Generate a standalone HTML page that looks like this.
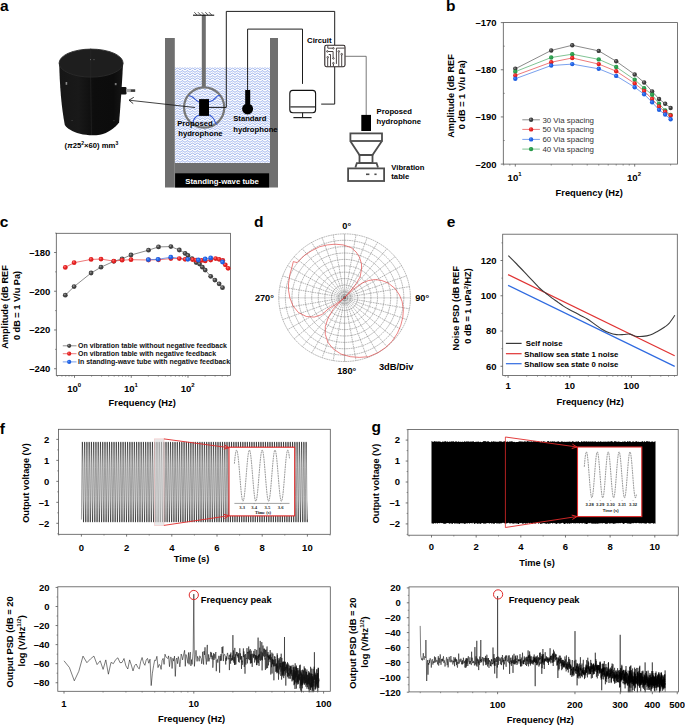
<!DOCTYPE html>
<html><head><meta charset="utf-8"><style>
html,body{margin:0;padding:0;background:#fff;width:685px;height:725px;overflow:hidden;}
svg{display:block;}
</style></head><body>
<svg width="685" height="725" viewBox="0 0 685 725" font-family="'Liberation Sans', sans-serif"><text x="0.00" y="10.90" font-size="15.5" font-weight="bold" text-anchor="start" fill="#000">a</text>
<text x="445.90" y="11.30" font-size="15.5" font-weight="bold" text-anchor="start" fill="#000">b</text>
<text x="-0.20" y="227.20" font-size="15.5" font-weight="bold" text-anchor="start" fill="#000">c</text>
<text x="253.90" y="227.20" font-size="15.5" font-weight="bold" text-anchor="start" fill="#000">d</text>
<text x="446.80" y="227.00" font-size="15.5" font-weight="bold" text-anchor="start" fill="#000">e</text>
<text x="-0.30" y="433.80" font-size="15.5" font-weight="bold" text-anchor="start" fill="#000">f</text>
<text x="371.50" y="431.80" font-size="15.5" font-weight="bold" text-anchor="start" fill="#000">g</text>
<defs>
<pattern id="water" x="175" y="67.5" width="5" height="2.5" patternUnits="userSpaceOnUse">
<path d="M-2.5,0.7 C-1.5,0.7 -1.2,2.0 0,2.0 C1.2,2.0 1.5,0.7 2.5,0.7 C3.5,0.7 3.8,2.0 5,2.0 C6.2,2.0 6.5,0.7 7.5,0.7" stroke="#3560d8" stroke-width="0.6" fill="none"/>
</pattern>
<linearGradient id="cylg" x1="0" x2="1" y1="0" y2="0">
<stop offset="0" stop-color="#161616"/><stop offset="0.3" stop-color="#191919"/><stop offset="0.55" stop-color="#0d0d0d"/><stop offset="0.85" stop-color="#0c0c0c"/><stop offset="1" stop-color="#161616"/>
</linearGradient>
</defs>
<path d="M59.2,63 C59.6,85 61.5,108 64.8,125 C67,128.5 72,131.5 80,133.8 C86,135.3 93,135.8 100,134.8 C108,133 115,128 119.1,122.5 C120.5,105 122,85 123.1,63 Z" stroke="none" stroke-width="1" fill="url(#cylg)"/>
<ellipse cx="91.1" cy="63.1" rx="32" ry="14" fill="#1e1e1e" stroke="#2a2a2a" stroke-width="0.9"/>
<line x1="90.70" y1="48.50" x2="90.70" y2="77.00" stroke="#2a2a2a" stroke-width="0.5"/>
<line x1="90.60" y1="77.00" x2="91.50" y2="135.00" stroke="#262626" stroke-width="0.6"/>
<rect x="65.60" y="82.00" width="1.60" height="2.80" fill="#8a8a8a" stroke="none" stroke-width="1" rx="0"/>
<rect x="114.80" y="83.00" width="1.80" height="2.20" fill="#777" stroke="none" stroke-width="1" rx="0"/>
<rect x="90.00" y="59.30" width="0.80" height="0.80" fill="#999" stroke="none" stroke-width="1" rx="0"/>
<rect x="93.60" y="59.30" width="0.80" height="0.80" fill="#999" stroke="none" stroke-width="1" rx="0"/>
<rect x="71.60" y="120.00" width="0.90" height="0.90" fill="#555" stroke="none" stroke-width="1" rx="0"/>
<rect x="113.50" y="120.30" width="0.90" height="0.90" fill="#555" stroke="none" stroke-width="1" rx="0"/>
<rect x="120.30" y="86.90" width="6.20" height="7.60" fill="#111" stroke="none" stroke-width="1" rx="1.2"/>
<rect x="126.30" y="88.90" width="4.70" height="3.20" fill="#a8a8a8" stroke="none" stroke-width="1" rx="0"/>
<rect x="130.80" y="89.30" width="4.40" height="2.60" fill="#3a3a3a" stroke="none" stroke-width="1" rx="0"/>
<text x="91.40" y="148.30" font-size="7.7" font-weight="bold" text-anchor="middle" fill="#000">(<tspan font-style="italic">π</tspan>25<tspan font-size="5" dy="-3">2</tspan><tspan dy="3">×60) mm</tspan><tspan font-size="5" dy="-3">3</tspan></text>
<rect x="174.80" y="67.20" width="95.20" height="95.80" fill="#fff" stroke="none" stroke-width="1" rx="0"/>
<rect x="174.80" y="67.20" width="95.20" height="95.80" fill="url(#water)" stroke="none" stroke-width="1" rx="0"/>
<rect x="165.00" y="38.00" width="9.80" height="149.50" fill="#6f6f6f" stroke="none" stroke-width="1" rx="0"/>
<rect x="270.00" y="38.00" width="8.00" height="149.50" fill="#6f6f6f" stroke="none" stroke-width="1" rx="0"/>
<rect x="174.80" y="163.00" width="95.20" height="24.50" fill="#6f6f6f" stroke="none" stroke-width="1" rx="0"/>
<rect x="175.10" y="173.30" width="94.00" height="14.20" fill="#000" stroke="none" stroke-width="1" rx="0"/>
<text x="222.10" y="183.60" font-size="7.8" font-weight="bold" text-anchor="middle" fill="#fff">Standing-wave tube</text>
<rect x="201.80" y="15.00" width="4.00" height="72.00" fill="#6f6f6f" stroke="none" stroke-width="1" rx="0"/>
<line x1="193.00" y1="15.20" x2="214.20" y2="15.20" stroke="#111" stroke-width="1.1"/>
<line x1="194.30" y1="12.20" x2="196.90" y2="14.90" stroke="#111" stroke-width="0.7"/>
<line x1="197.98" y1="12.20" x2="200.58" y2="14.90" stroke="#111" stroke-width="0.7"/>
<line x1="201.66" y1="12.20" x2="204.26" y2="14.90" stroke="#111" stroke-width="0.7"/>
<line x1="205.34" y1="12.20" x2="207.94" y2="14.90" stroke="#111" stroke-width="0.7"/>
<line x1="209.02" y1="12.20" x2="211.62" y2="14.90" stroke="#111" stroke-width="0.7"/>
<circle cx="204.15" cy="107.50" r="20.10" fill="none" stroke="#777" stroke-width="2.2"/>
<path d="M199,102.1 C196,100.5 194,98 192,96.8 S189.5,95.7 188.7,95.7" stroke="#3358d4" stroke-width="1.1" fill="none"/>
<path d="M209,101.8 C212,101 214.5,99.5 216.3,97.1 S219,95.7 220.3,95.7" stroke="#3358d4" stroke-width="1.1" fill="none"/>
<path d="M199,114.9 C196.5,116 194,118 193.4,120.9 S193,123 193,123.6" stroke="#3358d4" stroke-width="1.1" fill="none"/>
<path d="M209.3,114.9 C211.5,116 214,118.5 214.9,121.6 S216.5,124 217.6,124.3" stroke="#3358d4" stroke-width="1.1" fill="none"/>
<rect x="199.10" y="99.10" width="9.90" height="16.80" fill="#000" stroke="none" stroke-width="1" rx="0"/>
<line x1="195.00" y1="107.50" x2="129.00" y2="100.20" stroke="#111" stroke-width="0.8"/>
<polyline points="133.80,97.30 129.00,100.20 133.20,103.60" stroke="#111" stroke-width="0.8" fill="none"/>
<polyline points="209.00,107.40 226.30,107.40 226.30,11.40 334.70,11.40 334.70,45.30" stroke="#111" stroke-width="0.95" fill="none"/>
<polyline points="334.70,66.70 334.70,104.10 321.20,104.10" stroke="#111" stroke-width="0.95" fill="none"/>
<polyline points="247.60,90.00 247.60,29.10 302.50,29.10 302.50,83.90" stroke="#111" stroke-width="0.95" fill="none"/>
<rect x="245.20" y="90.00" width="5.00" height="14.00" fill="#000" stroke="none" stroke-width="1" rx="0"/>
<circle cx="247.60" cy="108.90" r="5.50" fill="#000" stroke="none" stroke-width="1"/>
<text x="177.20" y="125.60" font-size="7.7" font-weight="bold" text-anchor="start" fill="#000">Proposed</text>
<text x="178.20" y="135.80" font-size="7.7" font-weight="bold" text-anchor="start" fill="#000">hydrophone</text>
<text x="233.20" y="120.50" font-size="7.7" font-weight="bold" text-anchor="start" fill="#000">Standard</text>
<text x="233.20" y="131.80" font-size="7.7" font-weight="bold" text-anchor="start" fill="#000">hydrophone</text>
<rect x="289.80" y="90.40" width="25.80" height="22.30" fill="none" stroke="#111" stroke-width="1.1" rx="3"/>
<line x1="290.30" y1="106.90" x2="315.20" y2="106.90" stroke="#333" stroke-width="1.3"/>
<line x1="302.60" y1="112.80" x2="302.60" y2="117.60" stroke="#111" stroke-width="1"/>
<line x1="293.40" y1="117.60" x2="311.60" y2="117.60" stroke="#222" stroke-width="1.2"/>
<text x="307.10" y="42.80" font-size="7.7" font-weight="bold" text-anchor="start" fill="#000">Circuit</text>
<rect x="324.80" y="45.30" width="20.20" height="21.40" fill="#fff" stroke="#2a2222" stroke-width="1.1" rx="1.6"/>
<polyline points="327.80,45.80 327.80,48.20 332.60,48.20" stroke="#2a2222" stroke-width="0.85" fill="none"/>
<circle cx="333.40" cy="48.30" r="0.80" fill="none" stroke="#2a2222" stroke-width="0.75"/>
<polyline points="328.20,51.50 333.10,51.50 333.10,57.50" stroke="#2a2222" stroke-width="0.85" fill="none"/>
<circle cx="327.40" cy="51.40" r="0.80" fill="none" stroke="#2a2222" stroke-width="0.75"/>
<circle cx="333.40" cy="58.40" r="0.80" fill="none" stroke="#2a2222" stroke-width="0.75"/>
<polyline points="328.80,54.50 330.50,54.50 330.50,66.30" stroke="#2a2222" stroke-width="0.85" fill="none"/>
<circle cx="327.70" cy="57.30" r="0.80" fill="none" stroke="#2a2222" stroke-width="0.75"/>
<line x1="327.70" y1="58.10" x2="327.70" y2="66.30" stroke="#2a2222" stroke-width="0.85"/>
<circle cx="333.40" cy="63.20" r="0.80" fill="none" stroke="#2a2222" stroke-width="0.75"/>
<line x1="333.40" y1="64.00" x2="333.40" y2="66.30" stroke="#2a2222" stroke-width="0.85"/>
<polyline points="336.40,63.90 336.40,48.10 344.50,48.10" stroke="#2a2222" stroke-width="0.85" fill="none"/>
<circle cx="338.80" cy="51.40" r="0.80" fill="none" stroke="#2a2222" stroke-width="0.75"/>
<line x1="338.80" y1="52.20" x2="338.80" y2="66.30" stroke="#2a2222" stroke-width="0.85"/>
<circle cx="341.70" cy="54.20" r="0.80" fill="none" stroke="#2a2222" stroke-width="0.75"/>
<line x1="341.70" y1="55.00" x2="341.70" y2="66.30" stroke="#2a2222" stroke-width="0.85"/>
<polyline points="345.00,56.30 366.20,56.30 366.20,115.00" stroke="#555" stroke-width="0.8" fill="none"/>
<rect x="361.30" y="114.90" width="9.70" height="16.10" fill="#000" stroke="none" stroke-width="1" rx="0"/>
<rect x="350.40" y="133.40" width="31.60" height="7.60" fill="none" stroke="#4d4d4d" stroke-width="1.8" rx="0"/>
<path d="M350.6,141.4 L359.5,155 L372.5,155 L381.6,141.4" stroke="#4d4d4d" stroke-width="1.8" fill="none"/>
<rect x="359.50" y="155.00" width="13.00" height="8.00" fill="none" stroke="#4d4d4d" stroke-width="1.8" rx="0"/>
<path d="M355.4,167.5 L356.8,163.2 L376.6,163.2 L378,167.5" stroke="#4d4d4d" stroke-width="1.8" fill="none"/>
<rect x="348.10" y="168.40" width="36.00" height="12.60" fill="none" stroke="#4d4d4d" stroke-width="1.8" rx="0"/>
<line x1="366.00" y1="174.30" x2="369.40" y2="174.30" stroke="#4d4d4d" stroke-width="1.6"/>
<line x1="374.40" y1="174.30" x2="376.60" y2="174.30" stroke="#4d4d4d" stroke-width="1.6"/>
<text x="376.60" y="113.60" font-size="7.7" font-weight="bold" text-anchor="start" fill="#000">Proposed</text>
<text x="376.60" y="123.80" font-size="7.7" font-weight="bold" text-anchor="start" fill="#000">hydrophone</text>
<text x="391.30" y="170.30" font-size="7.7" font-weight="bold" text-anchor="start" fill="#000">Vibration</text>
<text x="391.30" y="179.40" font-size="7.7" font-weight="bold" text-anchor="start" fill="#000">table</text>
<rect x="503.30" y="22.60" width="174.20" height="141.50" fill="none" stroke="#555" stroke-width="0.8" rx="0"/>
<line x1="500.80" y1="22.60" x2="503.30" y2="22.60" stroke="#555" stroke-width="0.8"/>
<text x="496.60" y="26.10" font-size="9.5" font-weight="bold" text-anchor="end" fill="#000">–170</text>
<line x1="500.80" y1="69.77" x2="503.30" y2="69.77" stroke="#555" stroke-width="0.8"/>
<text x="496.60" y="73.27" font-size="9.5" font-weight="bold" text-anchor="end" fill="#000">–180</text>
<line x1="500.80" y1="116.93" x2="503.30" y2="116.93" stroke="#555" stroke-width="0.8"/>
<text x="496.60" y="120.43" font-size="9.5" font-weight="bold" text-anchor="end" fill="#000">–190</text>
<line x1="500.80" y1="164.10" x2="503.30" y2="164.10" stroke="#555" stroke-width="0.8"/>
<text x="496.60" y="167.60" font-size="9.5" font-weight="bold" text-anchor="end" fill="#000">–200</text>
<line x1="503.30" y1="46.18" x2="504.80" y2="46.18" stroke="#555" stroke-width="0.6"/>
<line x1="503.30" y1="93.35" x2="504.80" y2="93.35" stroke="#555" stroke-width="0.6"/>
<line x1="503.30" y1="140.52" x2="504.80" y2="140.52" stroke="#555" stroke-width="0.6"/>
<line x1="515.30" y1="164.10" x2="515.30" y2="166.60" stroke="#555" stroke-width="0.8"/>
<line x1="634.70" y1="164.10" x2="634.70" y2="166.60" stroke="#555" stroke-width="0.8"/>
<line x1="503.73" y1="164.10" x2="503.73" y2="165.60" stroke="#555" stroke-width="0.6"/>
<line x1="509.84" y1="164.10" x2="509.84" y2="165.60" stroke="#555" stroke-width="0.6"/>
<line x1="551.24" y1="164.10" x2="551.24" y2="165.60" stroke="#555" stroke-width="0.6"/>
<line x1="572.27" y1="164.10" x2="572.27" y2="165.60" stroke="#555" stroke-width="0.6"/>
<line x1="587.19" y1="164.10" x2="587.19" y2="165.60" stroke="#555" stroke-width="0.6"/>
<line x1="598.76" y1="164.10" x2="598.76" y2="165.60" stroke="#555" stroke-width="0.6"/>
<line x1="608.21" y1="164.10" x2="608.21" y2="165.60" stroke="#555" stroke-width="0.6"/>
<line x1="616.20" y1="164.10" x2="616.20" y2="165.60" stroke="#555" stroke-width="0.6"/>
<line x1="623.13" y1="164.10" x2="623.13" y2="165.60" stroke="#555" stroke-width="0.6"/>
<line x1="629.24" y1="164.10" x2="629.24" y2="165.60" stroke="#555" stroke-width="0.6"/>
<line x1="670.64" y1="164.10" x2="670.64" y2="165.60" stroke="#555" stroke-width="0.6"/>
<text x="514.60" y="181.00" font-size="9.6" font-weight="bold" text-anchor="middle" fill="#000">10<tspan font-size="6" dy="-4.6">1</tspan></text>
<text x="634.00" y="181.00" font-size="9.6" font-weight="bold" text-anchor="middle" fill="#000">10<tspan font-size="6" dy="-4.6">2</tspan></text>
<text x="589.20" y="195.50" font-size="9.3" font-weight="bold" text-anchor="middle" fill="#000">Frequency (Hz)</text>
<text x="454.30" y="96.00" font-size="9.2" font-weight="bold" text-anchor="middle" fill="#000" transform="rotate(-90 454.3 96)">Amplitude (dB REF</text>
<text x="465.50" y="94.70" font-size="9.2" font-weight="bold" text-anchor="middle" fill="#000" transform="rotate(-90 465.5 94.7)">0 dB = 1 V/u Pa)</text>
<polyline points="515.30,68.82 551.24,50.43 572.27,45.24 598.76,50.90 616.20,61.28 634.70,74.48 644.15,82.50 652.15,91.46 659.07,99.01 665.18,103.73 670.64,107.97" stroke="#3a3a3a" stroke-width="0.6" fill="none"/>
<polyline points="515.30,71.65 551.24,57.50 572.27,54.20 598.76,59.39 616.20,66.94 634.70,79.67 644.15,88.16 652.15,94.77 659.07,103.73 665.18,110.33 670.64,115.05" stroke="#2a9a4a" stroke-width="0.6" fill="none"/>
<polyline points="515.30,75.43 551.24,62.22 572.27,57.98 598.76,64.11 616.20,71.18 634.70,83.45 644.15,90.99 652.15,99.01 659.07,106.56 665.18,111.75 670.64,115.52" stroke="#e02020" stroke-width="0.6" fill="none"/>
<polyline points="515.30,78.73 551.24,65.52 572.27,64.11 598.76,68.82 616.20,75.90 634.70,87.22 644.15,94.29 652.15,102.31 659.07,109.86 665.18,114.57 670.64,119.29" stroke="#1f5fe0" stroke-width="0.6" fill="none"/>
<circle cx="515.30" cy="68.82" r="2.20" fill="#3a3a3a" stroke="none" stroke-width="1"/>
<circle cx="514.80" cy="68.22" r="0.90" fill="#808080" stroke="none" stroke-width="1"/>
<circle cx="551.24" cy="50.43" r="2.20" fill="#3a3a3a" stroke="none" stroke-width="1"/>
<circle cx="550.74" cy="49.83" r="0.90" fill="#808080" stroke="none" stroke-width="1"/>
<circle cx="572.27" cy="45.24" r="2.20" fill="#3a3a3a" stroke="none" stroke-width="1"/>
<circle cx="571.77" cy="44.64" r="0.90" fill="#808080" stroke="none" stroke-width="1"/>
<circle cx="598.76" cy="50.90" r="2.20" fill="#3a3a3a" stroke="none" stroke-width="1"/>
<circle cx="598.26" cy="50.30" r="0.90" fill="#808080" stroke="none" stroke-width="1"/>
<circle cx="616.20" cy="61.28" r="2.20" fill="#3a3a3a" stroke="none" stroke-width="1"/>
<circle cx="615.70" cy="60.68" r="0.90" fill="#808080" stroke="none" stroke-width="1"/>
<circle cx="634.70" cy="74.48" r="2.20" fill="#3a3a3a" stroke="none" stroke-width="1"/>
<circle cx="634.20" cy="73.88" r="0.90" fill="#808080" stroke="none" stroke-width="1"/>
<circle cx="644.15" cy="82.50" r="2.20" fill="#3a3a3a" stroke="none" stroke-width="1"/>
<circle cx="643.65" cy="81.90" r="0.90" fill="#808080" stroke="none" stroke-width="1"/>
<circle cx="652.15" cy="91.46" r="2.20" fill="#3a3a3a" stroke="none" stroke-width="1"/>
<circle cx="651.65" cy="90.86" r="0.90" fill="#808080" stroke="none" stroke-width="1"/>
<circle cx="659.07" cy="99.01" r="2.20" fill="#3a3a3a" stroke="none" stroke-width="1"/>
<circle cx="658.57" cy="98.41" r="0.90" fill="#808080" stroke="none" stroke-width="1"/>
<circle cx="665.18" cy="103.73" r="2.20" fill="#3a3a3a" stroke="none" stroke-width="1"/>
<circle cx="664.68" cy="103.13" r="0.90" fill="#808080" stroke="none" stroke-width="1"/>
<circle cx="670.64" cy="107.97" r="2.20" fill="#3a3a3a" stroke="none" stroke-width="1"/>
<circle cx="670.14" cy="107.37" r="0.90" fill="#808080" stroke="none" stroke-width="1"/>
<circle cx="515.30" cy="71.65" r="2.20" fill="#2a9a4a" stroke="none" stroke-width="1"/>
<circle cx="514.80" cy="71.05" r="0.90" fill="#3cb060" stroke="none" stroke-width="1"/>
<circle cx="551.24" cy="57.50" r="2.20" fill="#2a9a4a" stroke="none" stroke-width="1"/>
<circle cx="550.74" cy="56.90" r="0.90" fill="#3cb060" stroke="none" stroke-width="1"/>
<circle cx="572.27" cy="54.20" r="2.20" fill="#2a9a4a" stroke="none" stroke-width="1"/>
<circle cx="571.77" cy="53.60" r="0.90" fill="#3cb060" stroke="none" stroke-width="1"/>
<circle cx="598.76" cy="59.39" r="2.20" fill="#2a9a4a" stroke="none" stroke-width="1"/>
<circle cx="598.26" cy="58.79" r="0.90" fill="#3cb060" stroke="none" stroke-width="1"/>
<circle cx="616.20" cy="66.94" r="2.20" fill="#2a9a4a" stroke="none" stroke-width="1"/>
<circle cx="615.70" cy="66.34" r="0.90" fill="#3cb060" stroke="none" stroke-width="1"/>
<circle cx="634.70" cy="79.67" r="2.20" fill="#2a9a4a" stroke="none" stroke-width="1"/>
<circle cx="634.20" cy="79.07" r="0.90" fill="#3cb060" stroke="none" stroke-width="1"/>
<circle cx="644.15" cy="88.16" r="2.20" fill="#2a9a4a" stroke="none" stroke-width="1"/>
<circle cx="643.65" cy="87.56" r="0.90" fill="#3cb060" stroke="none" stroke-width="1"/>
<circle cx="652.15" cy="94.77" r="2.20" fill="#2a9a4a" stroke="none" stroke-width="1"/>
<circle cx="651.65" cy="94.17" r="0.90" fill="#3cb060" stroke="none" stroke-width="1"/>
<circle cx="659.07" cy="103.73" r="2.20" fill="#2a9a4a" stroke="none" stroke-width="1"/>
<circle cx="658.57" cy="103.13" r="0.90" fill="#3cb060" stroke="none" stroke-width="1"/>
<circle cx="665.18" cy="110.33" r="2.20" fill="#2a9a4a" stroke="none" stroke-width="1"/>
<circle cx="664.68" cy="109.73" r="0.90" fill="#3cb060" stroke="none" stroke-width="1"/>
<circle cx="670.64" cy="115.05" r="2.20" fill="#2a9a4a" stroke="none" stroke-width="1"/>
<circle cx="670.14" cy="114.45" r="0.90" fill="#3cb060" stroke="none" stroke-width="1"/>
<circle cx="515.30" cy="75.43" r="2.20" fill="#e02020" stroke="none" stroke-width="1"/>
<circle cx="514.80" cy="74.83" r="0.90" fill="#ff5050" stroke="none" stroke-width="1"/>
<circle cx="551.24" cy="62.22" r="2.20" fill="#e02020" stroke="none" stroke-width="1"/>
<circle cx="550.74" cy="61.62" r="0.90" fill="#ff5050" stroke="none" stroke-width="1"/>
<circle cx="572.27" cy="57.98" r="2.20" fill="#e02020" stroke="none" stroke-width="1"/>
<circle cx="571.77" cy="57.38" r="0.90" fill="#ff5050" stroke="none" stroke-width="1"/>
<circle cx="598.76" cy="64.11" r="2.20" fill="#e02020" stroke="none" stroke-width="1"/>
<circle cx="598.26" cy="63.51" r="0.90" fill="#ff5050" stroke="none" stroke-width="1"/>
<circle cx="616.20" cy="71.18" r="2.20" fill="#e02020" stroke="none" stroke-width="1"/>
<circle cx="615.70" cy="70.58" r="0.90" fill="#ff5050" stroke="none" stroke-width="1"/>
<circle cx="634.70" cy="83.45" r="2.20" fill="#e02020" stroke="none" stroke-width="1"/>
<circle cx="634.20" cy="82.85" r="0.90" fill="#ff5050" stroke="none" stroke-width="1"/>
<circle cx="644.15" cy="90.99" r="2.20" fill="#e02020" stroke="none" stroke-width="1"/>
<circle cx="643.65" cy="90.39" r="0.90" fill="#ff5050" stroke="none" stroke-width="1"/>
<circle cx="652.15" cy="99.01" r="2.20" fill="#e02020" stroke="none" stroke-width="1"/>
<circle cx="651.65" cy="98.41" r="0.90" fill="#ff5050" stroke="none" stroke-width="1"/>
<circle cx="659.07" cy="106.56" r="2.20" fill="#e02020" stroke="none" stroke-width="1"/>
<circle cx="658.57" cy="105.96" r="0.90" fill="#ff5050" stroke="none" stroke-width="1"/>
<circle cx="665.18" cy="111.75" r="2.20" fill="#e02020" stroke="none" stroke-width="1"/>
<circle cx="664.68" cy="111.15" r="0.90" fill="#ff5050" stroke="none" stroke-width="1"/>
<circle cx="670.64" cy="115.52" r="2.20" fill="#e02020" stroke="none" stroke-width="1"/>
<circle cx="670.14" cy="114.92" r="0.90" fill="#ff5050" stroke="none" stroke-width="1"/>
<circle cx="515.30" cy="78.73" r="2.20" fill="#1f5fe0" stroke="none" stroke-width="1"/>
<circle cx="514.80" cy="78.13" r="0.90" fill="#4a88ff" stroke="none" stroke-width="1"/>
<circle cx="551.24" cy="65.52" r="2.20" fill="#1f5fe0" stroke="none" stroke-width="1"/>
<circle cx="550.74" cy="64.92" r="0.90" fill="#4a88ff" stroke="none" stroke-width="1"/>
<circle cx="572.27" cy="64.11" r="2.20" fill="#1f5fe0" stroke="none" stroke-width="1"/>
<circle cx="571.77" cy="63.51" r="0.90" fill="#4a88ff" stroke="none" stroke-width="1"/>
<circle cx="598.76" cy="68.82" r="2.20" fill="#1f5fe0" stroke="none" stroke-width="1"/>
<circle cx="598.26" cy="68.22" r="0.90" fill="#4a88ff" stroke="none" stroke-width="1"/>
<circle cx="616.20" cy="75.90" r="2.20" fill="#1f5fe0" stroke="none" stroke-width="1"/>
<circle cx="615.70" cy="75.30" r="0.90" fill="#4a88ff" stroke="none" stroke-width="1"/>
<circle cx="634.70" cy="87.22" r="2.20" fill="#1f5fe0" stroke="none" stroke-width="1"/>
<circle cx="634.20" cy="86.62" r="0.90" fill="#4a88ff" stroke="none" stroke-width="1"/>
<circle cx="644.15" cy="94.29" r="2.20" fill="#1f5fe0" stroke="none" stroke-width="1"/>
<circle cx="643.65" cy="93.69" r="0.90" fill="#4a88ff" stroke="none" stroke-width="1"/>
<circle cx="652.15" cy="102.31" r="2.20" fill="#1f5fe0" stroke="none" stroke-width="1"/>
<circle cx="651.65" cy="101.71" r="0.90" fill="#4a88ff" stroke="none" stroke-width="1"/>
<circle cx="659.07" cy="109.86" r="2.20" fill="#1f5fe0" stroke="none" stroke-width="1"/>
<circle cx="658.57" cy="109.26" r="0.90" fill="#4a88ff" stroke="none" stroke-width="1"/>
<circle cx="665.18" cy="114.57" r="2.20" fill="#1f5fe0" stroke="none" stroke-width="1"/>
<circle cx="664.68" cy="113.97" r="0.90" fill="#4a88ff" stroke="none" stroke-width="1"/>
<circle cx="670.64" cy="119.29" r="2.20" fill="#1f5fe0" stroke="none" stroke-width="1"/>
<circle cx="670.14" cy="118.69" r="0.90" fill="#4a88ff" stroke="none" stroke-width="1"/>
<line x1="522.30" y1="119.80" x2="539.90" y2="119.80" stroke="#3a3a3a" stroke-width="0.6"/>
<circle cx="531.10" cy="119.80" r="2.20" fill="#3a3a3a" stroke="none" stroke-width="1"/>
<circle cx="530.60" cy="119.20" r="0.90" fill="#808080" stroke="none" stroke-width="1"/>
<text x="542.40" y="122.60" font-size="7.9" font-weight="normal" text-anchor="start" fill="#333">30 Via spacing</text>
<line x1="522.30" y1="129.40" x2="539.90" y2="129.40" stroke="#e02020" stroke-width="0.6"/>
<circle cx="531.10" cy="129.40" r="2.20" fill="#e02020" stroke="none" stroke-width="1"/>
<circle cx="530.60" cy="128.80" r="0.90" fill="#ff5050" stroke="none" stroke-width="1"/>
<text x="542.40" y="132.20" font-size="7.9" font-weight="normal" text-anchor="start" fill="#333">50 Via spacing</text>
<line x1="522.30" y1="139.40" x2="539.90" y2="139.40" stroke="#1f5fe0" stroke-width="0.6"/>
<circle cx="531.10" cy="139.40" r="2.20" fill="#1f5fe0" stroke="none" stroke-width="1"/>
<circle cx="530.60" cy="138.80" r="0.90" fill="#4a88ff" stroke="none" stroke-width="1"/>
<text x="542.40" y="142.20" font-size="7.9" font-weight="normal" text-anchor="start" fill="#333">60 Via spacing</text>
<line x1="522.30" y1="149.10" x2="539.90" y2="149.10" stroke="#2a9a4a" stroke-width="0.6"/>
<circle cx="531.10" cy="149.10" r="2.20" fill="#2a9a4a" stroke="none" stroke-width="1"/>
<circle cx="530.60" cy="148.50" r="0.90" fill="#3cb060" stroke="none" stroke-width="1"/>
<text x="542.40" y="151.90" font-size="7.9" font-weight="normal" text-anchor="start" fill="#333">40 Via spacing</text>
<rect x="56.30" y="233.30" width="174.10" height="142.20" fill="none" stroke="#555" stroke-width="0.8" rx="0"/>
<line x1="54.10" y1="252.50" x2="56.30" y2="252.50" stroke="#555" stroke-width="0.8"/>
<text x="50.30" y="256.00" font-size="9.5" font-weight="bold" text-anchor="end" fill="#000">–180</text>
<line x1="54.10" y1="291.24" x2="56.30" y2="291.24" stroke="#555" stroke-width="0.8"/>
<text x="50.30" y="294.74" font-size="9.5" font-weight="bold" text-anchor="end" fill="#000">–200</text>
<line x1="54.10" y1="329.98" x2="56.30" y2="329.98" stroke="#555" stroke-width="0.8"/>
<text x="50.30" y="333.48" font-size="9.5" font-weight="bold" text-anchor="end" fill="#000">–220</text>
<line x1="54.10" y1="368.72" x2="56.30" y2="368.72" stroke="#555" stroke-width="0.8"/>
<text x="50.30" y="372.22" font-size="9.5" font-weight="bold" text-anchor="end" fill="#000">–240</text>
<line x1="55.00" y1="233.13" x2="56.30" y2="233.13" stroke="#555" stroke-width="0.6"/>
<line x1="55.00" y1="271.87" x2="56.30" y2="271.87" stroke="#555" stroke-width="0.6"/>
<line x1="55.00" y1="310.61" x2="56.30" y2="310.61" stroke="#555" stroke-width="0.6"/>
<line x1="55.00" y1="349.35" x2="56.30" y2="349.35" stroke="#555" stroke-width="0.6"/>
<line x1="74.50" y1="375.50" x2="74.50" y2="377.80" stroke="#555" stroke-width="0.8"/>
<line x1="131.25" y1="375.50" x2="131.25" y2="377.80" stroke="#555" stroke-width="0.8"/>
<line x1="188.00" y1="375.50" x2="188.00" y2="377.80" stroke="#555" stroke-width="0.8"/>
<line x1="57.42" y1="375.50" x2="57.42" y2="376.80" stroke="#555" stroke-width="0.5"/>
<line x1="61.91" y1="375.50" x2="61.91" y2="376.80" stroke="#555" stroke-width="0.5"/>
<line x1="65.71" y1="375.50" x2="65.71" y2="376.80" stroke="#555" stroke-width="0.5"/>
<line x1="69.00" y1="375.50" x2="69.00" y2="376.80" stroke="#555" stroke-width="0.5"/>
<line x1="71.90" y1="375.50" x2="71.90" y2="376.80" stroke="#555" stroke-width="0.5"/>
<line x1="91.58" y1="375.50" x2="91.58" y2="376.80" stroke="#555" stroke-width="0.5"/>
<line x1="101.58" y1="375.50" x2="101.58" y2="376.80" stroke="#555" stroke-width="0.5"/>
<line x1="108.67" y1="375.50" x2="108.67" y2="376.80" stroke="#555" stroke-width="0.5"/>
<line x1="114.17" y1="375.50" x2="114.17" y2="376.80" stroke="#555" stroke-width="0.5"/>
<line x1="118.66" y1="375.50" x2="118.66" y2="376.80" stroke="#555" stroke-width="0.5"/>
<line x1="122.46" y1="375.50" x2="122.46" y2="376.80" stroke="#555" stroke-width="0.5"/>
<line x1="125.75" y1="375.50" x2="125.75" y2="376.80" stroke="#555" stroke-width="0.5"/>
<line x1="128.65" y1="375.50" x2="128.65" y2="376.80" stroke="#555" stroke-width="0.5"/>
<line x1="148.33" y1="375.50" x2="148.33" y2="376.80" stroke="#555" stroke-width="0.5"/>
<line x1="158.33" y1="375.50" x2="158.33" y2="376.80" stroke="#555" stroke-width="0.5"/>
<line x1="165.42" y1="375.50" x2="165.42" y2="376.80" stroke="#555" stroke-width="0.5"/>
<line x1="170.92" y1="375.50" x2="170.92" y2="376.80" stroke="#555" stroke-width="0.5"/>
<line x1="175.41" y1="375.50" x2="175.41" y2="376.80" stroke="#555" stroke-width="0.5"/>
<line x1="179.21" y1="375.50" x2="179.21" y2="376.80" stroke="#555" stroke-width="0.5"/>
<line x1="182.50" y1="375.50" x2="182.50" y2="376.80" stroke="#555" stroke-width="0.5"/>
<line x1="185.40" y1="375.50" x2="185.40" y2="376.80" stroke="#555" stroke-width="0.5"/>
<line x1="205.08" y1="375.50" x2="205.08" y2="376.80" stroke="#555" stroke-width="0.5"/>
<line x1="215.08" y1="375.50" x2="215.08" y2="376.80" stroke="#555" stroke-width="0.5"/>
<line x1="222.17" y1="375.50" x2="222.17" y2="376.80" stroke="#555" stroke-width="0.5"/>
<line x1="227.67" y1="375.50" x2="227.67" y2="376.80" stroke="#555" stroke-width="0.5"/>
<text x="74.20" y="391.60" font-size="9.6" font-weight="bold" text-anchor="middle" fill="#000">10<tspan font-size="6" dy="-4.6">0</tspan></text>
<text x="130.95" y="391.60" font-size="9.6" font-weight="bold" text-anchor="middle" fill="#000">10<tspan font-size="6" dy="-4.6">1</tspan></text>
<text x="187.70" y="391.60" font-size="9.6" font-weight="bold" text-anchor="middle" fill="#000">10<tspan font-size="6" dy="-4.6">2</tspan></text>
<text x="142.20" y="406.00" font-size="9.3" font-weight="bold" text-anchor="middle" fill="#000">Frequency (Hz)</text>
<text x="7.70" y="307.00" font-size="9.2" font-weight="bold" text-anchor="middle" fill="#000" transform="rotate(-90 7.7 307)">Amplitude (dB REF</text>
<text x="19.50" y="305.50" font-size="9.2" font-weight="bold" text-anchor="middle" fill="#000" transform="rotate(-90 19.5 305.5)">0 dB = 1 V/u Pa)</text>
<polyline points="65.30,295.20 74.10,286.60 91.10,273.00 101.00,267.20 113.80,261.30 122.10,258.80 131.00,255.00 148.50,250.20 158.50,246.90 170.90,246.60 179.30,250.00 185.10,253.30 187.90,255.50 192.00,258.60 196.20,262.50 199.60,264.10 202.40,267.20 205.20,270.10 210.70,276.30 214.90,280.10 219.10,283.80 222.50,287.70" stroke="#404040" stroke-width="0.6" fill="none"/>
<polyline points="65.30,267.40 74.10,262.70 91.10,259.40 101.00,259.10 113.80,261.10 122.10,260.20 131.00,259.70 148.50,260.00 158.50,259.80 170.90,258.60 179.30,258.60 185.10,259.30 192.70,259.70 196.20,260.20 201.70,260.40 205.20,260.90 210.70,260.00 215.60,258.60 219.10,259.30 222.80,260.50 225.30,264.80 228.10,268.30" stroke="#e02020" stroke-width="0.6" fill="none"/>
<polyline points="148.30,259.70 158.00,259.30 170.80,257.20 187.90,259.30 198.30,260.00 205.20,259.00 210.70,257.90 222.50,262.00" stroke="#1f5fe0" stroke-width="0.6" fill="none"/>
<circle cx="65.30" cy="295.20" r="2.40" fill="#404040" stroke="none" stroke-width="1"/>
<circle cx="64.80" cy="294.60" r="1.00" fill="#8a8a8a" stroke="none" stroke-width="1"/>
<circle cx="74.10" cy="286.60" r="2.40" fill="#404040" stroke="none" stroke-width="1"/>
<circle cx="73.60" cy="286.00" r="1.00" fill="#8a8a8a" stroke="none" stroke-width="1"/>
<circle cx="91.10" cy="273.00" r="2.40" fill="#404040" stroke="none" stroke-width="1"/>
<circle cx="90.60" cy="272.40" r="1.00" fill="#8a8a8a" stroke="none" stroke-width="1"/>
<circle cx="101.00" cy="267.20" r="2.40" fill="#404040" stroke="none" stroke-width="1"/>
<circle cx="100.50" cy="266.60" r="1.00" fill="#8a8a8a" stroke="none" stroke-width="1"/>
<circle cx="113.80" cy="261.30" r="2.40" fill="#404040" stroke="none" stroke-width="1"/>
<circle cx="113.30" cy="260.70" r="1.00" fill="#8a8a8a" stroke="none" stroke-width="1"/>
<circle cx="122.10" cy="258.80" r="2.40" fill="#404040" stroke="none" stroke-width="1"/>
<circle cx="121.60" cy="258.20" r="1.00" fill="#8a8a8a" stroke="none" stroke-width="1"/>
<circle cx="131.00" cy="255.00" r="2.40" fill="#404040" stroke="none" stroke-width="1"/>
<circle cx="130.50" cy="254.40" r="1.00" fill="#8a8a8a" stroke="none" stroke-width="1"/>
<circle cx="148.50" cy="250.20" r="2.40" fill="#404040" stroke="none" stroke-width="1"/>
<circle cx="148.00" cy="249.60" r="1.00" fill="#8a8a8a" stroke="none" stroke-width="1"/>
<circle cx="158.50" cy="246.90" r="2.40" fill="#404040" stroke="none" stroke-width="1"/>
<circle cx="158.00" cy="246.30" r="1.00" fill="#8a8a8a" stroke="none" stroke-width="1"/>
<circle cx="170.90" cy="246.60" r="2.40" fill="#404040" stroke="none" stroke-width="1"/>
<circle cx="170.40" cy="246.00" r="1.00" fill="#8a8a8a" stroke="none" stroke-width="1"/>
<circle cx="179.30" cy="250.00" r="2.40" fill="#404040" stroke="none" stroke-width="1"/>
<circle cx="178.80" cy="249.40" r="1.00" fill="#8a8a8a" stroke="none" stroke-width="1"/>
<circle cx="185.10" cy="253.30" r="2.40" fill="#404040" stroke="none" stroke-width="1"/>
<circle cx="184.60" cy="252.70" r="1.00" fill="#8a8a8a" stroke="none" stroke-width="1"/>
<circle cx="187.90" cy="255.50" r="2.40" fill="#404040" stroke="none" stroke-width="1"/>
<circle cx="187.40" cy="254.90" r="1.00" fill="#8a8a8a" stroke="none" stroke-width="1"/>
<circle cx="192.00" cy="258.60" r="2.40" fill="#404040" stroke="none" stroke-width="1"/>
<circle cx="191.50" cy="258.00" r="1.00" fill="#8a8a8a" stroke="none" stroke-width="1"/>
<circle cx="196.20" cy="262.50" r="2.40" fill="#404040" stroke="none" stroke-width="1"/>
<circle cx="195.70" cy="261.90" r="1.00" fill="#8a8a8a" stroke="none" stroke-width="1"/>
<circle cx="199.60" cy="264.10" r="2.40" fill="#404040" stroke="none" stroke-width="1"/>
<circle cx="199.10" cy="263.50" r="1.00" fill="#8a8a8a" stroke="none" stroke-width="1"/>
<circle cx="202.40" cy="267.20" r="2.40" fill="#404040" stroke="none" stroke-width="1"/>
<circle cx="201.90" cy="266.60" r="1.00" fill="#8a8a8a" stroke="none" stroke-width="1"/>
<circle cx="205.20" cy="270.10" r="2.40" fill="#404040" stroke="none" stroke-width="1"/>
<circle cx="204.70" cy="269.50" r="1.00" fill="#8a8a8a" stroke="none" stroke-width="1"/>
<circle cx="210.70" cy="276.30" r="2.40" fill="#404040" stroke="none" stroke-width="1"/>
<circle cx="210.20" cy="275.70" r="1.00" fill="#8a8a8a" stroke="none" stroke-width="1"/>
<circle cx="214.90" cy="280.10" r="2.40" fill="#404040" stroke="none" stroke-width="1"/>
<circle cx="214.40" cy="279.50" r="1.00" fill="#8a8a8a" stroke="none" stroke-width="1"/>
<circle cx="219.10" cy="283.80" r="2.40" fill="#404040" stroke="none" stroke-width="1"/>
<circle cx="218.60" cy="283.20" r="1.00" fill="#8a8a8a" stroke="none" stroke-width="1"/>
<circle cx="222.50" cy="287.70" r="2.40" fill="#404040" stroke="none" stroke-width="1"/>
<circle cx="222.00" cy="287.10" r="1.00" fill="#8a8a8a" stroke="none" stroke-width="1"/>
<circle cx="65.30" cy="267.40" r="2.40" fill="#e02020" stroke="none" stroke-width="1"/>
<circle cx="64.80" cy="266.80" r="1.00" fill="#ff6060" stroke="none" stroke-width="1"/>
<circle cx="74.10" cy="262.70" r="2.40" fill="#e02020" stroke="none" stroke-width="1"/>
<circle cx="73.60" cy="262.10" r="1.00" fill="#ff6060" stroke="none" stroke-width="1"/>
<circle cx="91.10" cy="259.40" r="2.40" fill="#e02020" stroke="none" stroke-width="1"/>
<circle cx="90.60" cy="258.80" r="1.00" fill="#ff6060" stroke="none" stroke-width="1"/>
<circle cx="101.00" cy="259.10" r="2.40" fill="#e02020" stroke="none" stroke-width="1"/>
<circle cx="100.50" cy="258.50" r="1.00" fill="#ff6060" stroke="none" stroke-width="1"/>
<circle cx="113.80" cy="261.10" r="2.40" fill="#e02020" stroke="none" stroke-width="1"/>
<circle cx="113.30" cy="260.50" r="1.00" fill="#ff6060" stroke="none" stroke-width="1"/>
<circle cx="122.10" cy="260.20" r="2.40" fill="#e02020" stroke="none" stroke-width="1"/>
<circle cx="121.60" cy="259.60" r="1.00" fill="#ff6060" stroke="none" stroke-width="1"/>
<circle cx="131.00" cy="259.70" r="2.40" fill="#e02020" stroke="none" stroke-width="1"/>
<circle cx="130.50" cy="259.10" r="1.00" fill="#ff6060" stroke="none" stroke-width="1"/>
<circle cx="148.50" cy="260.00" r="2.40" fill="#e02020" stroke="none" stroke-width="1"/>
<circle cx="148.00" cy="259.40" r="1.00" fill="#ff6060" stroke="none" stroke-width="1"/>
<circle cx="158.50" cy="259.80" r="2.40" fill="#e02020" stroke="none" stroke-width="1"/>
<circle cx="158.00" cy="259.20" r="1.00" fill="#ff6060" stroke="none" stroke-width="1"/>
<circle cx="170.90" cy="258.60" r="2.40" fill="#e02020" stroke="none" stroke-width="1"/>
<circle cx="170.40" cy="258.00" r="1.00" fill="#ff6060" stroke="none" stroke-width="1"/>
<circle cx="179.30" cy="258.60" r="2.40" fill="#e02020" stroke="none" stroke-width="1"/>
<circle cx="178.80" cy="258.00" r="1.00" fill="#ff6060" stroke="none" stroke-width="1"/>
<circle cx="185.10" cy="259.30" r="2.40" fill="#e02020" stroke="none" stroke-width="1"/>
<circle cx="184.60" cy="258.70" r="1.00" fill="#ff6060" stroke="none" stroke-width="1"/>
<circle cx="192.70" cy="259.70" r="2.40" fill="#e02020" stroke="none" stroke-width="1"/>
<circle cx="192.20" cy="259.10" r="1.00" fill="#ff6060" stroke="none" stroke-width="1"/>
<circle cx="196.20" cy="260.20" r="2.40" fill="#e02020" stroke="none" stroke-width="1"/>
<circle cx="195.70" cy="259.60" r="1.00" fill="#ff6060" stroke="none" stroke-width="1"/>
<circle cx="201.70" cy="260.40" r="2.40" fill="#e02020" stroke="none" stroke-width="1"/>
<circle cx="201.20" cy="259.80" r="1.00" fill="#ff6060" stroke="none" stroke-width="1"/>
<circle cx="205.20" cy="260.90" r="2.40" fill="#e02020" stroke="none" stroke-width="1"/>
<circle cx="204.70" cy="260.30" r="1.00" fill="#ff6060" stroke="none" stroke-width="1"/>
<circle cx="210.70" cy="260.00" r="2.40" fill="#e02020" stroke="none" stroke-width="1"/>
<circle cx="210.20" cy="259.40" r="1.00" fill="#ff6060" stroke="none" stroke-width="1"/>
<circle cx="215.60" cy="258.60" r="2.40" fill="#e02020" stroke="none" stroke-width="1"/>
<circle cx="215.10" cy="258.00" r="1.00" fill="#ff6060" stroke="none" stroke-width="1"/>
<circle cx="219.10" cy="259.30" r="2.40" fill="#e02020" stroke="none" stroke-width="1"/>
<circle cx="218.60" cy="258.70" r="1.00" fill="#ff6060" stroke="none" stroke-width="1"/>
<circle cx="222.80" cy="260.50" r="2.40" fill="#e02020" stroke="none" stroke-width="1"/>
<circle cx="222.30" cy="259.90" r="1.00" fill="#ff6060" stroke="none" stroke-width="1"/>
<circle cx="225.30" cy="264.80" r="2.40" fill="#e02020" stroke="none" stroke-width="1"/>
<circle cx="224.80" cy="264.20" r="1.00" fill="#ff6060" stroke="none" stroke-width="1"/>
<circle cx="228.10" cy="268.30" r="2.40" fill="#e02020" stroke="none" stroke-width="1"/>
<circle cx="227.60" cy="267.70" r="1.00" fill="#ff6060" stroke="none" stroke-width="1"/>
<circle cx="148.30" cy="259.70" r="2.40" fill="#1f5fe0" stroke="none" stroke-width="1"/>
<circle cx="147.80" cy="259.10" r="1.00" fill="#5090ff" stroke="none" stroke-width="1"/>
<circle cx="158.00" cy="259.30" r="2.40" fill="#1f5fe0" stroke="none" stroke-width="1"/>
<circle cx="157.50" cy="258.70" r="1.00" fill="#5090ff" stroke="none" stroke-width="1"/>
<circle cx="170.80" cy="257.20" r="2.40" fill="#1f5fe0" stroke="none" stroke-width="1"/>
<circle cx="170.30" cy="256.60" r="1.00" fill="#5090ff" stroke="none" stroke-width="1"/>
<circle cx="187.90" cy="259.30" r="2.40" fill="#1f5fe0" stroke="none" stroke-width="1"/>
<circle cx="187.40" cy="258.70" r="1.00" fill="#5090ff" stroke="none" stroke-width="1"/>
<circle cx="198.30" cy="260.00" r="2.40" fill="#1f5fe0" stroke="none" stroke-width="1"/>
<circle cx="197.80" cy="259.40" r="1.00" fill="#5090ff" stroke="none" stroke-width="1"/>
<circle cx="205.20" cy="259.00" r="2.40" fill="#1f5fe0" stroke="none" stroke-width="1"/>
<circle cx="204.70" cy="258.40" r="1.00" fill="#5090ff" stroke="none" stroke-width="1"/>
<circle cx="210.70" cy="257.90" r="2.40" fill="#1f5fe0" stroke="none" stroke-width="1"/>
<circle cx="210.20" cy="257.30" r="1.00" fill="#5090ff" stroke="none" stroke-width="1"/>
<circle cx="222.50" cy="262.00" r="2.40" fill="#1f5fe0" stroke="none" stroke-width="1"/>
<circle cx="222.00" cy="261.40" r="1.00" fill="#5090ff" stroke="none" stroke-width="1"/>
<line x1="62.80" y1="345.80" x2="76.50" y2="345.80" stroke="#404040" stroke-width="0.6"/>
<circle cx="69.20" cy="345.80" r="2.10" fill="#404040" stroke="none" stroke-width="1"/>
<circle cx="68.70" cy="345.20" r="0.85" fill="#8a8a8a" stroke="none" stroke-width="1"/>
<text x="78.00" y="348.30" font-size="7.0" font-weight="bold" text-anchor="start" fill="#111">On vibration table without negative feedback</text>
<line x1="62.80" y1="353.70" x2="76.50" y2="353.70" stroke="#e02020" stroke-width="0.6"/>
<circle cx="69.20" cy="353.70" r="2.10" fill="#e02020" stroke="none" stroke-width="1"/>
<circle cx="68.70" cy="353.10" r="0.85" fill="#ff6060" stroke="none" stroke-width="1"/>
<text x="78.00" y="356.20" font-size="7.0" font-weight="bold" text-anchor="start" fill="#111">On vibration table with negative feedback</text>
<line x1="62.80" y1="361.90" x2="76.50" y2="361.90" stroke="#1f5fe0" stroke-width="0.6"/>
<circle cx="69.20" cy="361.90" r="2.10" fill="#1f5fe0" stroke="none" stroke-width="1"/>
<circle cx="68.70" cy="361.30" r="0.85" fill="#5090ff" stroke="none" stroke-width="1"/>
<text x="78.00" y="364.40" font-size="7.0" font-weight="bold" text-anchor="start" fill="#111">In standing-wave tube with negative feedback</text>
<g transform="translate(344.6 297.7) scale(1 0.97)"><line x1="-65.8" y1="0" x2="65.8" y2="0" stroke="#e2e2e2" stroke-width="1.6"/><circle cx="0" cy="0" r="6.58" fill="none" stroke="#606060" stroke-width="0.45" stroke-dasharray="1.8 0.6"/><circle cx="0" cy="0" r="13.16" fill="none" stroke="#606060" stroke-width="0.45" stroke-dasharray="1.8 0.6"/><circle cx="0" cy="0" r="19.74" fill="none" stroke="#606060" stroke-width="0.45" stroke-dasharray="1.8 0.6"/><circle cx="0" cy="0" r="26.32" fill="none" stroke="#606060" stroke-width="0.45" stroke-dasharray="1.8 0.6"/><circle cx="0" cy="0" r="32.90" fill="none" stroke="#606060" stroke-width="0.45" stroke-dasharray="1.8 0.6"/><circle cx="0" cy="0" r="39.48" fill="none" stroke="#606060" stroke-width="0.45" stroke-dasharray="1.8 0.6"/><circle cx="0" cy="0" r="46.06" fill="none" stroke="#606060" stroke-width="0.45" stroke-dasharray="1.8 0.6"/><circle cx="0" cy="0" r="52.64" fill="none" stroke="#606060" stroke-width="0.45" stroke-dasharray="1.8 0.6"/><circle cx="0" cy="0" r="59.22" fill="none" stroke="#606060" stroke-width="0.45" stroke-dasharray="1.8 0.6"/><circle cx="0" cy="0" r="65.80" fill="none" stroke="#606060" stroke-width="0.45" stroke-dasharray="1.8 0.6"/><line x1="0.00" y1="0.00" x2="0.00" y2="-65.80" stroke="#606060" stroke-width="0.45"/><line x1="0.00" y1="0.00" x2="11.43" y2="-64.80" stroke="#606060" stroke-width="0.45" stroke-dasharray="1.7 0.7"/><line x1="0.00" y1="0.00" x2="22.50" y2="-61.83" stroke="#606060" stroke-width="0.45" stroke-dasharray="1.7 0.7"/><line x1="0.00" y1="0.00" x2="32.90" y2="-56.98" stroke="#606060" stroke-width="0.45" stroke-dasharray="1.7 0.7"/><line x1="0.00" y1="0.00" x2="42.30" y2="-50.41" stroke="#606060" stroke-width="0.45" stroke-dasharray="1.7 0.7"/><line x1="0.00" y1="0.00" x2="50.41" y2="-42.30" stroke="#606060" stroke-width="0.45" stroke-dasharray="1.7 0.7"/><line x1="0.00" y1="0.00" x2="56.98" y2="-32.90" stroke="#606060" stroke-width="0.45" stroke-dasharray="1.7 0.7"/><line x1="0.00" y1="0.00" x2="61.83" y2="-22.50" stroke="#606060" stroke-width="0.45" stroke-dasharray="1.7 0.7"/><line x1="0.00" y1="0.00" x2="64.80" y2="-11.43" stroke="#606060" stroke-width="0.45" stroke-dasharray="1.7 0.7"/><line x1="0.00" y1="-0.00" x2="64.80" y2="11.43" stroke="#606060" stroke-width="0.45" stroke-dasharray="1.7 0.7"/><line x1="0.00" y1="-0.00" x2="61.83" y2="22.50" stroke="#606060" stroke-width="0.45" stroke-dasharray="1.7 0.7"/><line x1="0.00" y1="-0.00" x2="56.98" y2="32.90" stroke="#606060" stroke-width="0.45" stroke-dasharray="1.7 0.7"/><line x1="0.00" y1="-0.00" x2="50.41" y2="42.30" stroke="#606060" stroke-width="0.45" stroke-dasharray="1.7 0.7"/><line x1="0.00" y1="-0.00" x2="42.30" y2="50.41" stroke="#606060" stroke-width="0.45" stroke-dasharray="1.7 0.7"/><line x1="0.00" y1="-0.00" x2="32.90" y2="56.98" stroke="#606060" stroke-width="0.45" stroke-dasharray="1.7 0.7"/><line x1="0.00" y1="-0.00" x2="22.50" y2="61.83" stroke="#606060" stroke-width="0.45" stroke-dasharray="1.7 0.7"/><line x1="0.00" y1="-0.00" x2="11.43" y2="64.80" stroke="#606060" stroke-width="0.45" stroke-dasharray="1.7 0.7"/><line x1="0.00" y1="-0.00" x2="0.00" y2="65.80" stroke="#606060" stroke-width="0.45"/><line x1="-0.00" y1="-0.00" x2="-11.43" y2="64.80" stroke="#606060" stroke-width="0.45" stroke-dasharray="1.7 0.7"/><line x1="-0.00" y1="-0.00" x2="-22.50" y2="61.83" stroke="#606060" stroke-width="0.45" stroke-dasharray="1.7 0.7"/><line x1="-0.00" y1="-0.00" x2="-32.90" y2="56.98" stroke="#606060" stroke-width="0.45" stroke-dasharray="1.7 0.7"/><line x1="-0.00" y1="-0.00" x2="-42.30" y2="50.41" stroke="#606060" stroke-width="0.45" stroke-dasharray="1.7 0.7"/><line x1="-0.00" y1="-0.00" x2="-50.41" y2="42.30" stroke="#606060" stroke-width="0.45" stroke-dasharray="1.7 0.7"/><line x1="-0.00" y1="-0.00" x2="-56.98" y2="32.90" stroke="#606060" stroke-width="0.45" stroke-dasharray="1.7 0.7"/><line x1="-0.00" y1="-0.00" x2="-61.83" y2="22.50" stroke="#606060" stroke-width="0.45" stroke-dasharray="1.7 0.7"/><line x1="-0.00" y1="-0.00" x2="-64.80" y2="11.43" stroke="#606060" stroke-width="0.45" stroke-dasharray="1.7 0.7"/><line x1="-0.00" y1="0.00" x2="-64.80" y2="-11.43" stroke="#606060" stroke-width="0.45" stroke-dasharray="1.7 0.7"/><line x1="-0.00" y1="0.00" x2="-61.83" y2="-22.50" stroke="#606060" stroke-width="0.45" stroke-dasharray="1.7 0.7"/><line x1="-0.00" y1="0.00" x2="-56.98" y2="-32.90" stroke="#606060" stroke-width="0.45" stroke-dasharray="1.7 0.7"/><line x1="-0.00" y1="0.00" x2="-50.41" y2="-42.30" stroke="#606060" stroke-width="0.45" stroke-dasharray="1.7 0.7"/><line x1="-0.00" y1="0.00" x2="-42.30" y2="-50.41" stroke="#606060" stroke-width="0.45" stroke-dasharray="1.7 0.7"/><line x1="-0.00" y1="0.00" x2="-32.90" y2="-56.98" stroke="#606060" stroke-width="0.45" stroke-dasharray="1.7 0.7"/><line x1="-0.00" y1="0.00" x2="-22.50" y2="-61.83" stroke="#606060" stroke-width="0.45" stroke-dasharray="1.7 0.7"/><line x1="-0.00" y1="0.00" x2="-11.43" y2="-64.80" stroke="#606060" stroke-width="0.45" stroke-dasharray="1.7 0.7"/></g>
<polyline points="344.40,297.80 351.00,290.20 356.20,283.60 360.10,277.00 361.50,269.20 361.50,263.90 359.50,257.30 356.20,252.10 351.00,247.50 343.10,244.90 335.20,244.20 327.30,244.90 319.40,246.80 311.50,250.80 303.60,256.00 297.10,262.60 293.30,261.60 291.80,267.80 289.90,274.40 288.50,283.60 288.50,290.20 289.90,298.10 293.10,306.00 298.40,312.50 306.30,316.50 314.20,317.10 322.00,314.50 328.60,308.60 335.20,304.60 344.40,297.80" stroke="#e04040" stroke-width="0.65" fill="none"/>
<polyline points="344.40,297.80 352.80,289.70 362.00,283.10 368.60,280.50 375.20,279.50 381.80,280.50 388.30,283.10 394.90,288.40 399.50,295.00 402.10,301.50 403.40,309.40 402.80,317.30 400.80,325.20 397.50,333.10 392.30,341.00 385.70,347.50 377.80,352.80 368.60,356.70 359.40,357.40 350.20,356.70 341.00,354.10 333.10,348.80 327.90,342.30 325.30,334.40 325.30,326.50 327.90,318.60 333.10,309.40 338.40,303.50 344.40,297.80" stroke="#e04040" stroke-width="0.65" fill="none"/>
<text x="346.70" y="229.30" font-size="9.2" font-weight="bold" text-anchor="middle" fill="#000">0°</text>
<text x="415.20" y="300.80" font-size="9.2" font-weight="bold" text-anchor="start" fill="#000">90°</text>
<text x="273.90" y="300.80" font-size="9.2" font-weight="bold" text-anchor="end" fill="#000">270°</text>
<text x="346.70" y="374.10" font-size="9.2" font-weight="bold" text-anchor="middle" fill="#000">180°</text>
<text x="378.90" y="369.80" font-size="9.3" font-weight="bold" text-anchor="start" fill="#000">3dB/Div</text>
<rect x="502.70" y="234.20" width="174.60" height="141.40" fill="none" stroke="#555" stroke-width="0.8" rx="0"/>
<line x1="500.50" y1="260.50" x2="502.70" y2="260.50" stroke="#555" stroke-width="0.8"/>
<text x="496.50" y="263.80" font-size="9.5" font-weight="bold" text-anchor="end" fill="#000">120</text>
<line x1="500.50" y1="295.76" x2="502.70" y2="295.76" stroke="#555" stroke-width="0.8"/>
<text x="496.50" y="299.06" font-size="9.5" font-weight="bold" text-anchor="end" fill="#000">100</text>
<line x1="500.50" y1="331.02" x2="502.70" y2="331.02" stroke="#555" stroke-width="0.8"/>
<text x="496.50" y="334.32" font-size="9.5" font-weight="bold" text-anchor="end" fill="#000">80</text>
<line x1="500.50" y1="366.28" x2="502.70" y2="366.28" stroke="#555" stroke-width="0.8"/>
<text x="496.50" y="369.58" font-size="9.5" font-weight="bold" text-anchor="end" fill="#000">60</text>
<line x1="501.40" y1="242.87" x2="502.70" y2="242.87" stroke="#555" stroke-width="0.6"/>
<line x1="501.40" y1="278.13" x2="502.70" y2="278.13" stroke="#555" stroke-width="0.6"/>
<line x1="501.40" y1="313.39" x2="502.70" y2="313.39" stroke="#555" stroke-width="0.6"/>
<line x1="501.40" y1="348.65" x2="502.70" y2="348.65" stroke="#555" stroke-width="0.6"/>
<line x1="508.10" y1="375.60" x2="508.10" y2="377.90" stroke="#555" stroke-width="0.8"/>
<line x1="569.75" y1="375.60" x2="569.75" y2="377.90" stroke="#555" stroke-width="0.8"/>
<line x1="631.40" y1="375.60" x2="631.40" y2="377.90" stroke="#555" stroke-width="0.8"/>
<line x1="505.28" y1="375.60" x2="505.28" y2="376.90" stroke="#555" stroke-width="0.5"/>
<line x1="526.66" y1="375.60" x2="526.66" y2="376.90" stroke="#555" stroke-width="0.5"/>
<line x1="537.51" y1="375.60" x2="537.51" y2="376.90" stroke="#555" stroke-width="0.5"/>
<line x1="545.22" y1="375.60" x2="545.22" y2="376.90" stroke="#555" stroke-width="0.5"/>
<line x1="551.19" y1="375.60" x2="551.19" y2="376.90" stroke="#555" stroke-width="0.5"/>
<line x1="556.07" y1="375.60" x2="556.07" y2="376.90" stroke="#555" stroke-width="0.5"/>
<line x1="560.20" y1="375.60" x2="560.20" y2="376.90" stroke="#555" stroke-width="0.5"/>
<line x1="563.78" y1="375.60" x2="563.78" y2="376.90" stroke="#555" stroke-width="0.5"/>
<line x1="566.93" y1="375.60" x2="566.93" y2="376.90" stroke="#555" stroke-width="0.5"/>
<line x1="588.31" y1="375.60" x2="588.31" y2="376.90" stroke="#555" stroke-width="0.5"/>
<line x1="599.16" y1="375.60" x2="599.16" y2="376.90" stroke="#555" stroke-width="0.5"/>
<line x1="606.87" y1="375.60" x2="606.87" y2="376.90" stroke="#555" stroke-width="0.5"/>
<line x1="612.84" y1="375.60" x2="612.84" y2="376.90" stroke="#555" stroke-width="0.5"/>
<line x1="617.72" y1="375.60" x2="617.72" y2="376.90" stroke="#555" stroke-width="0.5"/>
<line x1="621.85" y1="375.60" x2="621.85" y2="376.90" stroke="#555" stroke-width="0.5"/>
<line x1="625.43" y1="375.60" x2="625.43" y2="376.90" stroke="#555" stroke-width="0.5"/>
<line x1="628.58" y1="375.60" x2="628.58" y2="376.90" stroke="#555" stroke-width="0.5"/>
<line x1="649.96" y1="375.60" x2="649.96" y2="376.90" stroke="#555" stroke-width="0.5"/>
<line x1="660.81" y1="375.60" x2="660.81" y2="376.90" stroke="#555" stroke-width="0.5"/>
<line x1="668.52" y1="375.60" x2="668.52" y2="376.90" stroke="#555" stroke-width="0.5"/>
<line x1="674.49" y1="375.60" x2="674.49" y2="376.90" stroke="#555" stroke-width="0.5"/>
<text x="508.10" y="389.20" font-size="9.5" font-weight="bold" text-anchor="middle" fill="#000">1</text>
<text x="569.75" y="389.20" font-size="9.5" font-weight="bold" text-anchor="middle" fill="#000">10</text>
<text x="631.40" y="389.20" font-size="9.5" font-weight="bold" text-anchor="middle" fill="#000">100</text>
<text x="590.20" y="405.30" font-size="9.3" font-weight="bold" text-anchor="middle" fill="#000">Frequency (Hz)</text>
<text x="459.20" y="308.20" font-size="9.1" font-weight="bold" text-anchor="middle" fill="#000" transform="rotate(-90 459.2 308.2)">Noise PSD (dB REF</text>
<text x="471.20" y="306.00" font-size="9.1" font-weight="bold" text-anchor="middle" fill="#000" transform="rotate(-90 471.2 306)">0 dB = 1 uPa<tspan font-size="6" dy="-3.5">2</tspan><tspan dy="3.5">/HZ)</tspan></text>
<line x1="508.10" y1="274.60" x2="674.70" y2="355.80" stroke="#e03333" stroke-width="1.2"/>
<line x1="508.10" y1="285.40" x2="674.70" y2="366.40" stroke="#2f6ae0" stroke-width="1.2"/>
<path d="M508.30,255.60 C509.70,257.00 513.35,260.55 516.70,264.00 C520.05,267.45 524.52,272.22 528.40,276.30 C532.28,280.38 537.08,285.68 540.00,288.50 C542.92,291.32 543.95,291.63 545.90,293.20 C547.85,294.77 549.75,296.43 551.70,297.90 C553.65,299.37 555.65,300.63 557.60,302.00 C559.55,303.37 561.47,304.83 563.40,306.10 C565.33,307.37 567.25,308.53 569.20,309.60 C571.15,310.67 573.30,311.55 575.10,312.50 C576.90,313.45 577.97,314.22 580.00,315.30 C582.03,316.38 584.87,317.53 587.30,319.00 C589.73,320.47 592.17,322.40 594.60,324.10 C597.03,325.80 599.47,327.75 601.90,329.20 C604.33,330.65 606.77,331.90 609.20,332.80 C611.63,333.70 614.07,334.32 616.50,334.60 C618.93,334.88 621.62,334.58 623.80,334.50 C625.98,334.42 627.65,333.82 629.60,334.10 C631.55,334.38 633.30,335.82 635.50,336.20 C637.70,336.58 640.37,336.60 642.80,336.40 C645.23,336.20 647.67,335.83 650.10,335.00 C652.53,334.17 654.97,332.73 657.40,331.40 C659.83,330.07 662.75,328.33 664.70,327.00 C666.65,325.67 667.40,325.35 669.10,323.40 C670.80,321.45 673.93,316.65 674.90,315.30" stroke="#3a3a3a" stroke-width="1.1" fill="none"/>
<line x1="505.90" y1="343.40" x2="521.60" y2="343.40" stroke="#3a3a3a" stroke-width="1.2"/>
<text x="525.70" y="346.20" font-size="7.8" font-weight="bold" text-anchor="start" fill="#000">Self noise</text>
<line x1="505.90" y1="353.70" x2="521.60" y2="353.70" stroke="#e03333" stroke-width="1.2"/>
<text x="524.30" y="356.50" font-size="7.8" font-weight="bold" text-anchor="start" fill="#000">Shallow sea state 1 noise</text>
<line x1="505.90" y1="363.70" x2="521.60" y2="363.70" stroke="#2f6ae0" stroke-width="1.2"/>
<text x="524.30" y="366.50" font-size="7.8" font-weight="bold" text-anchor="start" fill="#000">Shallow sea state 0 noise</text>
<path d="M81.40,519.59L81.59,507.27L81.78,488.18L81.97,467.45L82.15,450.64L82.34,442.24L82.53,444.51L82.72,456.83L82.91,475.92L83.09,496.65L83.28,513.46L83.47,521.86L83.66,519.59L83.85,507.27L84.04,488.18L84.23,467.45L84.41,450.64L84.60,442.24L84.79,444.51L84.98,456.83L85.17,475.92L85.36,496.65L85.54,513.46L85.73,521.86L85.92,519.59L86.11,507.27L86.30,488.18L86.49,467.45L86.67,450.64L86.86,442.24L87.05,444.51L87.24,456.83L87.43,475.92L87.62,496.65L87.80,513.46L87.99,521.86L88.18,519.59L88.37,507.27L88.56,488.18L88.75,467.45L88.93,450.64L89.12,442.24L89.31,444.51L89.50,456.83L89.69,475.92L89.88,496.65L90.06,513.46L90.25,521.86L90.44,519.59L90.63,507.27L90.82,488.18L91.01,467.45L91.19,450.64L91.38,442.24L91.57,444.51L91.76,456.83L91.95,475.92L92.14,496.65L92.32,513.46L92.51,521.86L92.70,519.59L92.89,507.27L93.08,488.18L93.27,467.45L93.45,450.64L93.64,442.24L93.83,444.51L94.02,456.83L94.21,475.92L94.40,496.65L94.58,513.46L94.77,521.86L94.96,519.59L95.15,507.27L95.34,488.18L95.53,467.45L95.71,450.64L95.90,442.24L96.09,444.51L96.28,456.83L96.47,475.92L96.66,496.65L96.84,513.46L97.03,521.86L97.22,519.59L97.41,507.27L97.60,488.18L97.79,467.45L97.97,450.64L98.16,442.24L98.35,444.51L98.54,456.83L98.73,475.92L98.92,496.65L99.10,513.46L99.29,521.86L99.48,519.59L99.67,507.27L99.86,488.18L100.05,467.45L100.23,450.64L100.42,442.24L100.61,444.51L100.80,456.83L100.99,475.92L101.18,496.65L101.36,513.46L101.55,521.86L101.74,519.59L101.93,507.27L102.12,488.18L102.31,467.45L102.49,450.64L102.68,442.24L102.87,444.51L103.06,456.83L103.25,475.92L103.44,496.65L103.62,513.46L103.81,521.86L104.00,519.59L104.19,507.27L104.38,488.18L104.56,467.45L104.75,450.64L104.94,442.24L105.13,444.51L105.32,456.83L105.51,475.92L105.70,496.65L105.88,513.46L106.07,521.86L106.26,519.59L106.45,507.27L106.64,488.18L106.83,467.45L107.01,450.64L107.20,442.24L107.39,444.51L107.58,456.83L107.77,475.92L107.96,496.65L108.14,513.46L108.33,521.86L108.52,519.59L108.71,507.27L108.90,488.18L109.09,467.45L109.27,450.64L109.46,442.24L109.65,444.51L109.84,456.83L110.03,475.92L110.22,496.65L110.40,513.46L110.59,521.86L110.78,519.59L110.97,507.27L111.16,488.18L111.34,467.45L111.53,450.64L111.72,442.24L111.91,444.51L112.10,456.83L112.29,475.92L112.48,496.65L112.66,513.46L112.85,521.86L113.04,519.59L113.23,507.27L113.42,488.18L113.61,467.45L113.79,450.64L113.98,442.24L114.17,444.51L114.36,456.83L114.55,475.92L114.74,496.65L114.92,513.46L115.11,521.86L115.30,519.59L115.49,507.27L115.68,488.18L115.87,467.45L116.05,450.64L116.24,442.24L116.43,444.51L116.62,456.83L116.81,475.92L117.00,496.65L117.18,513.46L117.37,521.86L117.56,519.59L117.75,507.27L117.94,488.18L118.12,467.45L118.31,450.64L118.50,442.24L118.69,444.51L118.88,456.83L119.07,475.92L119.26,496.65L119.44,513.46L119.63,521.86L119.82,519.59L120.01,507.27L120.20,488.18L120.39,467.45L120.57,450.64L120.76,442.24L120.95,444.51L121.14,456.83L121.33,475.92L121.52,496.65L121.70,513.46L121.89,521.86L122.08,519.59L122.27,507.27L122.46,488.18L122.65,467.45L122.83,450.64L123.02,442.24L123.21,444.51L123.40,456.83L123.59,475.92L123.78,496.65L123.96,513.46L124.15,521.86L124.34,519.59L124.53,507.27L124.72,488.18L124.91,467.45L125.09,450.64L125.28,442.24L125.47,444.51L125.66,456.83L125.85,475.92L126.04,496.65L126.22,513.46L126.41,521.86L126.60,519.59L126.79,507.27L126.98,488.18L127.17,467.45L127.35,450.64L127.54,442.24L127.73,444.51L127.92,456.83L128.11,475.92L128.30,496.65L128.48,513.46L128.67,521.86L128.86,519.59L129.05,507.27L129.24,488.18L129.43,467.45L129.61,450.64L129.80,442.24L129.99,444.51L130.18,456.83L130.37,475.92L130.56,496.65L130.74,513.46L130.93,521.86L131.12,519.59L131.31,507.27L131.50,488.18L131.69,467.45L131.87,450.64L132.06,442.24L132.25,444.51L132.44,456.83L132.63,475.92L132.81,496.65L133.00,513.46L133.19,521.86L133.38,519.59L133.57,507.27L133.76,488.18L133.95,467.45L134.13,450.64L134.32,442.24L134.51,444.51L134.70,456.83L134.89,475.92L135.08,496.65L135.26,513.46L135.45,521.86L135.64,519.59L135.83,507.27L136.02,488.18L136.21,467.45L136.39,450.64L136.58,442.24L136.77,444.51L136.96,456.83L137.15,475.92L137.34,496.65L137.52,513.46L137.71,521.86L137.90,519.59L138.09,507.27L138.28,488.18L138.47,467.45L138.65,450.64L138.84,442.24L139.03,444.51L139.22,456.83L139.41,475.92L139.60,496.65L139.78,513.46L139.97,521.86L140.16,519.59L140.35,507.27L140.54,488.18L140.73,467.45L140.91,450.64L141.10,442.24L141.29,444.51L141.48,456.83L141.67,475.92L141.86,496.65L142.04,513.46L142.23,521.86L142.42,519.59L142.61,507.27L142.80,488.18L142.99,467.45L143.17,450.64L143.36,442.24L143.55,444.51L143.74,456.83L143.93,475.92L144.12,496.65L144.30,513.46L144.49,521.86L144.68,519.59L144.87,507.27L145.06,488.18L145.25,467.45L145.43,450.64L145.62,442.24L145.81,444.51L146.00,456.83L146.19,475.92L146.38,496.65L146.56,513.46L146.75,521.86L146.94,519.59L147.13,507.27L147.32,488.18L147.50,467.45L147.69,450.64L147.88,442.24L148.07,444.51L148.26,456.83L148.45,475.92L148.63,496.65L148.82,513.46L149.01,521.86L149.20,519.59L149.39,507.27L149.58,488.18L149.77,467.45L149.95,450.64L150.14,442.24L150.33,444.51L150.52,456.83L150.71,475.92L150.90,496.65L151.08,513.46L151.27,521.86L151.46,519.59L151.65,507.27L151.84,488.18L152.03,467.45L152.21,450.64L152.40,442.24L152.59,444.51L152.78,456.83L152.97,475.92L153.16,496.65L153.34,513.46L153.53,521.86L153.72,519.59L153.91,507.27L154.10,488.18L154.29,467.45L154.47,450.64L154.66,442.24L154.85,444.51L155.04,456.83L155.23,475.92L155.42,496.65L155.60,513.46L155.79,521.86L155.98,519.59L156.17,507.27L156.36,488.18L156.55,467.45L156.73,450.64L156.92,442.24L157.11,444.51L157.30,456.83L157.49,475.92L157.68,496.65L157.86,513.46L158.05,521.86L158.24,519.59L158.43,507.27L158.62,488.18L158.81,467.45L158.99,450.64L159.18,442.24L159.37,444.51L159.56,456.83L159.75,475.92L159.94,496.65L160.12,513.46L160.31,521.86L160.50,519.59L160.69,507.27L160.88,488.18L161.06,467.45L161.25,450.64L161.44,442.24L161.63,444.51L161.82,456.83L162.01,475.92L162.20,496.65L162.38,513.46L162.57,521.86L162.76,519.59L162.95,507.27L163.14,488.18L163.33,467.45L163.51,450.64L163.70,442.24L163.89,444.51L164.08,456.83L164.27,475.92L164.46,496.65L164.64,513.46L164.83,521.86L165.02,519.59L165.21,507.27L165.40,488.18L165.59,467.45L165.77,450.64L165.96,442.24L166.15,444.51L166.34,456.83L166.53,475.92L166.72,496.65L166.90,513.46L167.09,521.86L167.28,519.59L167.47,507.27L167.66,488.18L167.85,467.45L168.03,450.64L168.22,442.24L168.41,444.51L168.60,456.83L168.79,475.92L168.98,496.65L169.16,513.46L169.35,521.86L169.54,519.59L169.73,507.27L169.92,488.18L170.11,467.45L170.29,450.64L170.48,442.24L170.67,444.51L170.86,456.83L171.05,475.92L171.24,496.65L171.42,513.46L171.61,521.86L171.80,519.59L171.99,507.27L172.18,488.18L172.37,467.45L172.55,450.64L172.74,442.24L172.93,444.51L173.12,456.83L173.31,475.92L173.50,496.65L173.68,513.46L173.87,521.86L174.06,519.59L174.25,507.27L174.44,488.18L174.62,467.45L174.81,450.64L175.00,442.24L175.19,444.51L175.38,456.83L175.57,475.92L175.75,496.65L175.94,513.46L176.13,521.86L176.32,519.59L176.51,507.27L176.70,488.18L176.88,467.45L177.07,450.64L177.26,442.24L177.45,444.51L177.64,456.83L177.83,475.92L178.02,496.65L178.20,513.46L178.39,521.86L178.58,519.59L178.77,507.27L178.96,488.18L179.15,467.45L179.33,450.64L179.52,442.24L179.71,444.51L179.90,456.83L180.09,475.92L180.28,496.65L180.46,513.46L180.65,521.86L180.84,519.59L181.03,507.27L181.22,488.18L181.41,467.45L181.59,450.64L181.78,442.24L181.97,444.51L182.16,456.83L182.35,475.92L182.54,496.65L182.72,513.46L182.91,521.86L183.10,519.59L183.29,507.27L183.48,488.18L183.67,467.45L183.85,450.64L184.04,442.24L184.23,444.51L184.42,456.83L184.61,475.92L184.80,496.65L184.98,513.46L185.17,521.86L185.36,519.59L185.55,507.27L185.74,488.18L185.93,467.45L186.11,450.64L186.30,442.24L186.49,444.51L186.68,456.83L186.87,475.92L187.06,496.65L187.24,513.46L187.43,521.86L187.62,519.59L187.81,507.27L188.00,488.18L188.19,467.45L188.37,450.64L188.56,442.24L188.75,444.51L188.94,456.83L189.13,475.92L189.32,496.65L189.50,513.46L189.69,521.86L189.88,519.59L190.07,507.27L190.26,488.18L190.45,467.45L190.63,450.64L190.82,442.24L191.01,444.51L191.20,456.83L191.39,475.92L191.58,496.65L191.76,513.46L191.95,521.86L192.14,519.59L192.33,507.27L192.52,488.18L192.71,467.45L192.89,450.64L193.08,442.24L193.27,444.51L193.46,456.83L193.65,475.92L193.84,496.65L194.02,513.46L194.21,521.86L194.40,519.59L194.59,507.27L194.78,488.18L194.97,467.45L195.15,450.64L195.34,442.24L195.53,444.51L195.72,456.83L195.91,475.92L196.10,496.65L196.28,513.46L196.47,521.86L196.66,519.59L196.85,507.27L197.04,488.18L197.23,467.45L197.41,450.64L197.60,442.24L197.79,444.51L197.98,456.83L198.17,475.92L198.36,496.65L198.54,513.46L198.73,521.86L198.92,519.59L199.11,507.27L199.30,488.18L199.49,467.45L199.67,450.64L199.86,442.24L200.05,444.51L200.24,456.83L200.43,475.92L200.62,496.65L200.80,513.46L200.99,521.86L201.18,519.59L201.37,507.27L201.56,488.18L201.75,467.45L201.93,450.64L202.12,442.24L202.31,444.51L202.50,456.83L202.69,475.92L202.88,496.65L203.06,513.46L203.25,521.86L203.44,519.59L203.63,507.27L203.82,488.18L204.00,467.45L204.19,450.64L204.38,442.24L204.57,444.51L204.76,456.83L204.95,475.92L205.13,496.65L205.32,513.46L205.51,521.86L205.70,519.59L205.89,507.27L206.08,488.18L206.27,467.45L206.45,450.64L206.64,442.24L206.83,444.51L207.02,456.83L207.21,475.92L207.40,496.65L207.58,513.46L207.77,521.86L207.96,519.59L208.15,507.27L208.34,488.18L208.53,467.45L208.71,450.64L208.90,442.24L209.09,444.51L209.28,456.83L209.47,475.92L209.66,496.65L209.84,513.46L210.03,521.86L210.22,519.59L210.41,507.27L210.60,488.18L210.78,467.45L210.97,450.64L211.16,442.24L211.35,444.51L211.54,456.83L211.73,475.92L211.92,496.65L212.10,513.46L212.29,521.86L212.48,519.59L212.67,507.27L212.86,488.18L213.05,467.45L213.23,450.64L213.42,442.24L213.61,444.51L213.80,456.83L213.99,475.92L214.18,496.65L214.36,513.46L214.55,521.86L214.74,519.59L214.93,507.27L215.12,488.18L215.31,467.45L215.49,450.64L215.68,442.24L215.87,444.51L216.06,456.83L216.25,475.92L216.44,496.65L216.62,513.46L216.81,521.86L217.00,519.59L217.19,507.27L217.38,488.18L217.57,467.45L217.75,450.64L217.94,442.24L218.13,444.51L218.32,456.83L218.51,475.92L218.70,496.65L218.88,513.46L219.07,521.86L219.26,519.59L219.45,507.27L219.64,488.18L219.83,467.45L220.01,450.64L220.20,442.24L220.39,444.51L220.58,456.83L220.77,475.92L220.96,496.65L221.14,513.46L221.33,521.86L221.52,519.59L221.71,507.27L221.90,488.18L222.09,467.45L222.27,450.64L222.46,442.24L222.65,444.51L222.84,456.83L223.03,475.92L223.22,496.65L223.40,513.46L223.59,521.86L223.78,519.59L223.97,507.27L224.16,488.18L224.35,467.45L224.53,450.64L224.72,442.24L224.91,444.51L225.10,456.83L225.29,475.92L225.48,496.65L225.66,513.46L225.85,521.86L226.04,519.59L226.23,507.27L226.42,488.18L226.61,467.45L226.79,450.64L226.98,442.24L227.17,444.51L227.36,456.83L227.55,475.92L227.74,496.65L227.92,513.46L228.11,521.86L228.30,519.59L228.49,507.27L228.68,488.18L228.87,467.45L229.05,450.64L229.24,442.24L229.43,444.51L229.62,456.83L229.81,475.92L230.00,496.65L230.18,513.46L230.37,521.86L230.56,519.59L230.75,507.27L230.94,488.18L231.13,467.45L231.31,450.64L231.50,442.24L231.69,444.51L231.88,456.83L232.07,475.92L232.26,496.65L232.44,513.46L232.63,521.86L232.82,519.59L233.01,507.27L233.20,488.18L233.39,467.45L233.57,450.64L233.76,442.24L233.95,444.51L234.14,456.83L234.33,475.92L234.52,496.65L234.70,513.46L234.89,521.86L235.08,519.59L235.27,507.27L235.46,488.18L235.65,467.45L235.83,450.64L236.02,442.24L236.21,444.51L236.40,456.83L236.59,475.92L236.78,496.65L236.96,513.46L237.15,521.86L237.34,519.59L237.53,507.27L237.72,488.18L237.91,467.45L238.09,450.64L238.28,442.24L238.47,444.51L238.66,456.83L238.85,475.92L239.03,496.65L239.22,513.46L239.41,521.86L239.60,519.59L239.79,507.27L239.98,488.18L240.17,467.45L240.35,450.64L240.54,442.24L240.73,444.51L240.92,456.83L241.11,475.92L241.30,496.65L241.48,513.46L241.67,521.86L241.86,519.59L242.05,507.27L242.24,488.18L242.43,467.45L242.61,450.64L242.80,442.24L242.99,444.51L243.18,456.83L243.37,475.92L243.56,496.65L243.74,513.46L243.93,521.86L244.12,519.59L244.31,507.27L244.50,488.18L244.69,467.45L244.87,450.64L245.06,442.24L245.25,444.51L245.44,456.83L245.63,475.92L245.82,496.65L246.00,513.46L246.19,521.86L246.38,519.59L246.57,507.27L246.76,488.18L246.95,467.45L247.13,450.64L247.32,442.24L247.51,444.51L247.70,456.83L247.89,475.92L248.08,496.65L248.26,513.46L248.45,521.86L248.64,519.59L248.83,507.27L249.02,488.18L249.21,467.45L249.39,450.64L249.58,442.24L249.77,444.51L249.96,456.83L250.15,475.92L250.34,496.65L250.52,513.46L250.71,521.86L250.90,519.59L251.09,507.27L251.28,488.18L251.47,467.45L251.65,450.64L251.84,442.24L252.03,444.51L252.22,456.83L252.41,475.92L252.60,496.65L252.78,513.46L252.97,521.86L253.16,519.59L253.35,507.27L253.54,488.18L253.73,467.45L253.91,450.64L254.10,442.24L254.29,444.51L254.48,456.83L254.67,475.92L254.86,496.65L255.04,513.46L255.23,521.86L255.42,519.59L255.61,507.27L255.80,488.18L255.99,467.45L256.17,450.64L256.36,442.24L256.55,444.51L256.74,456.83L256.93,475.92L257.12,496.65L257.30,513.46L257.49,521.86L257.68,519.59L257.87,507.27L258.06,488.18L258.25,467.45L258.43,450.64L258.62,442.24L258.81,444.51L259.00,456.83L259.19,475.92L259.38,496.65L259.56,513.46L259.75,521.86L259.94,519.59L260.13,507.27L260.32,488.18L260.50,467.45L260.69,450.64L260.88,442.24L261.07,444.51L261.26,456.83L261.45,475.92L261.63,496.65L261.82,513.46L262.01,521.86L262.20,519.59L262.39,507.27L262.58,488.18L262.76,467.45L262.95,450.64L263.14,442.24L263.33,444.51L263.52,456.83L263.71,475.92L263.89,496.65L264.08,513.46L264.27,521.86L264.46,519.59L264.65,507.27L264.84,488.18L265.02,467.45L265.21,450.64L265.40,442.24L265.59,444.51L265.78,456.83L265.97,475.92L266.16,496.65L266.34,513.46L266.53,521.86L266.72,519.59L266.91,507.27L267.10,488.18L267.28,467.45L267.47,450.64L267.66,442.24L267.85,444.51L268.04,456.83L268.23,475.92L268.42,496.65L268.60,513.46L268.79,521.86L268.98,519.59L269.17,507.27L269.36,488.18L269.54,467.45L269.73,450.64L269.92,442.24L270.11,444.51L270.30,456.83L270.49,475.92L270.68,496.65L270.86,513.46L271.05,521.86L271.24,519.59L271.43,507.27L271.62,488.18L271.81,467.45L271.99,450.64L272.18,442.24L272.37,444.51L272.56,456.83L272.75,475.92L272.94,496.65L273.12,513.46L273.31,521.86L273.50,519.59L273.69,507.27L273.88,488.18L274.07,467.45L274.25,450.64L274.44,442.24L274.63,444.51L274.82,456.83L275.01,475.92L275.19,496.65L275.38,513.46L275.57,521.86L275.76,519.59L275.95,507.27L276.14,488.18L276.33,467.45L276.51,450.64L276.70,442.24L276.89,444.51L277.08,456.83L277.27,475.92L277.46,496.65L277.64,513.46L277.83,521.86L278.02,519.59L278.21,507.27L278.40,488.18L278.59,467.45L278.77,450.64L278.96,442.24L279.15,444.51L279.34,456.83L279.53,475.92L279.72,496.65L279.90,513.46L280.09,521.86L280.28,519.59L280.47,507.27L280.66,488.18L280.85,467.45L281.03,450.64L281.22,442.24L281.41,444.51L281.60,456.83L281.79,475.92L281.98,496.65L282.16,513.46L282.35,521.86L282.54,519.59L282.73,507.27L282.92,488.18L283.11,467.45L283.29,450.64L283.48,442.24L283.67,444.51L283.86,456.83L284.05,475.92L284.24,496.65L284.42,513.46L284.61,521.86L284.80,519.59L284.99,507.27L285.18,488.18L285.37,467.45L285.55,450.64L285.74,442.24L285.93,444.51L286.12,456.83L286.31,475.92L286.50,496.65L286.68,513.46L286.87,521.86L287.06,519.59L287.25,507.27L287.44,488.18L287.62,467.45L287.81,450.64L288.00,442.24L288.19,444.51L288.38,456.83L288.57,475.92L288.75,496.65L288.94,513.46L289.13,521.86L289.32,519.59L289.51,507.27L289.70,488.18L289.88,467.45L290.07,450.64L290.26,442.24L290.45,444.51L290.64,456.83L290.83,475.92L291.01,496.65L291.20,513.46L291.39,521.86L291.58,519.59L291.77,507.27L291.96,488.18L292.14,467.45L292.33,450.64L292.52,442.24L292.71,444.51L292.90,456.83L293.09,475.92L293.27,496.65L293.46,513.46L293.65,521.86L293.84,519.59L294.03,507.27L294.22,488.18L294.41,467.45L294.59,450.64L294.78,442.24L294.97,444.51L295.16,456.83L295.35,475.92L295.54,496.65L295.72,513.46L295.91,521.86L296.10,519.59L296.29,507.27L296.48,488.18L296.67,467.45L296.85,450.64L297.04,442.24L297.23,444.51L297.42,456.83L297.61,475.92L297.80,496.65L297.98,513.46L298.17,521.86L298.36,519.59L298.55,507.27L298.74,488.18L298.93,467.45L299.11,450.64L299.30,442.24L299.49,444.51L299.68,456.83L299.87,475.92L300.06,496.65L300.24,513.46L300.43,521.86L300.62,519.59L300.81,507.27L301.00,488.18L301.19,467.45L301.37,450.64L301.56,442.24L301.75,444.51L301.94,456.83L302.13,475.92L302.32,496.65L302.50,513.46L302.69,521.86L302.88,519.59L303.07,507.27L303.26,488.18L303.44,467.45L303.63,450.64L303.82,442.24L304.01,444.51L304.20,456.83L304.39,475.92L304.58,496.65L304.76,513.46L304.95,521.86L305.14,519.59L305.33,507.27L305.52,488.18L305.71,467.45L305.89,450.64L306.08,442.24L306.27,444.51L306.46,456.83L306.65,475.92L306.84,496.65L307.02,513.46L307.21,521.86L307.40,519.59" stroke="#000" stroke-width="0.38" fill="none"/>
<defs><linearGradient id="gtop" gradientUnits="userSpaceOnUse" x1="0" y1="441.8" x2="0" y2="463.8"><stop offset="0" stop-color="#000" stop-opacity="0.9"/><stop offset="1" stop-color="#000" stop-opacity="0"/></linearGradient><linearGradient id="gbot" gradientUnits="userSpaceOnUse" x1="0" y1="522.3" x2="0" y2="500.3"><stop offset="0" stop-color="#000" stop-opacity="0.9"/><stop offset="1" stop-color="#000" stop-opacity="0"/></linearGradient></defs>
<path d="M82.40,441.8V463.8M84.66,441.8V463.8M86.92,441.8V463.8M89.18,441.8V463.8M91.44,441.8V463.8M93.70,441.8V463.8M95.96,441.8V463.8M98.22,441.8V463.8M100.48,441.8V463.8M102.74,441.8V463.8M105.00,441.8V463.8M107.26,441.8V463.8M109.52,441.8V463.8M111.78,441.8V463.8M114.04,441.8V463.8M116.30,441.8V463.8M118.56,441.8V463.8M120.82,441.8V463.8M123.08,441.8V463.8M125.34,441.8V463.8M127.60,441.8V463.8M129.86,441.8V463.8M132.12,441.8V463.8M134.38,441.8V463.8M136.64,441.8V463.8M138.90,441.8V463.8M141.16,441.8V463.8M143.42,441.8V463.8M145.68,441.8V463.8M147.94,441.8V463.8M150.20,441.8V463.8M152.46,441.8V463.8M154.72,441.8V463.8M156.98,441.8V463.8M159.24,441.8V463.8M161.50,441.8V463.8M163.76,441.8V463.8M166.02,441.8V463.8M168.28,441.8V463.8M170.54,441.8V463.8M172.80,441.8V463.8M175.06,441.8V463.8M177.32,441.8V463.8M179.58,441.8V463.8M181.84,441.8V463.8M184.10,441.8V463.8M186.36,441.8V463.8M188.62,441.8V463.8M190.88,441.8V463.8M193.14,441.8V463.8M195.40,441.8V463.8M197.66,441.8V463.8M199.92,441.8V463.8M202.18,441.8V463.8M204.44,441.8V463.8M206.70,441.8V463.8M208.96,441.8V463.8M211.22,441.8V463.8M213.48,441.8V463.8M215.74,441.8V463.8M218.00,441.8V463.8M220.26,441.8V463.8M222.52,441.8V463.8M224.78,441.8V463.8M227.04,441.8V463.8M229.30,441.8V463.8M231.56,441.8V463.8M233.82,441.8V463.8M236.08,441.8V463.8M238.34,441.8V463.8M240.60,441.8V463.8M242.86,441.8V463.8M245.12,441.8V463.8M247.38,441.8V463.8M249.64,441.8V463.8M251.90,441.8V463.8M254.16,441.8V463.8M256.42,441.8V463.8M258.68,441.8V463.8M260.94,441.8V463.8M263.20,441.8V463.8M265.46,441.8V463.8M267.72,441.8V463.8M269.98,441.8V463.8M272.24,441.8V463.8M274.50,441.8V463.8M276.76,441.8V463.8M279.02,441.8V463.8M281.28,441.8V463.8M283.54,441.8V463.8M285.80,441.8V463.8M288.06,441.8V463.8M290.32,441.8V463.8M292.58,441.8V463.8M294.84,441.8V463.8M297.10,441.8V463.8M299.36,441.8V463.8M301.62,441.8V463.8M303.88,441.8V463.8M306.14,441.8V463.8" stroke="url(#gtop)" stroke-width="0.6" fill="none"/>
<path d="M83.53,522.3V500.3M85.79,522.3V500.3M88.05,522.3V500.3M90.31,522.3V500.3M92.57,522.3V500.3M94.83,522.3V500.3M97.09,522.3V500.3M99.35,522.3V500.3M101.61,522.3V500.3M103.87,522.3V500.3M106.13,522.3V500.3M108.39,522.3V500.3M110.65,522.3V500.3M112.91,522.3V500.3M115.17,522.3V500.3M117.43,522.3V500.3M119.69,522.3V500.3M121.95,522.3V500.3M124.21,522.3V500.3M126.47,522.3V500.3M128.73,522.3V500.3M130.99,522.3V500.3M133.25,522.3V500.3M135.51,522.3V500.3M137.77,522.3V500.3M140.03,522.3V500.3M142.29,522.3V500.3M144.55,522.3V500.3M146.81,522.3V500.3M149.07,522.3V500.3M151.33,522.3V500.3M153.59,522.3V500.3M155.85,522.3V500.3M158.11,522.3V500.3M160.37,522.3V500.3M162.63,522.3V500.3M164.89,522.3V500.3M167.15,522.3V500.3M169.41,522.3V500.3M171.67,522.3V500.3M173.93,522.3V500.3M176.19,522.3V500.3M178.45,522.3V500.3M180.71,522.3V500.3M182.97,522.3V500.3M185.23,522.3V500.3M187.49,522.3V500.3M189.75,522.3V500.3M192.01,522.3V500.3M194.27,522.3V500.3M196.53,522.3V500.3M198.79,522.3V500.3M201.05,522.3V500.3M203.31,522.3V500.3M205.57,522.3V500.3M207.83,522.3V500.3M210.09,522.3V500.3M212.35,522.3V500.3M214.61,522.3V500.3M216.87,522.3V500.3M219.13,522.3V500.3M221.39,522.3V500.3M223.65,522.3V500.3M225.91,522.3V500.3M228.17,522.3V500.3M230.43,522.3V500.3M232.69,522.3V500.3M234.95,522.3V500.3M237.21,522.3V500.3M239.47,522.3V500.3M241.73,522.3V500.3M243.99,522.3V500.3M246.25,522.3V500.3M248.51,522.3V500.3M250.77,522.3V500.3M253.03,522.3V500.3M255.29,522.3V500.3M257.55,522.3V500.3M259.81,522.3V500.3M262.07,522.3V500.3M264.33,522.3V500.3M266.59,522.3V500.3M268.85,522.3V500.3M271.11,522.3V500.3M273.37,522.3V500.3M275.63,522.3V500.3M277.89,522.3V500.3M280.15,522.3V500.3M282.41,522.3V500.3M284.67,522.3V500.3M286.93,522.3V500.3M289.19,522.3V500.3M291.45,522.3V500.3M293.71,522.3V500.3M295.97,522.3V500.3M298.23,522.3V500.3M300.49,522.3V500.3M302.75,522.3V500.3M305.01,522.3V500.3M307.27,522.3V500.3" stroke="url(#gbot)" stroke-width="0.6" fill="none"/>
<rect x="58.50" y="429.30" width="271.80" height="105.00" fill="none" stroke="#555" stroke-width="0.8" rx="0"/>
<line x1="56.30" y1="439.39" x2="58.50" y2="439.39" stroke="#555" stroke-width="0.8"/>
<text x="49.40" y="442.69" font-size="9.5" font-weight="bold" text-anchor="end" fill="#000">2</text>
<line x1="56.30" y1="460.37" x2="58.50" y2="460.37" stroke="#555" stroke-width="0.8"/>
<text x="49.40" y="463.67" font-size="9.5" font-weight="bold" text-anchor="end" fill="#000">1</text>
<line x1="56.30" y1="481.35" x2="58.50" y2="481.35" stroke="#555" stroke-width="0.8"/>
<text x="49.40" y="484.65" font-size="9.5" font-weight="bold" text-anchor="end" fill="#000">0</text>
<line x1="56.30" y1="502.33" x2="58.50" y2="502.33" stroke="#555" stroke-width="0.8"/>
<text x="49.40" y="505.63" font-size="9.5" font-weight="bold" text-anchor="end" fill="#000">–1</text>
<line x1="56.30" y1="523.31" x2="58.50" y2="523.31" stroke="#555" stroke-width="0.8"/>
<text x="49.40" y="526.61" font-size="9.5" font-weight="bold" text-anchor="end" fill="#000">–2</text>
<line x1="57.20" y1="449.88" x2="58.50" y2="449.88" stroke="#555" stroke-width="0.6"/>
<line x1="57.20" y1="470.86" x2="58.50" y2="470.86" stroke="#555" stroke-width="0.6"/>
<line x1="57.20" y1="491.84" x2="58.50" y2="491.84" stroke="#555" stroke-width="0.6"/>
<line x1="57.20" y1="512.82" x2="58.50" y2="512.82" stroke="#555" stroke-width="0.6"/>
<line x1="57.20" y1="533.80" x2="58.50" y2="533.80" stroke="#555" stroke-width="0.6"/>
<line x1="58.80" y1="534.30" x2="58.80" y2="535.60" stroke="#555" stroke-width="0.6"/>
<line x1="81.40" y1="534.30" x2="81.40" y2="536.60" stroke="#555" stroke-width="0.8"/>
<line x1="104.00" y1="534.30" x2="104.00" y2="535.60" stroke="#555" stroke-width="0.6"/>
<line x1="126.60" y1="534.30" x2="126.60" y2="536.60" stroke="#555" stroke-width="0.8"/>
<line x1="149.20" y1="534.30" x2="149.20" y2="535.60" stroke="#555" stroke-width="0.6"/>
<line x1="171.80" y1="534.30" x2="171.80" y2="536.60" stroke="#555" stroke-width="0.8"/>
<line x1="194.40" y1="534.30" x2="194.40" y2="535.60" stroke="#555" stroke-width="0.6"/>
<line x1="217.00" y1="534.30" x2="217.00" y2="536.60" stroke="#555" stroke-width="0.8"/>
<line x1="239.60" y1="534.30" x2="239.60" y2="535.60" stroke="#555" stroke-width="0.6"/>
<line x1="262.20" y1="534.30" x2="262.20" y2="536.60" stroke="#555" stroke-width="0.8"/>
<line x1="284.80" y1="534.30" x2="284.80" y2="535.60" stroke="#555" stroke-width="0.6"/>
<line x1="307.40" y1="534.30" x2="307.40" y2="536.60" stroke="#555" stroke-width="0.8"/>
<line x1="330.00" y1="534.30" x2="330.00" y2="535.60" stroke="#555" stroke-width="0.6"/>
<text x="81.40" y="550.90" font-size="9.5" font-weight="bold" text-anchor="middle" fill="#000">0</text>
<text x="126.60" y="550.90" font-size="9.5" font-weight="bold" text-anchor="middle" fill="#000">2</text>
<text x="171.80" y="550.90" font-size="9.5" font-weight="bold" text-anchor="middle" fill="#000">4</text>
<text x="217.00" y="550.90" font-size="9.5" font-weight="bold" text-anchor="middle" fill="#000">6</text>
<text x="262.20" y="550.90" font-size="9.5" font-weight="bold" text-anchor="middle" fill="#000">8</text>
<text x="307.40" y="550.90" font-size="9.5" font-weight="bold" text-anchor="middle" fill="#000">10</text>
<text x="191.60" y="561.90" font-size="9.3" font-weight="bold" text-anchor="middle" fill="#000">Time (s)</text>
<text x="28.50" y="483.00" font-size="9.2" font-weight="bold" text-anchor="middle" fill="#000" transform="rotate(-90 28.5 483)">Output voltage (V)</text>
<rect x="154.60" y="438.90" width="9.40" height="86.50" fill="#dadada" stroke="#f2c4c4" stroke-width="0.6" rx="0" fill-opacity="0.6"/>
<line x1="163.90" y1="438.90" x2="229.00" y2="447.70" stroke="#e02a2a" stroke-width="0.9"/>
<line x1="163.90" y1="525.40" x2="229.00" y2="515.70" stroke="#e02a2a" stroke-width="0.9"/>
<path d="M224.34,444.85 L229.00,447.70 L223.75,449.21" stroke="#e02a2a" stroke-width="1" fill="none"/>
<path d="M223.73,514.26 L229.00,515.70 L224.38,518.61" stroke="#e02a2a" stroke-width="1" fill="none"/>
<rect x="229.00" y="447.20" width="65.70" height="68.70" fill="#fff" stroke="#e02a2a" stroke-width="1.1" rx="0"/>
<polyline points="234.40,463.61 234.54,462.11 234.68,460.68 234.81,459.31 234.95,458.02 235.09,456.81 235.23,455.69 235.36,454.66 235.50,453.72 235.64,452.89 235.78,452.15 235.92,451.53 236.05,451.02 236.19,450.61 236.33,450.33 236.47,450.16 236.60,450.10 236.74,450.16 236.88,450.34 237.02,450.63 237.16,451.04 237.29,451.56 237.43,452.19 237.57,452.93 237.71,453.77 237.84,454.72 237.98,455.75 238.12,456.88 238.26,458.10 238.39,459.39 238.53,460.76 238.67,462.20 238.81,463.69 238.95,465.25 239.08,466.85 239.22,468.49 239.36,470.16 239.50,471.86 239.63,473.58 239.77,475.30 239.91,477.03 240.05,478.75 240.19,480.46 240.32,482.14 240.46,483.80 240.60,485.41 240.74,486.99 240.87,488.51 241.01,489.97 241.15,491.37 241.29,492.69 241.43,493.94 241.56,495.10 241.70,496.18 241.84,497.16 241.98,498.04 242.11,498.82 242.25,499.50 242.39,500.06 242.53,500.52 242.66,500.86 242.80,501.08 242.94,501.19 243.08,501.18 243.22,501.06 243.35,500.82 243.49,500.46 243.63,499.99 243.77,499.41 243.90,498.72 244.04,497.93 244.18,497.03 244.32,496.04 244.46,494.95 244.59,493.77 244.73,492.52 244.87,491.18 245.01,489.77 245.14,488.30 245.28,486.77 245.42,485.20 245.56,483.57 245.70,481.91 245.83,480.22 245.97,478.52 246.11,476.79 246.25,475.07 246.38,473.34 246.52,471.63 246.66,469.93 246.80,468.26 246.94,466.63 247.07,465.03 247.21,463.49 247.35,462.00 247.49,460.57 247.62,459.21 247.76,457.93 247.90,456.72 248.04,455.61 248.18,454.58 248.31,453.65 248.45,452.83 248.59,452.10 248.73,451.49 248.86,450.98 249.00,450.59 249.14,450.31 249.28,450.15 249.41,450.10 249.55,450.17 249.69,450.36 249.83,450.66 249.97,451.08 250.10,451.61 250.24,452.25 250.38,452.99 250.52,453.84 250.65,454.79 250.79,455.84 250.93,456.97 251.07,458.19 251.21,459.49 251.34,460.87 251.48,462.31 251.62,463.81 251.76,465.37 251.89,466.97 252.03,468.62 252.17,470.29 252.31,471.99 252.45,473.71 252.58,475.44 252.72,477.16 252.86,478.88 253.00,480.59 253.13,482.27 253.27,483.92 253.41,485.54 253.55,487.11 253.69,488.62 253.82,490.08 253.96,491.47 254.10,492.79 254.24,494.03 254.37,495.19 254.51,496.26 254.65,497.23 254.79,498.11 254.92,498.88 255.06,499.54 255.20,500.10 255.34,500.55 255.48,500.88 255.61,501.09 255.75,501.19 255.89,501.18 256.03,501.04 256.16,500.79 256.30,500.43 256.44,499.95 256.58,499.36 256.72,498.66 256.85,497.86 256.99,496.96 257.13,495.96 257.27,494.86 257.40,493.68 257.54,492.41 257.68,491.07 257.82,489.66 257.96,488.19 258.09,486.65 258.23,485.07 258.37,483.44 258.51,481.78 258.64,480.09 258.78,478.38 258.92,476.66 259.06,474.93 259.19,473.21 259.33,471.50 259.47,469.80 259.61,468.13 259.75,466.50 259.88,464.91 260.02,463.37 260.16,461.88 260.30,460.46 260.43,459.11 260.57,457.83 260.71,456.63 260.85,455.52 260.99,454.51 261.12,453.58 261.26,452.77 261.40,452.05 261.54,451.44 261.67,450.95 261.81,450.56 261.95,450.29 262.09,450.14 262.23,450.10 262.36,450.18 262.50,450.38 262.64,450.69 262.78,451.12 262.91,451.65 263.05,452.30 263.19,453.06 263.33,453.91 263.47,454.87 263.60,455.92 263.74,457.07 263.88,458.29 264.02,459.60 264.15,460.98 264.29,462.43 264.43,463.93 264.57,465.49 264.70,467.10 264.84,468.75 264.98,470.43 265.12,472.13 265.26,473.85 265.39,475.57 265.53,477.30 265.67,479.02 265.81,480.72 265.94,482.40 266.08,484.05 266.22,485.66 266.36,487.23 266.50,488.74 266.63,490.19 266.77,491.58 266.91,492.89 267.05,494.13 267.18,495.28 267.32,496.34 267.46,497.30 267.60,498.17 267.74,498.93 267.87,499.59 268.01,500.14 268.15,500.58 268.29,500.90 268.42,501.10 268.56,501.20 268.70,501.17 268.84,501.03 268.98,500.77 269.11,500.39 269.25,499.91 269.39,499.31 269.53,498.60 269.66,497.79 269.80,496.88 269.94,495.87 270.08,494.77 270.22,493.58 270.35,492.31 270.49,490.97 270.63,489.55 270.77,488.07 270.90,486.53 271.04,484.94 271.18,483.32 271.32,481.65 271.45,479.96 271.59,478.25 271.73,476.52 271.87,474.80 272.01,473.07 272.14,471.36 272.28,469.67 272.42,468.01 272.56,466.38 272.69,464.79 272.83,463.25 272.97,461.77 273.11,460.35 273.25,459.00 273.38,457.73 273.52,456.54 273.66,455.44 273.80,454.43 273.93,453.52 274.07,452.71 274.21,452.00 274.35,451.40 274.49,450.91 274.62,450.54 274.76,450.28 274.90,450.13 275.04,450.10 275.17,450.19 275.31,450.40 275.45,450.72 275.59,451.15 275.73,451.70 275.86,452.36 276.00,453.12 276.14,453.99 276.28,454.95 276.41,456.01 276.55,457.16 276.69,458.39 276.83,459.70 276.96,461.09 277.10,462.54 277.24,464.05 277.38,465.62 277.52,467.23 277.65,468.88 277.79,470.56 277.93,472.26 278.07,473.98 278.20,475.71 278.34,477.43 278.48,479.15 278.62,480.85 278.76,482.53 278.89,484.18 279.03,485.79 279.17,487.35 279.31,488.86 279.44,490.30 279.58,491.68 279.72,492.99 279.86,494.22 280.00,495.36 280.13,496.42 280.27,497.37 280.41,498.23 280.55,498.99 280.68,499.64 280.82,500.18 280.96,500.61 281.10,500.92 281.24,501.12 281.37,501.20 281.51,501.16 281.65,501.01 281.79,500.74 281.92,500.36 282.06,499.86 282.20,499.26 282.34,498.54 282.47,497.73 282.61,496.81 282.75,495.79 282.89,494.68 283.03,493.49 283.16,492.21 283.30,490.86 283.44,489.44 283.58,487.95 283.71,486.41 283.85,484.82 283.99,483.19 284.13,481.52 284.27,479.83 284.40,478.11 284.54,476.39 284.68,474.66 284.82,472.94 284.95,471.23 285.09,469.54 285.23,467.88 285.37,466.25 285.51,464.67 285.64,463.13 285.78,461.66 285.92,460.24 286.06,458.90 286.19,457.64 286.33,456.45 286.47,455.36 286.61,454.36 286.75,453.45 286.88,452.65 287.02,451.95 287.16,451.36 287.30,450.88 287.43,450.51 287.57,450.26 287.71,450.13 287.85,450.11 287.98,450.20 288.12,450.42 288.26,450.75 288.40,451.19 288.54,451.75 288.67,452.41 288.81,453.18 288.95,454.06 289.09,455.03 289.22,456.10 289.36,457.25 289.50,458.49" stroke="#3a3a3a" stroke-width="0.55" fill="none" stroke-dasharray="1.8 0.7"/>
<line x1="234.40" y1="503.40" x2="289.50" y2="503.40" stroke="#444" stroke-width="0.5"/>
<line x1="242.10" y1="503.40" x2="242.10" y2="504.20" stroke="#444" stroke-width="0.4"/>
<text x="242.10" y="508.60" font-size="4.6" font-family="Liberation Serif" font-weight="bold" text-anchor="middle" fill="#222">3.3</text>
<line x1="254.20" y1="503.40" x2="254.20" y2="504.20" stroke="#444" stroke-width="0.4"/>
<text x="254.20" y="508.60" font-size="4.6" font-family="Liberation Serif" font-weight="bold" text-anchor="middle" fill="#222">3.4</text>
<line x1="267.40" y1="503.40" x2="267.40" y2="504.20" stroke="#444" stroke-width="0.4"/>
<text x="267.40" y="508.60" font-size="4.6" font-family="Liberation Serif" font-weight="bold" text-anchor="middle" fill="#222">3.5</text>
<line x1="280.70" y1="503.40" x2="280.70" y2="504.20" stroke="#444" stroke-width="0.4"/>
<text x="280.70" y="508.60" font-size="4.6" font-family="Liberation Serif" font-weight="bold" text-anchor="middle" fill="#222">3.6</text>
<text x="263.00" y="513.80" font-size="4.6" font-family="Liberation Serif" font-weight="bold" text-anchor="middle" fill="#222">Time (s)</text>
<path d="M431.5,441.10L432.2,441.28L432.9,441.96L433.6,441.70L434.3,441.11L435.0,441.52L435.7,441.57L436.4,441.19L437.1,441.88L437.8,441.14L438.5,441.47L439.2,441.62L439.9,441.52L440.6,441.70L441.3,441.89L442.0,442.15L442.7,441.34L443.4,441.78L444.1,441.84L444.8,441.35L445.5,441.00L446.2,442.17L446.9,441.36L447.6,441.38L448.3,442.07L449.0,441.70L449.7,441.57L450.4,441.93L451.1,441.04L451.8,441.85L452.5,441.45L453.2,441.11L453.9,441.79L454.6,442.12L455.3,441.25L456.0,441.76L456.7,441.36L457.4,441.89L458.1,441.87L458.8,441.26L459.5,442.00L460.2,441.79L460.9,441.82L461.6,441.98L462.3,441.51L463.0,441.91L463.7,442.05L464.4,441.12L465.1,442.02L465.8,441.47L466.5,441.58L467.2,441.18L467.9,441.84L468.6,441.35L469.3,442.05L470.0,441.33L470.7,441.67L471.4,441.48L472.1,441.74L472.8,441.24L473.5,441.22L474.2,441.90L474.9,441.90L475.6,441.68L476.3,442.11L477.0,441.25L477.7,442.02L478.4,441.20L479.1,442.16L479.8,441.75L480.5,441.73L481.2,442.16L481.9,441.94L482.6,441.95L483.3,441.06L484.0,441.44L484.7,441.10L485.4,441.23L486.1,441.26L486.8,442.03L487.5,441.15L488.2,441.36L488.9,441.59L489.6,442.02L490.3,442.16L491.0,441.85L491.7,441.26L492.4,441.65L493.1,441.85L493.8,441.06L494.5,441.82L495.2,441.44L495.9,441.71L496.6,441.80L497.3,441.80L498.0,441.63L498.7,441.67L499.4,441.24L500.1,441.59L500.8,441.15L501.5,441.58L502.2,441.64L502.9,441.93L503.6,441.47L504.3,441.02L505.0,441.63L505.7,441.25L506.4,441.89L507.1,441.47L507.8,441.46L508.5,442.09L509.2,441.47L509.9,441.42L510.6,441.42L511.3,441.58L512.0,441.11L512.7,441.66L513.4,442.11L514.1,441.68L514.8,441.89L515.5,442.14L516.2,442.01L516.9,441.89L517.6,441.98L518.3,441.98L519.0,441.30L519.7,441.58L520.4,441.41L521.1,441.31L521.8,441.69L522.5,441.38L523.2,441.74L523.9,441.70L524.6,441.13L525.3,441.53L526.0,441.47L526.7,441.85L527.4,441.11L528.1,441.20L528.8,441.62L529.5,441.49L530.2,441.80L530.9,441.40L531.6,441.24L532.3,442.12L533.0,441.29L533.7,441.18L534.4,441.34L535.1,441.41L535.8,441.27L536.5,441.64L537.2,442.12L537.9,441.15L538.6,441.50L539.3,441.80L540.0,442.06L540.7,442.20L541.4,441.17L542.1,441.64L542.8,442.06L543.5,441.06L544.2,441.71L544.9,441.21L545.6,441.92L546.3,442.13L547.0,441.65L547.7,441.01L548.4,441.08L549.1,441.50L549.8,442.02L550.5,441.28L551.2,441.80L551.9,441.49L552.6,441.32L553.3,441.84L554.0,441.37L554.7,441.45L555.4,441.92L556.1,441.59L556.8,441.94L557.5,441.62L558.2,441.19L558.9,441.53L559.6,442.05L560.3,441.68L561.0,442.16L561.7,441.00L562.4,441.41L563.1,441.92L563.8,441.82L564.5,441.67L565.2,441.80L565.9,442.05L566.6,441.82L567.3,441.66L568.0,441.67L568.7,441.80L569.4,441.39L570.1,441.80L570.8,441.74L571.5,441.94L572.2,441.58L572.9,441.03L573.6,441.64L574.3,442.03L575.0,441.77L575.7,441.77L576.4,441.47L577.1,441.43L577.8,441.86L578.5,441.09L579.2,442.04L579.9,442.05L580.6,442.15L581.3,441.16L582.0,441.14L582.7,442.07L583.4,441.48L584.1,441.32L584.8,441.46L585.5,441.79L586.2,441.19L586.9,441.58L587.6,441.79L588.3,441.86L589.0,441.01L589.7,441.97L590.4,441.52L591.1,441.52L591.8,441.67L592.5,441.34L593.2,442.06L593.9,441.25L594.6,441.65L595.3,441.20L596.0,441.74L596.7,442.08L597.4,442.06L598.1,441.16L598.8,441.75L599.5,442.07L600.2,441.24L600.9,441.50L601.6,441.86L602.3,441.89L603.0,441.54L603.7,441.77L604.4,441.80L605.1,441.42L605.8,441.78L606.5,441.69L607.2,441.84L607.9,441.61L608.6,441.40L609.3,441.52L610.0,442.11L610.7,441.23L611.4,441.18L612.1,441.01L612.8,442.02L613.5,442.19L614.2,441.28L614.9,441.32L615.6,441.24L616.3,441.72L617.0,441.58L617.7,441.98L618.4,441.25L619.1,442.05L619.8,441.56L620.5,441.97L621.2,441.96L621.9,442.09L622.6,441.60L623.3,441.73L624.0,441.67L624.7,441.23L625.4,441.60L626.1,442.11L626.8,442.09L627.5,441.03L628.2,441.80L628.9,441.39L629.6,441.16L630.3,441.17L631.0,441.95L631.7,442.15L632.4,441.62L633.1,441.46L633.8,441.61L634.5,442.00L635.2,441.90L635.9,441.08L636.6,441.26L637.3,442.04L638.0,441.59L638.7,441.79L639.4,441.93L640.1,441.76L640.8,441.88L641.5,441.65L642.2,441.28L642.9,441.22L643.6,442.19L644.3,441.01L645.0,441.83L645.7,442.06L646.4,441.28L647.1,441.06L647.8,441.48L648.5,441.40L649.2,441.55L649.9,441.51L650.6,442.13L651.3,441.14L652.0,442.13L652.7,441.05L653.4,442.13L654.1,441.40L654.8,441.87L655.5,441.00L655.5,523.85L654.8,523.17L654.1,523.62L653.4,523.70L652.7,522.99L652.0,523.14L651.3,522.89L650.6,523.48L649.9,523.38L649.2,523.51L648.5,523.14L647.8,523.06L647.1,522.82L646.4,523.75L645.7,523.66L645.0,523.16L644.3,523.60L643.6,523.29L642.9,522.90L642.2,523.16L641.5,523.40L640.8,522.95L640.1,523.45L639.4,523.31L638.7,523.31L638.0,522.80L637.3,523.02L636.6,523.37L635.9,523.00L635.2,523.36L634.5,522.85L633.8,523.50L633.1,522.99L632.4,523.36L631.7,523.20L631.0,523.82L630.3,523.77L629.6,523.82L628.9,523.35L628.2,523.79L627.5,523.58L626.8,523.30L626.1,522.95L625.4,523.04L624.7,523.31L624.0,523.67L623.3,523.99L622.6,523.20L621.9,522.83L621.2,522.88L620.5,523.30L619.8,523.00L619.1,523.14L618.4,523.14L617.7,522.90L617.0,523.40L616.3,523.08L615.6,523.58L614.9,523.44L614.2,523.65L613.5,523.95L612.8,522.98L612.1,523.69L611.4,522.95L610.7,523.62L610.0,523.37L609.3,523.86L608.6,522.87L607.9,523.53L607.2,523.65L606.5,523.80L605.8,523.85L605.1,523.77L604.4,522.93L603.7,523.06L603.0,523.17L602.3,523.58L601.6,523.33L600.9,523.04L600.2,523.58L599.5,523.32L598.8,523.41L598.1,523.50L597.4,523.79L596.7,523.82L596.0,523.37L595.3,523.97L594.6,523.57L593.9,523.74L593.2,523.44L592.5,523.70L591.8,523.17L591.1,523.81L590.4,522.81L589.7,522.88L589.0,523.57L588.3,522.84L587.6,523.68L586.9,523.88L586.2,523.91L585.5,523.42L584.8,523.96L584.1,522.85L583.4,522.89L582.7,523.75L582.0,522.80L581.3,523.38L580.6,522.96L579.9,523.02L579.2,524.00L578.5,522.88L577.8,523.11L577.1,523.56L576.4,523.02L575.7,523.24L575.0,523.77L574.3,523.10L573.6,523.44L572.9,523.02L572.2,522.98L571.5,523.42L570.8,522.98L570.1,523.84L569.4,523.74L568.7,523.22L568.0,523.41L567.3,523.85L566.6,523.28L565.9,522.88L565.2,523.98L564.5,523.92L563.8,523.68L563.1,523.08L562.4,522.87L561.7,523.19L561.0,522.94L560.3,523.75L559.6,523.65L558.9,523.28L558.2,523.27L557.5,523.27L556.8,523.93L556.1,523.70L555.4,523.60L554.7,522.94L554.0,523.52L553.3,522.87L552.6,523.66L551.9,522.93L551.2,522.99L550.5,523.43L549.8,523.24L549.1,523.98L548.4,523.76L547.7,523.25L547.0,523.71L546.3,523.84L545.6,523.85L544.9,523.12L544.2,523.40L543.5,522.94L542.8,523.58L542.1,523.14L541.4,523.64L540.7,523.89L540.0,523.46L539.3,522.86L538.6,523.92L537.9,523.12L537.2,522.80L536.5,523.03L535.8,523.22L535.1,523.65L534.4,523.13L533.7,522.84L533.0,523.51L532.3,523.65L531.6,523.40L530.9,522.96L530.2,522.86L529.5,523.75L528.8,523.03L528.1,522.85L527.4,523.74L526.7,523.16L526.0,523.53L525.3,523.77L524.6,522.90L523.9,523.48L523.2,523.62L522.5,523.76L521.8,523.25L521.1,522.85L520.4,523.26L519.7,522.86L519.0,523.94L518.3,523.88L517.6,523.49L516.9,523.51L516.2,523.49L515.5,523.27L514.8,523.41L514.1,523.26L513.4,523.64L512.7,523.69L512.0,523.12L511.3,523.30L510.6,523.21L509.9,523.83L509.2,523.02L508.5,522.85L507.8,523.05L507.1,523.34L506.4,523.39L505.7,523.25L505.0,523.74L504.3,522.94L503.6,522.87L502.9,522.88L502.2,522.87L501.5,523.57L500.8,523.09L500.1,523.78L499.4,523.61L498.7,523.51L498.0,523.22L497.3,523.49L496.6,523.39L495.9,522.99L495.2,523.06L494.5,523.87L493.8,523.97L493.1,523.21L492.4,523.28L491.7,523.66L491.0,523.05L490.3,522.98L489.6,523.80L488.9,523.12L488.2,523.25L487.5,523.12L486.8,523.25L486.1,523.15L485.4,523.69L484.7,523.55L484.0,523.68L483.3,523.51L482.6,522.89L481.9,522.90L481.2,523.43L480.5,523.97L479.8,523.43L479.1,523.44L478.4,523.60L477.7,523.75L477.0,523.84L476.3,523.03L475.6,523.24L474.9,523.74L474.2,523.93L473.5,522.87L472.8,522.82L472.1,523.75L471.4,522.90L470.7,522.94L470.0,523.16L469.3,523.66L468.6,523.06L467.9,522.95L467.2,523.86L466.5,523.02L465.8,523.79L465.1,523.41L464.4,523.89L463.7,523.44L463.0,523.05L462.3,523.50L461.6,523.13L460.9,523.36L460.2,523.30L459.5,523.95L458.8,523.95L458.1,522.88L457.4,523.71L456.7,523.56L456.0,523.31L455.3,523.39L454.6,523.71L453.9,522.89L453.2,522.90L452.5,523.95L451.8,523.76L451.1,523.21L450.4,523.16L449.7,523.68L449.0,523.53L448.3,523.09L447.6,522.95L446.9,523.19L446.2,523.15L445.5,523.64L444.8,523.88L444.1,523.51L443.4,523.68L442.7,523.11L442.0,523.16L441.3,523.09L440.6,522.86L439.9,523.58L439.2,523.07L438.5,523.10L437.8,523.30L437.1,523.80L436.4,522.83L435.7,523.54L435.0,523.28L434.3,522.98L433.6,523.77L432.9,523.55L432.2,523.61L431.5,523.34Z" stroke="none" stroke-width="1" fill="#000"/>
<rect x="407.90" y="429.40" width="270.30" height="105.80" fill="none" stroke="#555" stroke-width="0.8" rx="0"/>
<line x1="405.70" y1="440.10" x2="407.90" y2="440.10" stroke="#555" stroke-width="0.8"/>
<text x="400.00" y="443.40" font-size="9.5" font-weight="bold" text-anchor="end" fill="#000">2</text>
<line x1="405.70" y1="461.05" x2="407.90" y2="461.05" stroke="#555" stroke-width="0.8"/>
<text x="400.00" y="464.35" font-size="9.5" font-weight="bold" text-anchor="end" fill="#000">1</text>
<line x1="405.70" y1="482.00" x2="407.90" y2="482.00" stroke="#555" stroke-width="0.8"/>
<text x="400.00" y="485.30" font-size="9.5" font-weight="bold" text-anchor="end" fill="#000">0</text>
<line x1="405.70" y1="502.95" x2="407.90" y2="502.95" stroke="#555" stroke-width="0.8"/>
<text x="400.00" y="506.25" font-size="9.5" font-weight="bold" text-anchor="end" fill="#000">–1</text>
<line x1="405.70" y1="523.90" x2="407.90" y2="523.90" stroke="#555" stroke-width="0.8"/>
<text x="400.00" y="527.20" font-size="9.5" font-weight="bold" text-anchor="end" fill="#000">–2</text>
<line x1="406.60" y1="429.62" x2="407.90" y2="429.62" stroke="#555" stroke-width="0.6"/>
<line x1="406.60" y1="450.57" x2="407.90" y2="450.57" stroke="#555" stroke-width="0.6"/>
<line x1="406.60" y1="471.52" x2="407.90" y2="471.52" stroke="#555" stroke-width="0.6"/>
<line x1="406.60" y1="492.48" x2="407.90" y2="492.48" stroke="#555" stroke-width="0.6"/>
<line x1="406.60" y1="513.42" x2="407.90" y2="513.42" stroke="#555" stroke-width="0.6"/>
<line x1="406.60" y1="534.38" x2="407.90" y2="534.38" stroke="#555" stroke-width="0.6"/>
<line x1="409.17" y1="535.20" x2="409.17" y2="536.50" stroke="#555" stroke-width="0.6"/>
<line x1="431.50" y1="535.20" x2="431.50" y2="537.50" stroke="#555" stroke-width="0.8"/>
<line x1="453.83" y1="535.20" x2="453.83" y2="536.50" stroke="#555" stroke-width="0.6"/>
<line x1="476.16" y1="535.20" x2="476.16" y2="537.50" stroke="#555" stroke-width="0.8"/>
<line x1="498.49" y1="535.20" x2="498.49" y2="536.50" stroke="#555" stroke-width="0.6"/>
<line x1="520.82" y1="535.20" x2="520.82" y2="537.50" stroke="#555" stroke-width="0.8"/>
<line x1="543.15" y1="535.20" x2="543.15" y2="536.50" stroke="#555" stroke-width="0.6"/>
<line x1="565.48" y1="535.20" x2="565.48" y2="537.50" stroke="#555" stroke-width="0.8"/>
<line x1="587.81" y1="535.20" x2="587.81" y2="536.50" stroke="#555" stroke-width="0.6"/>
<line x1="610.14" y1="535.20" x2="610.14" y2="537.50" stroke="#555" stroke-width="0.8"/>
<line x1="632.47" y1="535.20" x2="632.47" y2="536.50" stroke="#555" stroke-width="0.6"/>
<line x1="654.80" y1="535.20" x2="654.80" y2="537.50" stroke="#555" stroke-width="0.8"/>
<line x1="677.13" y1="535.20" x2="677.13" y2="536.50" stroke="#555" stroke-width="0.6"/>
<text x="431.50" y="550.20" font-size="9.5" font-weight="bold" text-anchor="middle" fill="#000">0</text>
<text x="476.16" y="550.20" font-size="9.5" font-weight="bold" text-anchor="middle" fill="#000">2</text>
<text x="520.82" y="550.20" font-size="9.5" font-weight="bold" text-anchor="middle" fill="#000">4</text>
<text x="565.48" y="550.20" font-size="9.5" font-weight="bold" text-anchor="middle" fill="#000">6</text>
<text x="610.14" y="550.20" font-size="9.5" font-weight="bold" text-anchor="middle" fill="#000">8</text>
<text x="654.80" y="550.20" font-size="9.5" font-weight="bold" text-anchor="middle" fill="#000">10</text>
<text x="537.00" y="565.70" font-size="9.3" font-weight="bold" text-anchor="middle" fill="#000">Time (s)</text>
<text x="379.30" y="483.50" font-size="9.2" font-weight="bold" text-anchor="middle" fill="#000" transform="rotate(-90 379.3 483.5)">Output voltage (V)</text>
<line x1="505.40" y1="437.00" x2="505.40" y2="527.50" stroke="#e02a2a" stroke-width="0.8"/>
<line x1="505.40" y1="437.00" x2="577.00" y2="447.00" stroke="#e02a2a" stroke-width="0.9"/>
<line x1="505.40" y1="527.50" x2="577.00" y2="516.50" stroke="#e02a2a" stroke-width="0.9"/>
<path d="M572.35,444.13 L577.00,447.00 L571.74,448.49" stroke="#e02a2a" stroke-width="1" fill="none"/>
<path d="M571.72,515.08 L577.00,516.50 L572.39,519.43" stroke="#e02a2a" stroke-width="1" fill="none"/>
<rect x="577.50" y="447.00" width="64.30" height="69.60" fill="#fff" stroke="#e02a2a" stroke-width="1.1" rx="0"/>
<polyline points="584.30,466.76 584.43,465.17 584.56,463.64 584.69,462.17 584.82,460.77 584.95,459.45 585.08,458.22 585.21,457.08 585.34,456.04 585.47,455.10 585.60,454.28 585.73,453.58 585.86,452.99 585.99,452.53 586.12,452.19 586.25,451.98 586.38,451.90 586.51,451.95 586.64,452.13 586.77,452.43 586.90,452.87 587.04,453.42 587.17,454.10 587.30,454.89 587.43,455.80 587.56,456.81 587.69,457.93 587.82,459.14 587.95,460.44 588.08,461.82 588.21,463.27 588.34,464.79 588.47,466.36 588.60,467.99 588.73,469.65 588.86,471.34 588.99,473.05 589.12,474.77 589.25,476.50 589.38,478.21 589.51,479.90 589.64,481.57 589.77,483.19 589.90,484.77 590.03,486.30 590.16,487.76 590.29,489.15 590.42,490.45 590.55,491.67 590.68,492.79 590.81,493.82 590.94,494.73 591.07,495.54 591.20,496.22 591.33,496.79 591.46,497.23 591.59,497.55 591.72,497.74 591.85,497.80 591.98,497.73 592.12,497.53 592.25,497.21 592.38,496.76 592.51,496.18 592.64,495.48 592.77,494.67 592.90,493.75 593.03,492.72 593.16,491.59 593.29,490.36 593.42,489.05 593.55,487.66 593.68,486.19 593.81,484.67 593.94,483.08 594.07,481.45 594.20,479.79 594.33,478.09 594.46,476.38 594.59,474.65 594.72,472.93 594.85,471.22 594.98,469.53 595.11,467.87 595.24,466.25 595.37,464.68 595.50,463.17 595.63,461.72 595.76,460.34 595.89,459.05 596.02,457.85 596.15,456.74 596.28,455.73 596.41,454.83 596.54,454.05 596.67,453.38 596.80,452.83 596.93,452.41 597.06,452.11 597.19,451.94 597.32,451.90 597.46,451.99 597.59,452.21 597.72,452.56 597.85,453.03 597.98,453.62 598.11,454.34 598.24,455.17 598.37,456.11 598.50,457.15 598.63,458.30 598.76,459.54 598.89,460.86 599.02,462.27 599.15,463.74 599.28,465.28 599.41,466.87 599.54,468.51 599.67,470.18 599.80,471.88 599.93,473.59 600.06,475.32 600.19,477.04 600.32,478.74 600.45,480.43 600.58,482.08 600.71,483.70 600.84,485.26 600.97,486.77 601.10,488.20 601.23,489.57 601.36,490.84 601.49,492.03 601.62,493.13 601.75,494.12 601.88,495.00 602.01,495.77 602.14,496.42 602.27,496.94 602.40,497.35 602.53,497.62 602.67,497.77 602.80,497.79 602.93,497.68 603.06,497.44 603.19,497.08 603.32,496.59 603.45,495.97 603.58,495.24 603.71,494.39 603.84,493.44 603.97,492.37 604.10,491.21 604.23,489.96 604.36,488.62 604.49,487.21 604.62,485.72 604.75,484.17 604.88,482.57 605.01,480.93 605.14,479.25 605.27,477.55 605.40,475.84 605.53,474.11 605.66,472.39 605.79,470.69 605.92,469.01 606.05,467.36 606.18,465.75 606.31,464.20 606.44,462.70 606.57,461.28 606.70,459.93 606.83,458.66 606.96,457.49 607.09,456.41 607.22,455.44 607.35,454.57 607.48,453.82 607.61,453.19 607.75,452.68 607.88,452.30 608.01,452.04 608.14,451.92 608.27,451.92 608.40,452.05 608.53,452.31 608.66,452.69 608.79,453.20 608.92,453.83 609.05,454.58 609.18,455.45 609.31,456.42 609.44,457.50 609.57,458.68 609.70,459.95 609.83,461.30 609.96,462.72 610.09,464.22 610.22,465.77 610.35,467.38 610.48,469.03 610.61,470.71 610.74,472.42 610.87,474.14 611.00,475.86 611.13,477.58 611.26,479.28 611.39,480.95 611.52,482.60 611.65,484.19 611.78,485.74 611.91,487.23 612.04,488.64 612.17,489.98 612.30,491.23 612.43,492.39 612.56,493.45 612.69,494.41 612.82,495.25 612.95,495.98 613.09,496.59 613.22,497.08 613.35,497.45 613.48,497.68 613.61,497.79 613.74,497.77 613.87,497.62 614.00,497.34 614.13,496.94 614.26,496.41 614.39,495.76 614.52,494.99 614.65,494.10 614.78,493.11 614.91,492.02 615.04,490.83 615.17,489.55 615.30,488.18 615.43,486.75 615.56,485.24 615.69,483.68 615.82,482.06 615.95,480.41 616.08,478.72 616.21,477.01 616.34,475.29 616.47,473.57 616.60,471.86 616.73,470.16 616.86,468.49 616.99,466.85 617.12,465.26 617.25,463.72 617.38,462.25 617.51,460.84 617.64,459.52 617.77,458.28 617.90,457.14 618.03,456.09 618.16,455.15 618.30,454.33 618.43,453.61 618.56,453.02 618.69,452.55 618.82,452.21 618.95,451.99 619.08,451.90 619.21,451.94 619.34,452.11 619.47,452.41 619.60,452.84 619.73,453.39 619.86,454.06 619.99,454.84 620.12,455.74 620.25,456.75 620.38,457.86 620.51,459.07 620.64,460.36 620.77,461.74 620.90,463.19 621.03,464.70 621.16,466.28 621.29,467.90 621.42,469.56 621.55,471.25 621.68,472.96 621.81,474.68 621.94,476.40 622.07,478.11 622.20,479.81 622.33,481.47 622.46,483.10 622.59,484.69 622.72,486.22 622.85,487.68 622.98,489.07 623.11,490.38 623.24,491.60 623.38,492.73 623.51,493.76 623.64,494.68 623.77,495.49 623.90,496.19 624.03,496.76 624.16,497.21 624.29,497.54 624.42,497.73 624.55,497.80 624.68,497.74 624.81,497.55 624.94,497.23 625.07,496.78 625.20,496.22 625.33,495.53 625.46,494.72 625.59,493.80 625.72,492.78 625.85,491.65 625.98,490.43 626.11,489.13 626.24,487.74 626.37,486.28 626.50,484.75 626.63,483.17 626.76,481.54 626.89,479.88 627.02,478.19 627.15,476.47 627.28,474.75 627.41,473.03 627.54,471.32 627.67,469.63 627.80,467.97 627.93,466.34 628.06,464.77 628.19,463.25 628.32,461.80 628.45,460.42 628.58,459.12 628.72,457.91 628.85,456.80 628.98,455.79 629.11,454.88 629.24,454.09 629.37,453.41 629.50,452.86 629.63,452.43 629.76,452.12 629.89,451.95 630.02,451.90 630.15,451.98 630.28,452.19 630.41,452.53 630.54,453.00 630.67,453.59 630.80,454.29 630.93,455.12 631.06,456.05 631.19,457.09 631.32,458.23 631.45,459.47 631.58,460.79 631.71,462.19 631.84,463.66 631.97,465.19 632.10,466.78 632.23,468.42 632.36,470.09 632.49,471.78 632.62,473.50 632.75,475.22 632.88,476.94 633.01,478.65 633.14,480.34 633.27,481.99 633.40,483.61 633.53,485.17 633.66,486.68 633.79,488.12 633.93,489.49 634.06,490.78 634.19,491.97 634.32,493.07 634.45,494.06 634.58,494.95 634.71,495.73 634.84,496.38 634.97,496.92 635.10,497.33 635.23,497.61 635.36,497.77 635.49,497.79 635.62,497.69 635.75,497.46 635.88,497.10 636.01,496.62 636.14,496.01 636.27,495.29 636.40,494.44" stroke="#3a3a3a" stroke-width="0.55" fill="none" stroke-dasharray="1.8 0.7"/>
<line x1="589.70" y1="500.20" x2="589.70" y2="501.00" stroke="#444" stroke-width="0.4"/>
<text x="589.70" y="506.00" font-size="4.2" font-family="Liberation Sans" font-weight="bold" text-anchor="middle" fill="#222">3.28</text>
<line x1="600.20" y1="500.20" x2="600.20" y2="501.00" stroke="#444" stroke-width="0.4"/>
<text x="600.20" y="506.00" font-size="4.2" font-family="Liberation Sans" font-weight="bold" text-anchor="middle" fill="#222">3.29</text>
<line x1="610.70" y1="500.20" x2="610.70" y2="501.00" stroke="#444" stroke-width="0.4"/>
<text x="610.70" y="506.00" font-size="4.2" font-family="Liberation Sans" font-weight="bold" text-anchor="middle" fill="#222">3.30</text>
<line x1="622.10" y1="500.20" x2="622.10" y2="501.00" stroke="#444" stroke-width="0.4"/>
<text x="622.10" y="506.00" font-size="4.2" font-family="Liberation Sans" font-weight="bold" text-anchor="middle" fill="#222">3.31</text>
<line x1="633.10" y1="500.20" x2="633.10" y2="501.00" stroke="#444" stroke-width="0.4"/>
<text x="633.10" y="506.00" font-size="4.2" font-family="Liberation Sans" font-weight="bold" text-anchor="middle" fill="#222">3.32</text>
<text x="610.70" y="512.30" font-size="4.2" font-family="Liberation Sans" font-weight="bold" text-anchor="middle" fill="#222">Time (s)</text>
<path d="M64.0,660.8L69.4,667.5L74.3,680.8L78.8,671.3L83.0,656.1L86.9,662.7L90.5,658.9L93.9,656.1L97.1,664.6L100.2,660.8L103.1,669.4L105.8,659.9L108.4,674.2L111.0,662.4L113.4,663.6L115.7,659.6L117.9,657.8L120.0,662.7L122.0,662.5L124.0,658.5L125.9,665.9L127.8,669.0L129.6,659.9L131.3,665.0L133.0,670.9L134.6,665.7L136.2,664.0L137.8,667.5L139.3,668.9L140.7,661.6L142.1,657.5L143.5,662.9L144.9,665.3L146.2,659.9L147.5,658.4L148.8,663.2L150.0,659.2L151.2,685.6L152.4,673.2L153.6,665.7L154.7,660.1L155.8,660.5L156.9,656.3L158.0,667.6L159.1,664.5L160.1,665.2L161.1,669.4L162.1,660.5L163.1,658.4L164.1,664.4L165.0,654.2L165.9,656.8L166.9,657.6L167.8,658.6L168.6,655.9L169.5,666.7L170.4,657.3L171.2,657.3L172.1,668.5L172.9,658.3L173.7,661.1L174.5,656.1L175.3,676.4L176.1,659.8L176.8,658.0L177.6,663.7L178.3,656.6L179.1,659.9L179.8,666.9L180.5,661.7L181.2,654.0L181.9,656.2L182.6,659.9L183.3,656.0L184.0,652.9L184.6,650.3L185.3,666.3L185.9,654.5L186.6,656.4L187.2,659.1L187.9,663.3L188.5,652.5L189.1,664.4L189.7,655.7L190.3,652.1L190.9,665.9L191.5,659.6L192.1,664.4L192.7,656.9L193.2,650.8L193.8,594.1L194.4,666.4L194.9,660.7L195.5,654.5L196.0,650.3L196.6,655.8L197.1,661.4L197.6,656.4L198.1,657.9L198.7,658.7L199.2,661.3L199.7,655.9L200.2,656.2L200.7,658.1L201.2,658.7L201.7,663.8L202.2,660.0L202.7,651.8L203.1,658.5L203.6,664.5L204.1,651.1L204.5,654.9L205.0,647.3L205.5,657.2L205.9,659.7L206.4,664.5L206.8,651.0L207.3,644.9L207.7,661.4L208.2,660.5L208.6,654.4L209.0,661.4L209.5,658.6L209.9,659.0L210.3,656.3L210.7,651.9L211.1,657.1L211.5,652.7L212.0,659.3L212.4,655.6L212.8,667.7L213.2,664.3L213.6,653.2L214.0,660.0L214.4,654.2L214.7,654.4L215.1,658.5L215.5,653.1L215.9,652.0L216.3,671.2L216.7,660.5L217.0,660.6L217.4,659.4L217.8,662.6L218.1,659.7L218.5,657.5L218.9,655.8L219.2,658.7L219.6,672.7L219.9,657.4L220.3,655.9L220.6,660.9L221.0,654.1L221.3,660.2L221.7,660.6L222.0,647.0L222.4,653.2L222.7,647.9L223.0,646.4L223.4,661.1L223.7,655.1L224.0,654.7L224.4,654.2L224.7,654.3L225.0,656.0L225.3,656.1L225.7,664.5L226.0,657.8L226.3,660.8L226.6,656.4L226.9,659.4L227.2,653.9L227.6,652.9L227.9,655.5L228.2,655.4L228.5,656.5L228.8,659.3L229.1,657.8L229.4,670.1L229.7,655.1L230.0,656.9L230.3,654.1L230.6,663.7L230.9,652.5L231.2,660.9L231.4,660.7L231.7,658.0L232.0,659.9L232.3,655.5L232.6,659.9L232.9,635.1L233.2,661.3L233.4,650.4L233.7,656.8L234.0,662.9L234.3,657.0L234.5,664.9L234.8,647.9L235.1,664.8L235.4,654.6L235.6,654.2L235.9,664.4L236.2,655.5L236.4,651.9L236.7,654.6L237.0,655.7L237.2,652.2L237.5,656.2L237.7,655.3L238.0,657.7L238.2,653.8L238.5,661.8L238.8,653.0L239.0,659.6L239.3,662.6L239.5,655.1L239.8,648.3L240.0,652.1L240.3,659.7L240.5,653.4L240.8,659.3L241.0,657.6L241.2,656.5L241.5,668.9L241.7,656.0L242.0,662.3L242.2,660.6L242.4,664.6L242.7,664.8L242.9,661.9L243.2,652.8L243.4,648.4L243.6,657.1L243.9,651.4L244.1,658.4L244.3,666.9L244.5,656.2L244.8,654.7L245.0,673.7L245.2,655.4L245.5,654.1L245.7,661.5L245.9,664.6L246.1,658.2L246.3,658.1L246.6,658.8L246.8,651.9L247.0,648.1L247.2,659.2L247.4,663.4L247.7,652.1L247.9,653.3L248.1,651.6L248.3,659.0L248.5,653.2L248.7,646.5L248.9,652.8L249.2,660.2L249.4,653.9L249.6,650.5L249.8,655.1L250.0,659.9L250.2,649.0L250.4,663.5L250.6,654.4L250.8,657.1L251.0,663.2L251.2,650.7L251.4,655.2L251.6,663.1L251.8,653.9L252.0,659.3L252.2,666.9L252.4,660.6L252.6,655.6L252.8,653.7L253.0,656.1L253.2,656.8L253.4,654.6L253.6,658.1L253.8,650.9L254.0,656.2L254.2,655.5L254.4,654.2L254.6,662.5L254.8,660.7L255.0,649.0L255.2,655.3L255.4,658.5L255.5,655.2L255.7,659.5L255.9,655.5L256.1,660.4L256.3,655.5L256.5,665.1L256.7,649.9L256.8,659.5L257.0,665.1L257.2,657.9L257.4,658.6L257.6,655.9L257.8,662.6L257.9,654.5L258.1,637.6L258.3,663.2L258.5,654.7L258.7,658.1L258.8,655.4L259.0,665.9L259.2,662.4L259.4,653.9L259.5,656.5L259.7,647.7L259.9,659.9L260.1,655.3L260.2,640.9L260.4,660.2L260.6,660.8L260.8,656.3L260.9,656.3L261.1,651.6L261.3,655.3L261.4,659.9L261.6,654.8L261.8,642.1L262.0,649.2L262.1,670.4L262.3,656.5L262.5,660.3L262.6,652.5L262.8,656.6L263.0,645.5L263.1,650.8L263.3,650.9L263.4,654.6L263.6,655.8L263.8,653.7L263.9,648.7L264.1,652.7L264.3,657.3L264.4,648.7L264.6,654.4L264.7,655.7L264.9,659.5L265.1,658.2L265.2,658.6L265.4,669.9L265.5,649.9L265.7,652.2L265.9,656.3L266.0,649.6L266.2,653.0L266.3,653.5L266.5,668.5L266.6,656.9L266.8,653.1L266.9,647.6L267.1,646.5L267.2,648.9L267.4,662.6L267.6,668.1L267.7,653.8L267.9,656.8L268.0,652.0L268.2,657.9L268.3,656.2L268.5,665.4L268.6,655.3L268.8,660.1L268.9,656.1L269.1,655.7L269.2,658.9L269.4,656.7L269.5,658.6L269.6,654.7L269.8,656.2L269.9,661.9L270.1,662.2L270.2,650.1L270.4,659.9L270.5,654.4L270.7,657.6L270.8,674.5L271.0,663.9L271.1,659.5L271.2,658.9L271.4,657.2L271.5,667.2L271.7,663.8L271.8,661.3L271.9,652.6L272.1,673.5L272.2,658.9L272.4,664.2L272.5,659.3L272.6,664.2L272.8,659.9L272.9,653.7L273.1,660.2L273.2,659.9L273.3,660.4L273.5,666.4L273.6,659.8L273.8,663.8L273.9,680.3L274.0,663.2L274.2,664.3L274.3,659.3L274.4,663.6L274.6,666.3L274.7,656.0L274.8,658.6L275.0,657.1L275.1,660.7L275.2,664.5L275.4,666.1L275.5,665.5L275.6,659.1L275.8,663.5L275.9,671.9L276.0,664.4L276.2,671.7L276.3,663.4L276.4,670.7L276.5,671.0L276.7,663.8L276.8,664.9L276.9,673.3L277.1,660.7L277.2,653.3L277.3,672.5L277.4,655.2L277.6,668.4L277.7,667.4L277.8,665.8L278.0,672.5L278.1,658.2L278.2,662.5L278.3,669.0L278.5,679.7L278.6,673.1L278.7,667.1L278.8,660.4L279.0,674.3L279.1,667.7L279.2,664.7L279.3,660.0L279.5,658.5L279.6,668.0L279.7,669.5L279.8,663.3L279.9,667.6L280.1,667.4L280.2,660.1L280.3,657.0L280.4,664.5L280.6,667.0L280.7,663.0L280.8,675.9L280.9,666.2L281.0,671.7L281.2,653.7L281.3,662.5L281.4,665.5L281.5,667.3L281.6,679.6L281.8,662.7L281.9,657.9L282.0,670.3L282.1,663.0L282.2,662.8L282.3,674.8L282.5,661.8L282.6,676.3L282.7,665.6L282.8,667.2L282.9,662.7L283.0,675.0L283.2,666.5L283.3,661.5L283.4,673.6L283.5,661.9L283.6,669.3L283.7,678.1L283.8,667.8L284.0,672.4L284.1,676.1L284.2,673.5L284.3,661.9L284.4,671.3L284.5,637.0L284.6,670.7L284.8,669.4L284.9,661.5L285.0,666.7L285.1,670.0L285.2,674.6L285.3,662.0L285.4,664.3L285.5,669.9L285.6,667.0L285.8,685.6L285.9,678.8L286.0,672.9L286.1,666.8L286.2,667.2L286.3,672.7L286.4,665.0L286.5,664.9L286.6,668.1L286.7,663.7L286.8,670.7L287.0,669.9L287.1,666.9L287.2,669.6L287.3,665.4L287.4,676.2L287.5,662.2L287.6,673.9L287.7,670.7L287.8,677.1L287.9,666.9L288.0,663.4L288.1,664.6L288.2,665.9L288.3,678.5L288.4,674.5L288.6,672.9L288.7,675.5L288.8,664.7L288.9,669.7L289.0,670.9L289.1,668.3L289.2,675.9L289.3,675.8L289.4,675.7L289.5,668.6L289.6,669.5L289.7,668.3L289.8,665.7L289.9,678.6L290.0,674.5L290.1,670.9L290.2,678.8L290.3,674.6L290.4,666.5L290.5,673.3L290.6,666.4L290.7,671.9L290.8,673.3L290.9,666.6L291.0,674.3L291.1,670.6L291.2,665.5L291.3,674.5L291.4,675.8L291.5,672.7L291.6,669.6L291.7,670.3L291.8,672.1L291.9,670.1L292.0,681.4L292.1,677.6L292.2,672.3L292.3,678.1L292.4,680.4L292.5,679.7L292.6,678.3L292.7,674.5L292.8,679.0L292.9,672.5L293.0,664.9L293.1,674.6L293.2,667.2L293.3,672.5L293.4,679.9L293.5,675.5L293.6,679.3L293.7,670.2L293.8,680.4L293.9,667.5L294.0,671.5L294.0,685.2L294.1,670.5L294.2,666.6L294.3,678.9L294.4,669.7L294.5,684.3L294.6,673.7L294.7,683.8L294.8,672.6L294.9,684.5L295.0,689.0L295.1,673.2L295.2,663.3L295.3,678.4L295.4,671.0L295.5,674.8L295.6,677.1L295.6,672.3L295.7,666.9L295.8,682.0L295.9,672.7L296.0,673.8L296.1,683.2L296.2,667.3L296.3,665.5L296.4,688.6L296.5,666.7L296.6,675.6L296.7,676.8L296.7,668.1L296.8,674.8L296.9,674.4L297.0,668.1L297.1,669.4L297.2,671.5L297.3,683.5L297.4,684.5L297.5,670.4L297.6,681.2L297.6,675.6L297.7,682.0L297.8,677.4L297.9,683.2L298.0,668.0L298.1,681.9L298.2,677.2L298.3,677.6L298.4,670.4L298.4,684.2L298.5,676.9L298.6,677.9L298.7,674.1L298.8,674.4L298.9,679.3L299.0,675.7L299.1,678.9L299.1,674.6L299.2,677.6L299.3,680.5L299.4,677.3L299.5,675.3L299.6,665.3L299.7,679.8L299.7,675.7L299.8,669.7L299.9,688.3L300.0,686.5L300.1,683.7L300.2,678.1L300.3,664.7L300.3,675.5L300.4,671.3L300.5,678.8L300.6,690.6L300.7,689.8L300.8,679.8L300.9,676.8L300.9,684.6L301.0,672.0L301.1,685.9L301.2,672.0L301.3,670.3L301.4,682.0L301.4,683.8L301.5,673.6L301.6,692.3L301.7,673.6L301.8,684.4L301.9,674.0L301.9,677.8L302.0,680.6L302.1,683.0L302.2,677.1L302.3,688.3L302.4,679.9L302.4,680.5L302.5,674.9L302.6,685.1L302.7,669.6L302.8,680.2L302.8,684.6L302.9,671.4L303.0,670.0L303.1,679.7L303.2,683.5L303.3,678.7L303.3,682.5L303.4,680.5L303.5,670.8L303.6,676.9L303.7,678.2L303.7,677.1L303.8,679.3L303.9,674.6L304.0,674.4L304.1,680.9L304.1,678.5L304.2,666.4L304.3,676.8L304.4,680.0L304.5,668.3L304.5,679.0L304.6,684.8L304.7,675.5L304.8,683.8L304.8,681.7L304.9,677.4L305.0,679.8L305.1,683.1L305.2,682.0L305.2,682.3L305.3,680.3L305.4,682.9L305.5,682.2L305.5,668.5L305.6,682.1L305.7,671.4L305.8,672.3L305.9,680.0L305.9,686.7L306.0,676.9L306.1,675.7L306.2,674.2L306.2,678.9L306.3,673.0L306.4,672.0L306.5,684.8L306.6,671.8L306.6,678.4L306.7,682.3L306.8,681.0L306.9,669.5L306.9,674.2L307.0,688.7L307.1,678.9L307.2,680.1L307.2,680.3L307.3,682.1L307.4,687.0L307.5,674.9L307.5,684.4L307.6,681.4L307.7,682.6L307.8,683.3L307.8,675.6L307.9,677.5L308.0,683.0L308.1,684.4L308.1,682.0L308.2,674.4L308.3,678.9L308.4,678.3L308.4,681.3L308.5,680.9L308.6,678.4L308.6,689.2L308.7,671.1L308.8,683.7L308.9,682.6L308.9,672.6L309.0,678.4L309.1,679.4L309.2,692.3L309.2,692.3L309.3,678.7L309.4,673.4L309.4,684.4L309.5,672.5L309.6,685.6L309.7,683.5L309.7,677.0L309.8,679.7L309.9,676.1L310.0,683.6L310.0,685.1L310.1,689.5L310.2,686.1L310.2,685.4L310.3,687.3L310.4,683.8L310.5,683.3L310.5,690.2L310.6,666.8L310.7,684.2L310.7,686.4L310.8,673.3L310.9,673.7L311.0,685.9L311.0,687.6L311.1,685.1L311.2,674.0L311.2,681.5L311.3,684.1L311.4,680.1L311.4,673.6L311.5,687.2L311.6,681.9L311.7,687.2L311.7,668.6L311.8,670.4L311.9,675.0L311.9,680.7L312.0,676.5L312.1,691.0L312.1,678.5L312.2,687.0L312.3,687.0L312.3,683.7L312.4,689.6L312.5,677.0L312.6,676.4L312.6,678.7L312.7,685.0L312.8,676.5L312.8,680.7L312.9,673.9L313.0,684.9L313.0,692.3L313.1,682.6L313.2,668.8L313.2,677.7L313.3,681.2L313.4,686.4L313.4,677.5L313.5,677.7L313.6,682.9L313.6,679.8L313.7,679.1L313.8,683.6L313.8,691.4L313.9,679.5L314.0,675.1L314.0,676.8L314.1,677.7L314.2,677.6L314.2,666.7L314.3,678.9L314.4,674.8L314.4,652.2L314.5,680.0L314.6,678.9L314.6,674.8L314.7,671.5L314.8,678.7L314.8,678.4L314.9,679.9L315.0,686.7L315.0,674.5L315.1,681.7L315.2,689.4L315.2,681.1L315.3,689.4L315.4,685.7L315.4,680.3L315.5,685.2L315.6,674.8L315.6,688.1L315.7,679.0L315.7,677.5L315.8,672.8L315.9,675.6L315.9,679.2L316.0,680.0L316.1,680.7L316.1,674.5L316.2,683.9L316.3,677.7L316.3,681.0L316.4,679.2L316.5,681.9L316.5,669.3L316.6,683.9L316.6,679.2L316.7,685.6L316.8,677.3L316.8,678.2L316.9,678.3L317.0,675.4L317.0,688.4L317.1,680.5L317.2,687.0L317.2,679.3L317.3,686.8L317.3,685.6L317.4,680.9L317.5,673.3L317.5,677.6L317.6,679.1L317.7,673.3L317.7,685.6L317.8,691.6L317.8,682.9L317.9,682.1L318.0,674.2L318.0,669.4L318.1,687.6L318.2,667.7L318.2,672.5L318.3,676.3L318.3,678.8L318.4,668.0L318.5,680.3L318.5,683.2L318.6,680.0L318.7,687.9L318.7,678.3L318.8,681.3L318.8,679.0L318.9,678.9" stroke="#111" stroke-width="0.55" fill="none" stroke-linejoin="bevel"/>
<rect x="57.80" y="586.80" width="272.50" height="104.50" fill="none" stroke="#555" stroke-width="0.8" rx="0"/>
<line x1="55.60" y1="587.44" x2="57.80" y2="587.44" stroke="#555" stroke-width="0.8"/>
<text x="49.60" y="590.74" font-size="9.5" font-weight="bold" text-anchor="end" fill="#000">20</text>
<line x1="55.60" y1="606.50" x2="57.80" y2="606.50" stroke="#555" stroke-width="0.8"/>
<text x="49.60" y="609.80" font-size="9.5" font-weight="bold" text-anchor="end" fill="#000">0</text>
<line x1="55.60" y1="625.56" x2="57.80" y2="625.56" stroke="#555" stroke-width="0.8"/>
<text x="49.60" y="628.86" font-size="9.5" font-weight="bold" text-anchor="end" fill="#000">–20</text>
<line x1="55.60" y1="644.62" x2="57.80" y2="644.62" stroke="#555" stroke-width="0.8"/>
<text x="49.60" y="647.92" font-size="9.5" font-weight="bold" text-anchor="end" fill="#000">–40</text>
<line x1="55.60" y1="663.68" x2="57.80" y2="663.68" stroke="#555" stroke-width="0.8"/>
<text x="49.60" y="666.98" font-size="9.5" font-weight="bold" text-anchor="end" fill="#000">–60</text>
<line x1="55.60" y1="682.74" x2="57.80" y2="682.74" stroke="#555" stroke-width="0.8"/>
<text x="49.60" y="686.04" font-size="9.5" font-weight="bold" text-anchor="end" fill="#000">–80</text>
<line x1="56.50" y1="596.97" x2="57.80" y2="596.97" stroke="#555" stroke-width="0.6"/>
<line x1="56.50" y1="616.03" x2="57.80" y2="616.03" stroke="#555" stroke-width="0.6"/>
<line x1="56.50" y1="635.09" x2="57.80" y2="635.09" stroke="#555" stroke-width="0.6"/>
<line x1="56.50" y1="654.15" x2="57.80" y2="654.15" stroke="#555" stroke-width="0.6"/>
<line x1="56.50" y1="673.21" x2="57.80" y2="673.21" stroke="#555" stroke-width="0.6"/>
<line x1="64.00" y1="691.30" x2="64.00" y2="693.60" stroke="#555" stroke-width="0.8"/>
<text x="64.00" y="707.30" font-size="9.5" font-weight="bold" text-anchor="middle" fill="#000">1</text>
<line x1="193.80" y1="691.30" x2="193.80" y2="693.60" stroke="#555" stroke-width="0.8"/>
<text x="193.80" y="707.30" font-size="9.5" font-weight="bold" text-anchor="middle" fill="#000">10</text>
<line x1="323.60" y1="691.30" x2="323.60" y2="693.60" stroke="#555" stroke-width="0.8"/>
<text x="323.60" y="707.30" font-size="9.5" font-weight="bold" text-anchor="middle" fill="#000">100</text>
<line x1="103.07" y1="691.30" x2="103.07" y2="692.60" stroke="#555" stroke-width="0.6"/>
<line x1="125.93" y1="691.30" x2="125.93" y2="692.60" stroke="#555" stroke-width="0.6"/>
<line x1="142.15" y1="691.30" x2="142.15" y2="692.60" stroke="#555" stroke-width="0.6"/>
<line x1="154.73" y1="691.30" x2="154.73" y2="692.60" stroke="#555" stroke-width="0.6"/>
<line x1="165.00" y1="691.30" x2="165.00" y2="692.60" stroke="#555" stroke-width="0.6"/>
<line x1="173.69" y1="691.30" x2="173.69" y2="692.60" stroke="#555" stroke-width="0.6"/>
<line x1="181.22" y1="691.30" x2="181.22" y2="692.60" stroke="#555" stroke-width="0.6"/>
<line x1="187.86" y1="691.30" x2="187.86" y2="692.60" stroke="#555" stroke-width="0.6"/>
<line x1="232.87" y1="691.30" x2="232.87" y2="692.60" stroke="#555" stroke-width="0.6"/>
<line x1="255.73" y1="691.30" x2="255.73" y2="692.60" stroke="#555" stroke-width="0.6"/>
<line x1="271.95" y1="691.30" x2="271.95" y2="692.60" stroke="#555" stroke-width="0.6"/>
<line x1="284.53" y1="691.30" x2="284.53" y2="692.60" stroke="#555" stroke-width="0.6"/>
<line x1="294.80" y1="691.30" x2="294.80" y2="692.60" stroke="#555" stroke-width="0.6"/>
<line x1="303.49" y1="691.30" x2="303.49" y2="692.60" stroke="#555" stroke-width="0.6"/>
<line x1="311.02" y1="691.30" x2="311.02" y2="692.60" stroke="#555" stroke-width="0.6"/>
<line x1="317.66" y1="691.30" x2="317.66" y2="692.60" stroke="#555" stroke-width="0.6"/>
<text x="191.60" y="722.00" font-size="9.3" font-weight="bold" text-anchor="middle" fill="#000">Frequency (Hz)</text>
<text x="12.60" y="642.00" font-size="9.3" font-weight="bold" text-anchor="middle" fill="#000" transform="rotate(-90 12.6 642)">Output PSD (dB = 20</text>
<text x="24.90" y="640.80" font-size="9.3" font-weight="bold" text-anchor="middle" fill="#000" transform="rotate(-90 24.9 640.8)">log (V/Hz<tspan font-size="6" dy="-3.8">1/2</tspan><tspan dy="3.8">)</tspan></text>
<circle cx="193.80" cy="595.00" r="4.60" fill="none" stroke="#e02a2a" stroke-width="1.0"/>
<text x="200.80" y="603.30" font-size="9.3" font-weight="bold" text-anchor="start" fill="#000">Frequency peak</text>
<path d="M420.2,625.9L420.7,655.6L421.1,657.6L421.6,659.7L422.0,658.5L422.4,660.4L422.9,657.1L423.3,653.2L423.8,659.2L424.2,659.8L424.6,656.4L425.0,656.9L425.5,657.8L425.9,640.0L426.3,658.4L426.7,681.0L427.2,662.8L427.6,660.1L428.0,674.7L428.4,663.0L428.8,664.8L429.2,659.8L429.6,663.2L430.1,658.3L430.5,658.8L430.9,660.0L431.3,667.6L431.7,661.3L432.1,659.8L432.5,659.3L432.9,664.6L433.3,661.3L433.7,663.0L434.1,662.5L434.5,656.5L434.9,662.6L435.3,660.2L435.6,657.3L436.0,662.1L436.4,660.6L436.8,660.0L437.2,660.2L437.6,664.4L437.9,660.2L438.3,656.2L438.7,665.6L439.1,657.9L439.5,660.3L439.8,662.9L440.2,654.4L440.6,658.4L441.0,664.8L441.3,660.7L441.7,659.0L442.1,661.5L442.4,658.7L442.8,661.1L443.2,658.7L443.5,656.3L443.9,663.1L444.2,660.3L444.6,662.4L445.0,666.5L445.3,664.8L445.7,662.8L446.0,661.5L446.4,658.0L446.7,657.2L447.1,665.2L447.4,663.5L447.8,658.8L448.1,667.4L448.5,662.4L448.8,661.2L449.2,656.8L449.5,658.7L449.9,662.0L450.2,662.1L450.5,661.7L450.9,656.0L451.2,662.3L451.6,661.9L451.9,659.8L452.2,661.3L452.6,661.6L452.9,664.5L453.2,660.9L453.6,662.4L453.9,657.1L454.2,658.8L454.6,666.2L454.9,658.7L455.2,662.0L455.5,657.5L455.9,660.9L456.2,659.0L456.5,665.1L456.8,659.8L457.2,666.4L457.5,667.6L457.8,661.9L458.1,663.8L458.4,660.4L458.7,653.6L459.1,663.6L459.4,662.9L459.7,660.2L460.0,659.3L460.3,661.5L460.6,661.6L460.9,658.6L461.2,659.2L461.6,664.3L461.9,661.2L462.2,660.8L462.5,664.4L462.8,660.1L463.1,663.7L463.4,657.7L463.7,660.3L464.0,660.6L464.3,662.8L464.6,661.3L464.9,667.5L465.2,664.6L465.5,659.7L465.8,667.9L466.1,658.1L466.4,666.6L466.7,658.4L467.0,663.7L467.3,658.4L467.6,660.5L467.8,666.0L468.1,656.8L468.4,656.2L468.7,661.1L469.0,661.8L469.3,661.4L469.6,664.1L469.9,657.3L470.2,662.7L470.4,661.1L470.7,663.5L471.0,663.0L471.3,665.1L471.6,651.7L471.9,661.4L472.1,657.7L472.4,660.9L472.7,663.2L473.0,662.0L473.3,662.8L473.5,660.9L473.8,662.1L474.1,661.9L474.4,665.5L474.6,663.6L474.9,647.1L475.2,663.1L475.5,664.4L475.7,659.8L476.0,656.3L476.3,665.7L476.5,661.6L476.8,640.8L477.1,666.7L477.3,658.5L477.6,661.0L477.9,660.7L478.1,663.4L478.4,659.4L478.7,670.1L478.9,661.4L479.2,664.6L479.5,664.9L479.7,656.5L480.0,662.6L480.2,659.9L480.5,661.0L480.8,640.0L481.0,662.6L481.3,658.8L481.5,661.9L481.8,661.4L482.1,660.8L482.3,657.0L482.6,658.7L482.8,659.6L483.1,662.8L483.3,665.5L483.6,657.8L483.8,657.7L484.1,661.4L484.3,659.1L484.6,658.3L484.8,658.2L485.1,657.9L485.3,662.4L485.6,655.9L485.8,665.1L486.1,658.0L486.3,664.5L486.6,658.0L486.8,654.7L487.1,656.0L487.3,664.7L487.6,666.5L487.8,658.2L488.1,664.3L488.3,661.0L488.5,658.1L488.8,666.4L489.0,667.9L489.3,660.0L489.5,660.8L489.7,661.7L490.0,660.8L490.2,663.8L490.5,666.0L490.7,661.5L490.9,664.2L491.2,666.4L491.4,659.2L491.6,661.1L491.9,659.6L492.1,664.2L492.3,663.1L492.6,664.2L492.8,663.9L493.0,647.5L493.3,663.5L493.5,659.7L493.7,659.8L494.0,654.1L494.2,665.6L494.4,657.9L494.7,673.6L494.9,661.0L495.1,665.8L495.3,662.5L495.6,658.4L495.8,661.2L496.0,660.6L496.3,661.9L496.5,657.0L496.7,661.0L496.9,678.2L497.2,663.2L497.4,667.5L497.6,596.1L497.8,662.7L498.0,656.4L498.3,660.7L498.5,664.8L498.7,664.0L498.9,657.1L499.2,660.3L499.4,660.7L499.6,661.0L499.8,660.7L500.0,658.2L500.2,659.0L500.5,660.1L500.7,664.3L500.9,659.1L501.1,658.8L501.3,657.2L501.5,665.1L501.8,661.3L502.0,660.8L502.2,661.3L502.4,655.0L502.6,655.9L502.8,662.3L503.0,658.2L503.3,659.5L503.5,669.5L503.7,659.9L503.9,661.0L504.1,660.5L504.3,664.4L504.5,661.7L504.7,661.3L504.9,656.8L505.2,659.6L505.4,660.7L505.6,655.6L505.8,662.6L506.0,666.2L506.2,666.8L506.4,655.4L506.6,657.5L506.8,657.6L507.0,658.4L507.2,660.3L507.4,660.0L507.6,661.5L507.8,661.4L508.0,660.5L508.2,655.6L508.4,658.8L508.6,660.8L508.8,662.6L509.0,662.8L509.2,655.3L509.4,658.9L509.6,673.9L509.8,661.8L510.0,664.3L510.2,660.8L510.4,657.7L510.6,661.9L510.8,661.4L511.0,661.3L511.2,660.2L511.4,665.9L511.6,661.4L511.8,663.4L512.0,657.6L512.2,663.1L512.4,658.6L512.6,655.4L512.8,661.6L513.0,672.9L513.2,659.9L513.4,660.5L513.6,663.9L513.8,659.0L514.0,653.8L514.2,661.4L514.4,661.2L514.5,664.0L514.7,659.4L514.9,664.7L515.1,664.2L515.3,656.2L515.5,663.5L515.7,656.8L515.9,655.4L516.1,659.6L516.3,658.6L516.5,662.6L516.6,661.1L516.8,662.4L517.0,665.0L517.2,660.3L517.4,655.5L517.6,657.2L517.8,663.6L517.9,663.3L518.1,662.1L518.3,659.4L518.5,661.1L518.7,659.7L518.9,659.4L519.1,661.4L519.2,660.5L519.4,659.7L519.6,660.7L519.8,658.7L520.0,654.1L520.2,663.7L520.3,660.2L520.5,666.0L520.7,659.0L520.9,666.9L521.1,665.1L521.2,657.5L521.4,658.0L521.6,660.8L521.8,666.0L522.0,661.5L522.1,662.6L522.3,658.2L522.5,652.7L522.7,659.6L522.9,662.9L523.0,664.2L523.2,660.5L523.4,660.9L523.6,664.1L523.7,659.9L523.9,664.1L524.1,656.5L524.3,656.7L524.5,656.6L524.6,661.8L524.8,658.5L525.0,660.7L525.2,661.5L525.3,661.3L525.5,664.6L525.7,665.0L525.8,657.5L526.0,660.8L526.2,659.5L526.4,656.8L526.5,666.0L526.7,662.8L526.9,659.6L527.1,658.8L527.2,661.4L527.4,656.7L527.6,659.4L527.7,664.2L527.9,663.2L528.1,650.4L528.2,658.5L528.4,666.4L528.6,655.5L528.8,658.0L528.9,655.5L529.1,661.3L529.3,660.9L529.4,663.7L529.6,651.4L529.8,660.5L529.9,654.6L530.1,662.1L530.3,659.3L530.4,665.5L530.6,661.1L530.8,656.5L530.9,664.0L531.1,656.2L531.3,658.6L531.4,663.3L531.6,661.4L531.8,661.3L531.9,659.9L532.1,661.5L532.2,662.5L532.4,660.7L532.6,663.1L532.7,664.0L532.9,659.8L533.1,656.7L533.2,664.7L533.4,659.6L533.5,661.7L533.7,662.8L533.9,656.7L534.0,661.3L534.2,654.5L534.4,662.1L534.5,658.2L534.7,660.2L534.8,662.0L535.0,657.5L535.2,686.2L535.3,657.4L535.5,659.5L535.6,663.0L535.8,659.7L535.9,659.2L536.1,656.1L536.3,662.4L536.4,659.4L536.6,665.1L536.7,657.1L536.9,662.9L537.1,665.3L537.2,659.4L537.4,655.5L537.5,664.3L537.7,662.8L537.8,661.7L538.0,662.9L538.1,657.9L538.3,661.8L538.5,661.5L538.6,657.1L538.8,661.6L538.9,666.6L539.1,662.3L539.2,663.1L539.4,665.2L539.5,652.8L539.7,660.1L539.8,658.2L540.0,659.1L540.1,658.4L540.3,658.8L540.4,652.5L540.6,662.4L540.8,664.1L540.9,662.3L541.1,663.3L541.2,656.3L541.4,656.1L541.5,662.0L541.7,663.5L541.8,673.9L542.0,654.1L542.1,668.2L542.3,657.0L542.4,662.3L542.6,655.2L542.7,662.3L542.9,649.0L543.0,663.7L543.2,661.9L543.3,654.0L543.4,655.9L543.6,659.9L543.7,661.5L543.9,664.9L544.0,659.9L544.2,658.6L544.3,669.0L544.5,658.8L544.6,662.2L544.8,658.7L544.9,658.6L545.1,654.1L545.2,652.2L545.4,658.9L545.5,660.9L545.6,658.6L545.8,660.4L545.9,660.8L546.1,658.5L546.2,661.8L546.4,656.2L546.5,658.6L546.7,657.4L546.8,658.8L546.9,660.6L547.1,661.4L547.2,659.0L547.4,660.0L547.5,657.4L547.7,658.1L547.8,662.7L547.9,657.9L548.1,662.6L548.2,660.1L548.4,659.0L548.5,665.0L548.7,657.7L548.8,657.5L548.9,658.5L549.1,659.4L549.2,659.2L549.4,661.2L549.5,658.8L549.6,659.7L549.8,657.6L549.9,661.9L550.1,648.2L550.2,657.4L550.3,658.3L550.5,659.3L550.6,655.9L550.8,663.3L550.9,656.2L551.0,656.9L551.2,656.8L551.3,656.4L551.4,659.9L551.6,658.5L551.7,655.5L551.9,656.2L552.0,656.9L552.1,662.7L552.3,655.8L552.4,653.6L552.5,654.2L552.7,656.7L552.8,662.7L553.0,654.3L553.1,658.0L553.2,666.0L553.4,656.2L553.5,649.7L553.6,661.8L553.8,659.5L553.9,653.1L554.0,658.6L554.2,656.4L554.3,651.5L554.4,652.0L554.6,657.6L554.7,658.1L554.8,661.5L555.0,659.6L555.1,655.8L555.2,655.9L555.4,656.8L555.5,653.8L555.6,659.9L555.8,657.7L555.9,655.2L556.0,655.8L556.2,654.3L556.3,656.7L556.4,659.3L556.6,657.2L556.7,661.9L556.8,664.2L557.0,665.7L557.1,659.2L557.2,658.1L557.3,665.0L557.5,660.7L557.6,661.6L557.7,662.6L557.9,678.0L558.0,661.2L558.1,657.1L558.3,659.0L558.4,662.5L558.5,660.7L558.6,658.2L558.8,670.4L558.9,661.5L559.0,659.3L559.2,668.9L559.3,655.6L559.4,657.7L559.5,660.7L559.7,660.9L559.8,659.4L559.9,664.1L560.1,662.5L560.2,659.3L560.3,655.7L560.4,663.1L560.6,662.8L560.7,662.0L560.8,658.0L561.0,662.9L561.1,657.7L561.2,666.3L561.3,663.7L561.5,663.8L561.6,660.3L561.7,670.2L561.8,668.6L562.0,666.5L562.1,662.2L562.2,665.8L562.3,668.9L562.5,659.8L562.6,661.8L562.7,661.9L562.8,665.4L563.0,660.1L563.1,664.7L563.2,659.9L563.3,667.2L563.5,667.1L563.6,663.3L563.7,666.7L563.8,661.7L563.9,663.3L564.1,667.7L564.2,664.1L564.3,665.7L564.4,661.1L564.6,666.9L564.7,666.2L564.8,660.2L564.9,656.5L565.0,657.4L565.2,664.6L565.3,664.1L565.4,659.3L565.5,665.5L565.7,668.7L565.8,664.7L565.9,663.5L566.0,668.3L566.1,671.4L566.3,670.7L566.4,655.4L566.5,668.3L566.6,666.1L566.7,664.8L566.9,663.4L567.0,667.0L567.1,663.9L567.2,669.2L567.3,667.3L567.5,669.8L567.6,661.8L567.7,666.2L567.8,669.0L567.9,667.6L568.1,667.1L568.2,663.7L568.3,672.5L568.4,670.4L568.5,668.0L568.7,656.9L568.8,663.0L568.9,667.1L569.0,664.0L569.1,658.9L569.2,667.8L569.4,668.3L569.5,662.3L569.6,665.1L569.7,664.4L569.8,669.0L569.9,659.6L570.1,660.5L570.2,665.0L570.3,664.6L570.4,675.2L570.5,664.8L570.6,668.1L570.8,665.7L570.9,664.8L571.0,674.8L571.1,674.1L571.2,666.1L571.3,670.5L571.4,668.9L571.6,670.1L571.7,669.1L571.8,676.9L571.9,668.3L572.0,666.8L572.1,663.4L572.3,660.0L572.4,667.9L572.5,675.2L572.6,671.6L572.7,672.9L572.8,670.1L572.9,667.8L573.1,676.2L573.2,666.8L573.3,674.3L573.4,667.1L573.5,668.8L573.6,669.6L573.7,668.7L573.8,670.6L574.0,671.0L574.1,675.4L574.2,668.7L574.3,661.1L574.4,660.6L574.5,663.3L574.6,665.9L574.7,671.5L574.9,662.9L575.0,631.1L575.1,669.2L575.2,670.1L575.3,668.6L575.4,670.8L575.5,669.4L575.6,673.5L575.7,670.7L575.9,659.8L576.0,669.5L576.1,670.2L576.2,671.0L576.3,666.4L576.4,673.9L576.5,670.3L576.6,665.7L576.7,668.4L576.8,664.0L577.0,663.2L577.1,685.4L577.2,669.3L577.3,671.8L577.4,663.6L577.5,677.8L577.6,672.6L577.7,672.0L577.8,667.1L577.9,667.4L578.0,664.2L578.2,676.4L578.3,666.8L578.4,671.1L578.5,672.7L578.6,667.7L578.7,673.7L578.8,678.5L578.9,665.7L579.0,676.1L579.1,672.6L579.2,668.5L579.3,668.7L579.4,663.5L579.6,670.8L579.7,676.3L579.8,673.1L579.9,673.8L580.0,675.1L580.1,668.3L580.2,672.7L580.3,678.2L580.4,657.2L580.5,670.6L580.6,668.7L580.7,669.7L580.8,667.5L580.9,670.0L581.0,665.1L581.2,668.4L581.3,668.6L581.4,668.5L581.5,676.2L581.6,670.9L581.7,671.3L581.8,669.4L581.9,675.8L582.0,663.5L582.1,669.8L582.2,675.3L582.3,677.3L582.4,671.4L582.5,670.7L582.6,673.3L582.7,669.9L582.8,673.0L582.9,668.1L583.0,673.3L583.1,670.5L583.2,666.3L583.3,659.8L583.5,674.5L583.6,672.3L583.7,673.9L583.8,667.2L583.9,675.2L584.0,672.4L584.1,670.6L584.2,674.5L584.3,674.4L584.4,672.4L584.5,679.1L584.6,676.5L584.7,672.2L584.8,669.9L584.9,671.3L585.0,677.9L585.1,672.5L585.2,667.3L585.3,668.3L585.4,670.9L585.5,674.2L585.6,668.0L585.7,673.0L585.8,675.4L585.9,673.8L586.0,664.5L586.1,669.6L586.2,665.7L586.3,672.4L586.4,666.5L586.5,672.9L586.6,671.0L586.7,660.1L586.8,667.2L586.9,672.4L587.0,670.6L587.1,668.9L587.2,665.2L587.3,672.2L587.4,677.4L587.5,671.3L587.6,670.1L587.7,669.7L587.8,657.7L587.9,668.8L588.0,666.7L588.1,674.6L588.2,666.4L588.3,661.3L588.4,666.8L588.5,668.9L588.6,669.3L588.7,662.5L588.8,673.7L588.9,670.3L589.0,667.9L589.1,666.7L589.2,671.6L589.3,668.5L589.4,670.9L589.5,669.2L589.6,670.2L589.7,674.4L589.8,669.7L589.9,666.0L590.0,673.6L590.1,670.6L590.2,666.8L590.3,674.0L590.4,668.8L590.5,673.9L590.6,664.8L590.7,659.9L590.8,661.1L590.9,670.3L591.0,666.3L591.0,668.9L591.1,668.9L591.2,662.9L591.3,678.5L591.4,671.5L591.5,669.5L591.6,663.4L591.7,668.4L591.8,672.0L591.9,668.0L592.0,666.1L592.1,669.0L592.2,667.1L592.3,671.2L592.4,677.9L592.5,665.3L592.6,666.1L592.7,668.4L592.8,668.7L592.9,664.6L593.0,670.8L593.1,671.8L593.2,669.7L593.2,663.9L593.3,674.6L593.4,663.9L593.5,671.4L593.6,673.3L593.7,663.5L593.8,669.1L593.9,674.1L594.0,670.2L594.1,664.8L594.2,673.9L594.3,670.4L594.4,666.9L594.5,665.6L594.6,671.2L594.7,667.0L594.8,668.6L594.8,670.7L594.9,670.5L595.0,668.1L595.1,668.3L595.2,670.7L595.3,652.7L595.4,663.8L595.5,667.5L595.6,664.8L595.7,663.5L595.8,666.1L595.9,659.1L596.0,672.0L596.1,665.2L596.1,670.0L596.2,660.9L596.3,670.9L596.4,676.8L596.5,672.8L596.6,666.0L596.7,665.5L596.8,665.8L596.9,669.2L597.0,667.0L597.1,666.2L597.2,669.3L597.3,664.7L597.3,678.4L597.4,666.4L597.5,673.4L597.6,665.1L597.7,670.1L597.8,672.9L597.9,667.6L598.0,673.0L598.1,673.1L598.2,675.8L598.3,669.4L598.3,667.3L598.4,665.1L598.5,670.0L598.6,665.1L598.7,669.4L598.8,669.9L598.9,667.1L599.0,665.1L599.1,671.0L599.2,670.6L599.2,670.3L599.3,669.3L599.4,673.5L599.5,665.4L599.6,671.4L599.7,667.9L599.8,673.3L599.9,662.4L600.0,668.2L600.0,671.7L600.1,661.5L600.2,668.4L600.3,662.6L600.4,666.0L600.5,672.8L600.6,671.7L600.7,668.3L600.8,669.9L600.8,670.0L600.9,671.4L601.0,677.8L601.1,671.2L601.2,679.6L601.3,668.8L601.4,673.4L601.5,673.4L601.6,671.3L601.6,669.3L601.7,690.3L601.8,677.8L601.9,675.0L602.0,679.1L602.1,674.6L602.2,664.0L602.3,675.1L602.3,668.0L602.4,676.4L602.5,669.5L602.6,672.1L602.7,671.1L602.8,668.5L602.9,663.5L603.0,670.1L603.0,670.4L603.1,675.0L603.2,668.5L603.3,672.0L603.4,667.6L603.5,671.3L603.6,663.8L603.6,679.4L603.7,672.4L603.8,667.5L603.9,672.7L604.0,674.6L604.1,672.4L604.2,677.1L604.2,670.8L604.3,661.1L604.4,666.6L604.5,676.1L604.6,675.1L604.7,673.2L604.8,667.3L604.8,675.0L604.9,674.4L605.0,667.9L605.1,668.0L605.2,673.2L605.3,676.3L605.4,684.3L605.4,674.6L605.5,681.1L605.6,673.6L605.7,674.4L605.8,669.8L605.9,664.0L606.0,666.9L606.0,676.7L606.1,668.3L606.2,667.1L606.3,675.1L606.4,676.0L606.5,672.5L606.5,678.8L606.6,671.4L606.7,682.2L606.8,676.8L606.9,673.3L607.0,673.1L607.0,671.5L607.1,671.1L607.2,673.1L607.3,667.5L607.4,676.5L607.5,672.3L607.5,675.4L607.6,671.8L607.7,671.5L607.8,676.3L607.9,675.2L608.0,669.2L608.0,671.0L608.1,675.4L608.2,664.0L608.3,662.9L608.4,678.8L608.5,671.4L608.5,662.1L608.6,669.4L608.7,671.8L608.8,673.6L608.9,675.0L609.0,683.0L609.0,675.1L609.1,669.7L609.2,674.6L609.3,674.8L609.4,678.0L609.4,673.2L609.5,676.7L609.6,673.8L609.7,668.7L609.8,671.5L609.9,671.0L609.9,671.6L610.0,672.9L610.1,673.7L610.2,674.5L610.3,670.0L610.3,677.8L610.4,667.6L610.5,673.2L610.6,676.5L610.7,675.4L610.8,676.2L610.8,672.7L610.9,676.4L611.0,668.6L611.1,676.8L611.2,683.1L611.2,676.6L611.3,682.0L611.4,673.8L611.5,669.1L611.6,670.9L611.6,679.3L611.7,676.9L611.8,666.2L611.9,667.1L612.0,673.7L612.0,669.3L612.1,663.5L612.2,668.4L612.3,673.3L612.4,672.4L612.4,671.3L612.5,676.5L612.6,678.4L612.7,673.8L612.8,678.0L612.8,674.3L612.9,673.7L613.0,664.2L613.1,677.7L613.2,674.7L613.2,674.9L613.3,672.4L613.4,669.8L613.5,676.3L613.6,677.8L613.6,681.2L613.7,678.2L613.8,672.1L613.9,674.2L613.9,678.7L614.0,676.0L614.1,674.3L614.2,672.4L614.3,677.0L614.3,675.6L614.4,682.3L614.5,679.5L614.6,667.8L614.7,683.9L614.7,676.1L614.8,673.8L614.9,676.3L615.0,678.2L615.0,675.0L615.1,674.8L615.2,675.2L615.3,682.8L615.4,675.5L615.4,678.5L615.5,677.3L615.6,674.0L615.7,672.3L615.7,671.2L615.8,677.1L615.9,671.2L616.0,670.1L616.1,670.3L616.1,676.2L616.2,675.8L616.3,675.9L616.4,671.7L616.4,681.0L616.5,674.4L616.6,677.5L616.7,676.9L616.7,682.7L616.8,679.2L616.9,675.5L617.0,671.7L617.1,680.1L617.1,675.8L617.2,676.3L617.3,679.1L617.4,673.9L617.4,676.6L617.5,673.0L617.6,668.2L617.7,675.8L617.7,682.0L617.8,679.4L617.9,681.9L618.0,680.8L618.0,681.7L618.1,674.9L618.2,682.3L618.3,673.1L618.3,670.6L618.4,677.5L618.5,678.8L618.6,677.4L618.6,674.8L618.7,673.3L618.8,671.0L618.9,670.9L618.9,671.1L619.0,670.4L619.1,673.4L619.2,682.7L619.2,676.8L619.3,674.9L619.4,677.9L619.5,672.4L619.5,677.8L619.6,687.6L619.7,670.2L619.8,673.6L619.8,675.5L619.9,672.5L620.0,672.0L620.1,675.1L620.1,687.0L620.2,634.8L620.3,678.5L620.4,680.8L620.4,675.7L620.5,671.5L620.6,678.7L620.7,692.2L620.7,668.0L620.8,678.6L620.9,681.9L621.0,675.7L621.0,668.5L621.1,679.7L621.2,673.3L621.3,678.8L621.3,680.7L621.4,676.0L621.5,673.5L621.6,679.5L621.6,675.4L621.7,677.2L621.8,664.8L621.8,679.8L621.9,666.2L622.0,677.1L622.1,677.4L622.1,673.8L622.2,673.1L622.3,671.5L622.4,675.5L622.4,679.5L622.5,679.2L622.6,674.8L622.6,674.5L622.7,671.0L622.8,675.2L622.9,672.5L622.9,670.5L623.0,676.3L623.1,683.3L623.2,682.1L623.2,683.2L623.3,670.3L623.4,680.7L623.4,671.8L623.5,670.7L623.6,669.8L623.7,672.8L623.7,677.6L623.8,678.0L623.9,676.8L624.0,676.4L624.0,679.4L624.1,677.3L624.2,670.3L624.2,684.5L624.3,676.1L624.4,681.1L624.5,676.4L624.5,673.7L624.6,677.5L624.7,674.0L624.7,684.1L624.8,672.6L624.9,679.9L625.0,674.7L625.0,676.6L625.1,688.4L625.2,680.6L625.2,676.4L625.3,670.8L625.4,676.2L625.5,676.3L625.5,683.5L625.6,671.3L625.7,669.7L625.7,677.3L625.8,678.4L625.9,684.4L625.9,673.7L626.0,666.0L626.1,674.5L626.2,672.1L626.2,675.2L626.3,681.8L626.4,671.9L626.4,682.9L626.5,678.5L626.6,676.4L626.7,673.8L626.7,675.8L626.8,676.0L626.9,680.9L626.9,683.2L627.0,677.4L627.1,680.7L627.1,683.3L627.2,683.1L627.3,679.8L627.4,685.7L627.4,683.5L627.5,684.8L627.6,677.0L627.6,676.0L627.7,673.2L627.8,684.2L627.8,680.7L627.9,673.9L628.0,678.8L628.0,679.3L628.1,670.6L628.2,679.3L628.3,682.8L628.3,692.2L628.4,676.5L628.5,676.6L628.5,683.8L628.6,682.2L628.7,675.7L628.7,675.5L628.8,680.7L628.9,675.3L628.9,675.6L629.0,685.7L629.1,679.4L629.2,676.3L629.2,692.2L629.3,687.2L629.4,670.9L629.4,674.9L629.5,671.3L629.6,687.5L629.6,666.9L629.7,683.0L629.8,674.0L629.8,672.9L629.9,674.0L630.0,677.5L630.0,683.2L630.1,675.5L630.2,692.2L630.2,689.1L630.3,666.1L630.4,675.2L630.5,670.5L630.5,682.2L630.6,672.0L630.7,671.5L630.7,671.6L630.8,678.4L630.9,665.4L630.9,679.1L631.0,687.8L631.1,685.7L631.1,678.0L631.2,682.7L631.3,679.1L631.3,678.9L631.4,670.1L631.5,672.9L631.5,678.7L631.6,673.3L631.7,681.8L631.7,679.9L631.8,674.6L631.9,683.9L631.9,679.7L632.0,692.2L632.1,678.1L632.1,671.6L632.2,681.8L632.3,677.6L632.3,682.5L632.4,683.6L632.5,683.9L632.5,672.4L632.6,668.5L632.7,676.6L632.7,681.8L632.8,675.7L632.9,680.1L632.9,690.0L633.0,677.5L633.1,677.5L633.1,676.1L633.2,681.3L633.3,680.5L633.3,686.2L633.4,680.7L633.5,684.9L633.5,679.4L633.6,683.0L633.7,678.4L633.7,676.9L633.8,685.0L633.9,682.4L633.9,683.0L634.0,675.7L634.1,671.6L634.1,675.3L634.2,680.4L634.3,672.6L634.3,685.5L634.4,672.5L634.5,681.8L634.5,691.0L634.6,667.6L634.6,672.2L634.7,683.5L634.8,678.3L634.8,680.0L634.9,678.6L635.0,685.5L635.0,688.4L635.1,677.1L635.2,678.2L635.2,674.0L635.3,678.8L635.4,669.0L635.4,682.3L635.5,678.1L635.6,687.5L635.6,684.6L635.7,673.5L635.8,683.3L635.8,676.9L635.9,679.5L635.9,683.8L636.0,680.8L636.1,681.5L636.1,681.4L636.2,676.1L636.3,676.5L636.3,681.8L636.4,683.3L636.5,678.1L636.5,679.8L636.6,674.9L636.7,667.9L636.7,675.8L636.8,679.6L636.8,680.2L636.9,683.1L637.0,683.4L637.0,683.8L637.1,681.2L637.2,684.7L637.2,676.3L637.3,681.2L637.4,680.4L637.4,692.2L637.5,672.4L637.6,677.4L637.6,671.8L637.7,685.5L637.7,673.1L637.8,680.6L637.9,676.5L637.9,667.9L638.0,684.9L638.1,674.5L638.1,672.3L638.2,677.8L638.3,676.3L638.3,674.1L638.4,673.7L638.4,677.8L638.5,683.5L638.6,682.6L638.6,682.4L638.7,680.3L638.8,679.0L638.8,677.7L638.9,686.0L638.9,670.9L639.0,674.6L639.1,676.5L639.1,681.3L639.2,680.1L639.3,677.3L639.3,677.9L639.4,687.2L639.4,676.4L639.5,666.8L639.6,687.9L639.6,675.3L639.7,678.1L639.8,680.3L639.8,665.7L639.9,685.0L639.9,679.1L640.0,673.3L640.1,680.7L640.1,681.7L640.2,679.3L640.3,681.8L640.3,672.9L640.4,683.9L640.4,675.9L640.5,685.4L640.6,676.9L640.6,680.3L640.7,691.4L640.8,679.9L640.8,684.6L640.9,681.8L640.9,673.0L641.0,684.9L641.1,684.6L641.1,673.5L641.2,679.4L641.2,673.0L641.3,678.5L641.4,683.9L641.4,680.2L641.5,674.4L641.6,675.7L641.6,679.9L641.7,679.7L641.7,680.5L641.8,682.5L641.9,671.3L641.9,679.9L642.0,685.0L642.0,682.1L642.1,676.7L642.2,677.1L642.2,680.6L642.3,683.0L642.4,679.9L642.4,687.5L642.5,685.8L642.5,676.5L642.6,682.2L642.7,678.4L642.7,674.6L642.8,671.5L642.8,680.0L642.9,670.6L643.0,677.1L643.0,681.7L643.1,676.8L643.1,678.3L643.2,683.9L643.3,679.8L643.3,680.8L643.4,688.9L643.4,680.9L643.5,681.4L643.6,682.1L643.6,687.5L643.7,681.7L643.7,680.3L643.8,679.7L643.9,685.2L643.9,677.3L644.0,685.6L644.0,681.2L644.1,674.3L644.2,683.3L644.2,682.5L644.3,675.4L644.3,681.9L644.4,681.5L644.5,679.2L644.5,675.5L644.6,690.1L644.6,683.9L644.7,684.8L644.8,685.1L644.8,684.1L644.9,684.0L644.9,678.9L645.0,684.3L645.1,679.7L645.1,662.4L645.2,683.6L645.2,692.2L645.3,673.0L645.4,678.9L645.4,683.2L645.5,680.6L645.5,684.4L645.6,679.1L645.7,676.5L645.7,684.0L645.8,681.3L645.8,675.4L645.9,682.6L646.0,679.5L646.0,684.9L646.1,684.0L646.1,682.7L646.2,670.9L646.3,674.1L646.3,682.7L646.4,682.9L646.4,681.1L646.5,677.6L646.5,679.6L646.6,671.5L646.7,679.5L646.7,674.1L646.8,679.2L646.8,677.8L646.9,686.8L647.0,681.0L647.0,680.8L647.1,681.5L647.1,689.9L647.2,676.7L647.2,682.2L647.3,682.4L647.4,681.6L647.4,681.5L647.5,678.7L647.5,686.1L647.6,684.6L647.7,679.3L647.7,679.9L647.8,682.2L647.8,683.1L647.9,684.2L647.9,680.8L648.0,675.4L648.1,685.2L648.1,670.6L648.2,676.9L648.2,682.6L648.3,677.2L648.4,687.0L648.4,688.2L648.5,686.3L648.5,682.4L648.6,682.1L648.6,682.9L648.7,680.2L648.8,690.0L648.8,678.5L648.9,686.9L648.9,683.6L649.0,682.5L649.0,685.8L649.1,686.7L649.2,685.1L649.2,680.8L649.3,686.9L649.3,678.2L649.4,685.1L649.4,684.2L649.5,684.8L649.6,678.8L649.6,689.7L649.7,675.3L649.7,682.9L649.8,684.2L649.8,679.3L649.9,676.3L650.0,673.0L650.0,676.2L650.1,680.2L650.1,675.4L650.2,675.4L650.2,681.3L650.3,674.5L650.4,680.1L650.4,680.5L650.5,684.9L650.5,682.1L650.6,677.4L650.6,686.6L650.7,678.0L650.8,679.3L650.8,679.7L650.9,690.6L650.9,681.3L651.0,682.3L651.0,684.3L651.1,680.5L651.2,691.4L651.2,678.0L651.3,683.8L651.3,677.1L651.4,689.0L651.4,677.9L651.5,682.0L651.5,677.4L651.6,685.0L651.7,683.7L651.7,671.1L651.8,684.6L651.8,684.1L651.9,682.2L651.9,685.5L652.0,675.8L652.1,673.4L652.1,684.1L652.2,688.6L652.2,675.9L652.3,676.2L652.3,662.4L652.4,676.0L652.4,684.9L652.5,681.8L652.6,687.2L652.6,687.3L652.7,676.8L652.7,684.0L652.8,671.1L652.8,680.8L652.9,683.9L652.9,677.6L653.0,673.2L653.1,679.0L653.1,686.5L653.2,679.5L653.2,675.1L653.3,683.3L653.3,684.6L653.4,676.7L653.4,680.5L653.5,686.0L653.6,682.8L653.6,684.5L653.7,679.9L653.7,680.7L653.8,676.1L653.8,678.1L653.9,688.1L653.9,679.4L654.0,677.3L654.0,679.2L654.1,676.7L654.2,683.7L654.2,685.4L654.3,677.2L654.3,686.0L654.4,690.8L654.4,676.7L654.5,684.5L654.5,682.6L654.6,687.5L654.6,687.1L654.7,686.4L654.8,682.9L654.8,679.7L654.9,691.5L654.9,678.0L655.0,686.5L655.0,686.0L655.1,678.4L655.1,681.7L655.2,688.1L655.2,673.2L655.3,685.2L655.4,680.3L655.4,680.5L655.5,675.2L655.5,683.4L655.6,676.9L655.6,684.7L655.7,676.5L655.7,684.8L655.8,683.0L655.8,673.1L655.9,680.0L656.0,681.0L656.0,671.5L656.1,679.9L656.1,685.1L656.2,678.2L656.2,686.7L656.3,688.0L656.3,676.2L656.4,684.0L656.4,684.3L656.5,680.7L656.5,681.4L656.6,680.7L656.7,679.0L656.7,690.5L656.8,683.4L656.8,683.3L656.9,682.7L656.9,680.2L657.0,687.0L657.0,679.0L657.1,682.4L657.1,684.4L657.2,687.6L657.2,686.8L657.3,680.0L657.3,685.9L657.4,681.3L657.5,676.9L657.5,677.0L657.6,674.7L657.6,682.9L657.7,686.4L657.7,677.1L657.8,680.3L657.8,676.7L657.9,681.6L657.9,676.4L658.0,677.9L658.0,678.5L658.1,679.4L658.1,675.2L658.2,686.9L658.3,680.7L658.3,677.3L658.4,684.0L658.4,674.0L658.5,682.2L658.5,677.4L658.6,682.1L658.6,682.8L658.7,672.7L658.7,683.1L658.8,687.4L658.8,684.9L658.9,683.2L658.9,672.2L659.0,680.9L659.0,677.6L659.1,686.2L659.1,680.2L659.2,678.8L659.3,673.8L659.3,684.9L659.4,679.1L659.4,692.2L659.5,692.2L659.5,681.9L659.6,683.0L659.6,692.2L659.7,679.2L659.7,686.5L659.8,683.8L659.8,687.8L659.9,675.3L659.9,680.7L660.0,677.4L660.0,675.6L660.1,689.5L660.1,678.3L660.2,683.0L660.2,682.2L660.3,682.3L660.3,681.9L660.4,677.0L660.5,681.4L660.5,682.6L660.6,683.2L660.6,680.5L660.7,685.9L660.7,691.3L660.8,682.2L660.8,684.5L660.9,682.5L660.9,684.7L661.0,673.1L661.0,676.1L661.1,680.0L661.1,682.3L661.2,672.3L661.2,680.6L661.3,682.4L661.3,680.7L661.4,680.7L661.4,675.8L661.5,682.2L661.5,672.7L661.6,686.0L661.6,679.0L661.7,686.6L661.7,674.0L661.8,683.6L661.8,682.4L661.9,678.0L661.9,676.5L662.0,687.1L662.1,683.7L662.1,688.4L662.2,681.5L662.2,682.6L662.3,683.7L662.3,685.2L662.4,683.9L662.4,685.5L662.5,679.8L662.5,675.4L662.6,690.8L662.6,682.7L662.7,684.1L662.7,680.0L662.8,686.5L662.8,682.9L662.9,686.9L662.9,679.1L663.0,681.8L663.0,683.0L663.1,680.6L663.1,683.4L663.2,689.2L663.2,679.6L663.3,681.0L663.3,683.0L663.4,677.9L663.4,676.9L663.5,687.2L663.5,685.8L663.6,675.4L663.6,676.0L663.7,685.6L663.7,687.6L663.8,685.2L663.8,684.6L663.9,689.4L663.9,682.2L664.0,688.1L664.0,687.8L664.1,678.3L664.1,685.4L664.2,682.7L664.2,679.6L664.3,678.8L664.3,683.9L664.4,682.2L664.4,686.1L664.5,674.6L664.5,679.5L664.6,687.4L664.6,682.4L664.7,679.3L664.7,680.3L664.8,674.3L664.8,676.3L664.9,684.9L664.9,682.9L665.0,688.2L665.0,681.4L665.1,681.8L665.1,670.4L665.2,682.1L665.2,691.9" stroke="#000" stroke-width="0.5" fill="none" stroke-linejoin="bevel"/>
<rect x="409.00" y="586.90" width="269.40" height="105.00" fill="none" stroke="#555" stroke-width="0.8" rx="0"/>
<line x1="406.80" y1="587.90" x2="409.00" y2="587.90" stroke="#555" stroke-width="0.8"/>
<text x="400.80" y="591.20" font-size="9.5" font-weight="bold" text-anchor="end" fill="#000">20</text>
<line x1="406.80" y1="602.80" x2="409.00" y2="602.80" stroke="#555" stroke-width="0.8"/>
<text x="400.80" y="606.10" font-size="9.5" font-weight="bold" text-anchor="end" fill="#000">0</text>
<line x1="406.80" y1="617.70" x2="409.00" y2="617.70" stroke="#555" stroke-width="0.8"/>
<text x="400.80" y="621.00" font-size="9.5" font-weight="bold" text-anchor="end" fill="#000">–20</text>
<line x1="406.80" y1="632.60" x2="409.00" y2="632.60" stroke="#555" stroke-width="0.8"/>
<text x="400.80" y="635.90" font-size="9.5" font-weight="bold" text-anchor="end" fill="#000">–40</text>
<line x1="406.80" y1="647.50" x2="409.00" y2="647.50" stroke="#555" stroke-width="0.8"/>
<text x="400.80" y="650.80" font-size="9.5" font-weight="bold" text-anchor="end" fill="#000">–60</text>
<line x1="406.80" y1="662.40" x2="409.00" y2="662.40" stroke="#555" stroke-width="0.8"/>
<text x="400.80" y="665.70" font-size="9.5" font-weight="bold" text-anchor="end" fill="#000">–80</text>
<line x1="406.80" y1="677.30" x2="409.00" y2="677.30" stroke="#555" stroke-width="0.8"/>
<text x="400.80" y="680.60" font-size="9.5" font-weight="bold" text-anchor="end" fill="#000">–100</text>
<line x1="406.80" y1="692.20" x2="409.00" y2="692.20" stroke="#555" stroke-width="0.8"/>
<text x="400.80" y="695.50" font-size="9.5" font-weight="bold" text-anchor="end" fill="#000">–120</text>
<line x1="407.70" y1="595.35" x2="409.00" y2="595.35" stroke="#555" stroke-width="0.6"/>
<line x1="407.70" y1="610.25" x2="409.00" y2="610.25" stroke="#555" stroke-width="0.6"/>
<line x1="407.70" y1="625.15" x2="409.00" y2="625.15" stroke="#555" stroke-width="0.6"/>
<line x1="407.70" y1="640.05" x2="409.00" y2="640.05" stroke="#555" stroke-width="0.6"/>
<line x1="407.70" y1="654.95" x2="409.00" y2="654.95" stroke="#555" stroke-width="0.6"/>
<line x1="407.70" y1="669.85" x2="409.00" y2="669.85" stroke="#555" stroke-width="0.6"/>
<line x1="407.70" y1="684.75" x2="409.00" y2="684.75" stroke="#555" stroke-width="0.6"/>
<line x1="497.60" y1="691.90" x2="497.60" y2="694.20" stroke="#555" stroke-width="0.8"/>
<text x="497.60" y="708.30" font-size="9.5" font-weight="bold" text-anchor="middle" fill="#000">100</text>
<line x1="574.96" y1="691.90" x2="574.96" y2="694.20" stroke="#555" stroke-width="0.8"/>
<text x="574.96" y="708.30" font-size="9.5" font-weight="bold" text-anchor="middle" fill="#000">200</text>
<line x1="620.22" y1="691.90" x2="620.22" y2="694.20" stroke="#555" stroke-width="0.8"/>
<text x="620.22" y="708.30" font-size="9.5" font-weight="bold" text-anchor="middle" fill="#000">300</text>
<line x1="652.33" y1="691.90" x2="652.33" y2="694.20" stroke="#555" stroke-width="0.8"/>
<text x="652.33" y="708.30" font-size="9.5" font-weight="bold" text-anchor="middle" fill="#000">400</text>
<line x1="677.24" y1="691.90" x2="677.24" y2="694.20" stroke="#555" stroke-width="0.8"/>
<text x="677.24" y="708.30" font-size="9.5" font-weight="bold" text-anchor="middle" fill="#000">500</text>
<line x1="420.24" y1="691.90" x2="420.24" y2="693.20" stroke="#555" stroke-width="0.6"/>
<line x1="440.58" y1="691.90" x2="440.58" y2="693.20" stroke="#555" stroke-width="0.6"/>
<line x1="457.79" y1="691.90" x2="457.79" y2="693.20" stroke="#555" stroke-width="0.6"/>
<line x1="472.69" y1="691.90" x2="472.69" y2="693.20" stroke="#555" stroke-width="0.6"/>
<line x1="485.84" y1="691.90" x2="485.84" y2="693.20" stroke="#555" stroke-width="0.6"/>
<text x="540.40" y="722.80" font-size="9.3" font-weight="bold" text-anchor="middle" fill="#000">Frequency (Hz)</text>
<text x="356.40" y="643.20" font-size="9.3" font-weight="bold" text-anchor="middle" fill="#000" transform="rotate(-90 356.4 643.2)">Output PSD (dB = 20</text>
<text x="367.80" y="642.00" font-size="9.3" font-weight="bold" text-anchor="middle" fill="#000" transform="rotate(-90 367.8 642)">log (V/Hz<tspan font-size="6" dy="-3.8">1/2</tspan><tspan dy="3.8">)</tspan></text>
<circle cx="498.10" cy="594.40" r="4.60" fill="none" stroke="#e02a2a" stroke-width="1.0"/>
<text x="508.70" y="602.50" font-size="9.3" font-weight="bold" text-anchor="start" fill="#000">Frequency peak</text></svg>
</body></html>
